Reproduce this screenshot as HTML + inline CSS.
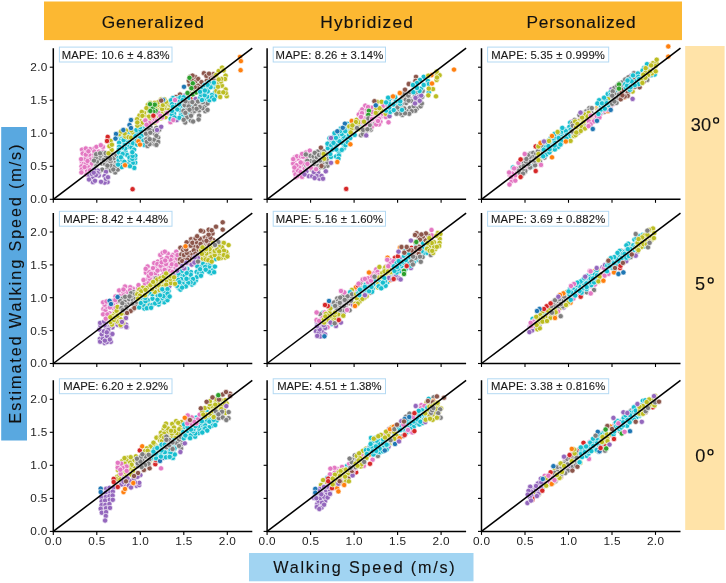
<!DOCTYPE html>
<html><head><meta charset="utf-8"><style>
html,body{margin:0;padding:0;background:#fff;width:726px;height:583px;overflow:hidden}
svg{display:block;will-change:transform}
circle{stroke:#fff;stroke-width:0.65px}
text{font-family:"Liberation Sans",sans-serif;fill:#111}
.tk{font-size:11.8px;fill:#222}
.mp{font-size:11.3px;fill:#1a1a1a;stroke:#1a1a1a;stroke-width:0.12px}
.hd{font-size:17.3px;fill:#111;stroke:#111;stroke-width:0.15px}
.rt{font-size:18.2px;fill:#111;stroke:#111;stroke-width:0.1px}
.lb{font-size:16.2px;fill:#111;stroke:#111;stroke-width:0.1px}
</style></head><body>
<svg width="726" height="583" viewBox="0 0 726 583">
<rect x="44" y="1.5" width="638" height="38.6" fill="#fcb832"/>
<text x="152.8" y="27.5" text-anchor="middle" class="hd" textLength="102" lengthAdjust="spacing">Generalized</text>
<text x="366.6" y="27.5" text-anchor="middle" class="hd" textLength="92.7" lengthAdjust="spacing">Hybridized</text>
<text x="581.0" y="27.5" text-anchor="middle" class="hd" textLength="109" lengthAdjust="spacing">Personalized</text>
<rect x="685.2" y="46" width="39.4" height="484" fill="#ffe3a8"/>
<text x="700.9" y="130.5" text-anchor="middle" class="rt">30</text>
<ellipse cx="716.1" cy="120.5" rx="2.45" ry="2.6" fill="none" stroke="#111" stroke-width="1.35"/>
<text x="700.0" y="290" text-anchor="middle" class="rt">5</text>
<ellipse cx="710.7" cy="280.4" rx="2.45" ry="2.6" fill="none" stroke="#111" stroke-width="1.35"/>
<text x="700.4" y="461.9" text-anchor="middle" class="rt">0</text>
<ellipse cx="710.5" cy="452.3" rx="2.45" ry="2.6" fill="none" stroke="#111" stroke-width="1.35"/>
<rect x="1.2" y="127" width="25.8" height="313.5" fill="#59a8e0"/>
<text transform="translate(21.3,284) rotate(-90)" text-anchor="middle" class="lb" textLength="279" lengthAdjust="spacing">Estimated Walking Speed (m/s)</text>
<rect x="249" y="553" width="224.5" height="28.3" fill="#a1d4f2"/>
<text x="364" y="572.7" text-anchor="middle" class="lb" textLength="181.5" lengthAdjust="spacing">Walking Speed (m/s)</text>
<g fill="#e377c2">
<circle cx="85.5" cy="151.4" r="2.65"/>
<circle cx="90.1" cy="149.1" r="2.65"/>
<circle cx="88.5" cy="157.6" r="2.65"/>
<circle cx="81.8" cy="161.7" r="2.65"/>
<circle cx="82.0" cy="149.6" r="2.65"/>
<circle cx="86.9" cy="171.0" r="2.65"/>
<circle cx="82.7" cy="153.5" r="2.65"/>
<circle cx="89.8" cy="174.5" r="2.65"/>
<circle cx="94.7" cy="148.4" r="2.65"/>
<circle cx="93.0" cy="155.4" r="2.65"/>
<circle cx="83.5" cy="163.9" r="2.65"/>
<circle cx="90.5" cy="159.4" r="2.65"/>
<circle cx="92.1" cy="167.3" r="2.65"/>
<circle cx="81.5" cy="166.4" r="2.65"/>
<circle cx="91.7" cy="163.6" r="2.65"/>
<circle cx="92.8" cy="174.4" r="2.65"/>
<circle cx="87.6" cy="166.3" r="2.65"/>
<circle cx="81.8" cy="169.3" r="2.65"/>
<circle cx="92.5" cy="172.1" r="2.65"/>
<circle cx="84.9" cy="159.0" r="2.65"/>
<circle cx="94.4" cy="151.4" r="2.65"/>
<circle cx="89.2" cy="154.6" r="2.65"/>
<circle cx="81.1" cy="159.1" r="2.65"/>
<circle cx="86.2" cy="163.4" r="2.65"/>
<circle cx="93.6" cy="169.6" r="2.65"/>
<circle cx="85.8" cy="148.5" r="2.65"/>
<circle cx="81.4" cy="172.4" r="2.65"/>
<circle cx="87.5" cy="161.0" r="2.65"/>
<circle cx="85.8" cy="154.7" r="2.65"/>
<circle cx="88.4" cy="151.3" r="2.65"/>
<circle cx="84.6" cy="167.1" r="2.65"/>
<circle cx="94.4" cy="160.0" r="2.65"/>
<circle cx="94.4" cy="157.6" r="2.65"/>
<circle cx="90.1" cy="170.2" r="2.65"/>
<circle cx="86.6" cy="174.5" r="2.65"/>
<circle cx="103.0" cy="147.0" r="2.65"/>
<circle cx="96.4" cy="146.8" r="2.65"/>
<circle cx="105.0" cy="154.7" r="2.65"/>
<circle cx="96.6" cy="154.9" r="2.65"/>
<circle cx="98.9" cy="151.6" r="2.65"/>
<circle cx="100.8" cy="156.2" r="2.65"/>
<circle cx="100.8" cy="145.2" r="2.65"/>
<circle cx="103.0" cy="151.7" r="2.65"/>
</g>
<g fill="#7f7f7f">
<circle cx="101.8" cy="163.4" r="2.65"/>
<circle cx="107.3" cy="168.7" r="2.65"/>
<circle cx="96.5" cy="164.2" r="2.65"/>
<circle cx="100.0" cy="158.5" r="2.65"/>
<circle cx="112.5" cy="163.2" r="2.65"/>
<circle cx="115.9" cy="161.9" r="2.65"/>
<circle cx="108.7" cy="163.1" r="2.65"/>
<circle cx="104.9" cy="163.7" r="2.65"/>
<circle cx="105.5" cy="171.8" r="2.65"/>
<circle cx="110.8" cy="170.5" r="2.65"/>
<circle cx="116.6" cy="158.2" r="2.65"/>
<circle cx="114.2" cy="155.7" r="2.65"/>
<circle cx="96.9" cy="161.8" r="2.65"/>
<circle cx="95.7" cy="157.8" r="2.65"/>
<circle cx="95.8" cy="166.4" r="2.65"/>
<circle cx="109.8" cy="155.9" r="2.65"/>
<circle cx="115.2" cy="172.4" r="2.65"/>
<circle cx="99.3" cy="172.1" r="2.65"/>
<circle cx="117.8" cy="169.6" r="2.65"/>
<circle cx="106.4" cy="159.8" r="2.65"/>
<circle cx="111.3" cy="153.4" r="2.65"/>
<circle cx="95.5" cy="172.7" r="2.65"/>
<circle cx="95.0" cy="168.6" r="2.65"/>
<circle cx="100.5" cy="155.6" r="2.65"/>
<circle cx="113.7" cy="158.2" r="2.65"/>
<circle cx="96.1" cy="154.2" r="2.65"/>
<circle cx="110.5" cy="161.5" r="2.65"/>
<circle cx="106.0" cy="156.6" r="2.65"/>
<circle cx="102.3" cy="153.4" r="2.65"/>
<circle cx="100.0" cy="153.3" r="2.65"/>
<circle cx="116.4" cy="155.1" r="2.65"/>
<circle cx="102.2" cy="169.6" r="2.65"/>
<circle cx="111.0" cy="165.7" r="2.65"/>
<circle cx="103.7" cy="160.0" r="2.65"/>
<circle cx="114.9" cy="166.4" r="2.65"/>
<circle cx="117.3" cy="163.9" r="2.65"/>
<circle cx="94.0" cy="160.6" r="2.65"/>
<circle cx="113.3" cy="169.5" r="2.65"/>
<circle cx="107.4" cy="165.6" r="2.65"/>
<circle cx="105.7" cy="153.1" r="2.65"/>
<circle cx="110.2" cy="158.8" r="2.65"/>
</g>
<g fill="#9467bd">
<circle cx="98.8" cy="175.5" r="2.65"/>
<circle cx="97.9" cy="170.7" r="2.65"/>
<circle cx="106.0" cy="171.8" r="2.65"/>
<circle cx="107.6" cy="182.1" r="2.65"/>
<circle cx="89.3" cy="175.4" r="2.65"/>
<circle cx="104.6" cy="182.6" r="2.65"/>
<circle cx="93.0" cy="182.2" r="2.65"/>
<circle cx="93.0" cy="177.1" r="2.65"/>
<circle cx="104.6" cy="176.1" r="2.65"/>
<circle cx="105.9" cy="178.8" r="2.65"/>
<circle cx="97.6" cy="173.2" r="2.65"/>
<circle cx="91.7" cy="173.8" r="2.65"/>
<circle cx="95.0" cy="180.8" r="2.65"/>
<circle cx="89.0" cy="179.5" r="2.65"/>
<circle cx="108.0" cy="177.2" r="2.65"/>
<circle cx="95.9" cy="175.0" r="2.65"/>
<circle cx="94.2" cy="169.7" r="2.65"/>
<circle cx="93.7" cy="172.7" r="2.65"/>
<circle cx="101.0" cy="181.8" r="2.65"/>
</g>
<g fill="#bcbd22">
<circle cx="111.7" cy="149.9" r="2.65"/>
<circle cx="110.6" cy="140.9" r="2.65"/>
<circle cx="109.4" cy="146.2" r="2.65"/>
<circle cx="108.5" cy="153.3" r="2.65"/>
<circle cx="111.9" cy="144.7" r="2.65"/>
</g>
<g fill="#17becf">
<circle cx="129.8" cy="143.5" r="2.65"/>
<circle cx="128.0" cy="146.8" r="2.65"/>
<circle cx="121.0" cy="138.7" r="2.65"/>
<circle cx="121.7" cy="164.7" r="2.65"/>
<circle cx="126.9" cy="140.7" r="2.65"/>
<circle cx="134.3" cy="167.9" r="2.65"/>
<circle cx="126.1" cy="137.9" r="2.65"/>
<circle cx="121.5" cy="136.2" r="2.65"/>
<circle cx="124.2" cy="136.2" r="2.65"/>
<circle cx="122.3" cy="142.0" r="2.65"/>
<circle cx="128.3" cy="164.1" r="2.65"/>
<circle cx="131.5" cy="147.4" r="2.65"/>
<circle cx="125.4" cy="151.3" r="2.65"/>
<circle cx="124.8" cy="144.8" r="2.65"/>
<circle cx="119.1" cy="142.7" r="2.65"/>
<circle cx="135.4" cy="137.4" r="2.65"/>
<circle cx="127.1" cy="155.0" r="2.65"/>
<circle cx="133.5" cy="140.6" r="2.65"/>
<circle cx="125.2" cy="148.6" r="2.65"/>
<circle cx="135.2" cy="162.7" r="2.65"/>
<circle cx="133.7" cy="133.8" r="2.65"/>
<circle cx="118.6" cy="157.8" r="2.65"/>
<circle cx="134.1" cy="149.6" r="2.65"/>
<circle cx="128.6" cy="133.0" r="2.65"/>
<circle cx="125.0" cy="165.4" r="2.65"/>
<circle cx="132.9" cy="162.9" r="2.65"/>
<circle cx="134.9" cy="158.3" r="2.65"/>
<circle cx="129.7" cy="159.8" r="2.65"/>
<circle cx="118.7" cy="160.4" r="2.65"/>
<circle cx="129.5" cy="157.5" r="2.65"/>
<circle cx="135.3" cy="155.6" r="2.65"/>
<circle cx="123.5" cy="133.8" r="2.65"/>
<circle cx="130.3" cy="139.9" r="2.65"/>
<circle cx="132.3" cy="158.9" r="2.65"/>
<circle cx="135.5" cy="143.9" r="2.65"/>
<circle cx="122.0" cy="159.6" r="2.65"/>
<circle cx="122.0" cy="147.6" r="2.65"/>
<circle cx="130.0" cy="166.2" r="2.65"/>
<circle cx="121.8" cy="167.1" r="2.65"/>
<circle cx="119.1" cy="146.8" r="2.65"/>
<circle cx="131.4" cy="134.1" r="2.65"/>
<circle cx="121.0" cy="133.1" r="2.65"/>
<circle cx="124.4" cy="161.8" r="2.65"/>
<circle cx="118.9" cy="149.6" r="2.65"/>
<circle cx="118.6" cy="135.2" r="2.65"/>
<circle cx="118.6" cy="152.3" r="2.65"/>
<circle cx="130.0" cy="137.2" r="2.65"/>
<circle cx="133.1" cy="143.3" r="2.65"/>
<circle cx="132.6" cy="155.9" r="2.65"/>
<circle cx="122.6" cy="154.0" r="2.65"/>
<circle cx="123.6" cy="140.1" r="2.65"/>
<circle cx="132.3" cy="152.2" r="2.65"/>
<circle cx="120.9" cy="157.3" r="2.65"/>
<circle cx="118.1" cy="164.6" r="2.65"/>
</g>
<g fill="#bcbd22">
<circle cx="125.4" cy="136.4" r="2.65"/>
<circle cx="125.9" cy="130.5" r="2.65"/>
<circle cx="119.2" cy="134.0" r="2.65"/>
<circle cx="128.6" cy="137.2" r="2.65"/>
<circle cx="124.6" cy="133.5" r="2.65"/>
<circle cx="121.2" cy="131.5" r="2.65"/>
<circle cx="131.1" cy="137.7" r="2.65"/>
<circle cx="132.9" cy="132.5" r="2.65"/>
<circle cx="131.4" cy="130.4" r="2.65"/>
</g>
<g fill="#17becf">
<circle cx="143.6" cy="129.4" r="2.65"/>
<circle cx="139.4" cy="141.9" r="2.65"/>
<circle cx="137.4" cy="133.0" r="2.65"/>
<circle cx="140.7" cy="132.7" r="2.65"/>
<circle cx="136.4" cy="129.9" r="2.65"/>
<circle cx="143.0" cy="142.9" r="2.65"/>
<circle cx="135.5" cy="136.2" r="2.65"/>
<circle cx="143.3" cy="125.8" r="2.65"/>
<circle cx="141.6" cy="136.0" r="2.65"/>
<circle cx="139.7" cy="138.2" r="2.65"/>
<circle cx="140.4" cy="129.7" r="2.65"/>
<circle cx="143.4" cy="140.6" r="2.65"/>
<circle cx="140.2" cy="127.1" r="2.65"/>
<circle cx="145.5" cy="127.7" r="2.65"/>
<circle cx="144.4" cy="144.9" r="2.65"/>
<circle cx="137.1" cy="144.6" r="2.65"/>
<circle cx="140.4" cy="144.1" r="2.65"/>
<circle cx="136.9" cy="140.7" r="2.65"/>
</g>
<g fill="#7f7f7f">
<circle cx="147.6" cy="137.1" r="2.65"/>
<circle cx="154.9" cy="133.8" r="2.65"/>
<circle cx="158.2" cy="137.5" r="2.65"/>
<circle cx="154.1" cy="143.8" r="2.65"/>
<circle cx="147.5" cy="145.9" r="2.65"/>
<circle cx="157.2" cy="132.0" r="2.65"/>
<circle cx="151.0" cy="141.5" r="2.65"/>
<circle cx="152.2" cy="130.4" r="2.65"/>
<circle cx="156.4" cy="127.9" r="2.65"/>
<circle cx="154.2" cy="139.6" r="2.65"/>
<circle cx="150.4" cy="127.0" r="2.65"/>
<circle cx="146.5" cy="129.8" r="2.65"/>
<circle cx="146.0" cy="133.7" r="2.65"/>
<circle cx="149.4" cy="129.8" r="2.65"/>
<circle cx="158.2" cy="141.9" r="2.65"/>
<circle cx="146.2" cy="139.3" r="2.65"/>
<circle cx="149.5" cy="144.2" r="2.65"/>
<circle cx="146.8" cy="141.8" r="2.65"/>
<circle cx="159.2" cy="129.7" r="2.65"/>
<circle cx="150.3" cy="132.7" r="2.65"/>
<circle cx="156.4" cy="135.8" r="2.65"/>
<circle cx="149.7" cy="139.2" r="2.65"/>
<circle cx="156.4" cy="144.9" r="2.65"/>
</g>
<g fill="#bcbd22">
<circle cx="165.4" cy="108.2" r="2.65"/>
<circle cx="170.4" cy="108.2" r="2.65"/>
<circle cx="146.1" cy="124.4" r="2.65"/>
<circle cx="161.0" cy="118.4" r="2.65"/>
<circle cx="154.8" cy="122.5" r="2.65"/>
<circle cx="153.6" cy="119.3" r="2.65"/>
<circle cx="158.7" cy="107.6" r="2.65"/>
<circle cx="145.1" cy="116.4" r="2.65"/>
<circle cx="140.0" cy="124.5" r="2.65"/>
<circle cx="150.1" cy="103.0" r="2.65"/>
<circle cx="163.3" cy="116.7" r="2.65"/>
<circle cx="139.5" cy="115.5" r="2.65"/>
<circle cx="150.8" cy="121.9" r="2.65"/>
<circle cx="161.0" cy="107.0" r="2.65"/>
<circle cx="165.8" cy="104.7" r="2.65"/>
<circle cx="149.1" cy="110.9" r="2.65"/>
<circle cx="147.7" cy="119.0" r="2.65"/>
<circle cx="151.0" cy="108.0" r="2.65"/>
<circle cx="150.2" cy="118.7" r="2.65"/>
<circle cx="157.4" cy="105.1" r="2.65"/>
<circle cx="169.8" cy="101.5" r="2.65"/>
<circle cx="168.2" cy="103.8" r="2.65"/>
<circle cx="144.0" cy="112.8" r="2.65"/>
<circle cx="147.8" cy="105.0" r="2.65"/>
<circle cx="163.6" cy="113.0" r="2.65"/>
<circle cx="140.1" cy="121.1" r="2.65"/>
<circle cx="152.2" cy="110.0" r="2.65"/>
<circle cx="171.2" cy="113.0" r="2.65"/>
<circle cx="157.2" cy="120.1" r="2.65"/>
<circle cx="165.6" cy="117.1" r="2.65"/>
<circle cx="142.9" cy="122.6" r="2.65"/>
<circle cx="141.8" cy="111.9" r="2.65"/>
<circle cx="170.6" cy="105.7" r="2.65"/>
<circle cx="146.4" cy="108.1" r="2.65"/>
<circle cx="161.0" cy="112.0" r="2.65"/>
<circle cx="142.4" cy="115.9" r="2.65"/>
<circle cx="153.0" cy="105.4" r="2.65"/>
<circle cx="148.9" cy="116.6" r="2.65"/>
<circle cx="156.5" cy="116.9" r="2.65"/>
<circle cx="168.5" cy="113.6" r="2.65"/>
<circle cx="145.5" cy="119.8" r="2.65"/>
<circle cx="154.8" cy="114.7" r="2.65"/>
<circle cx="154.8" cy="107.2" r="2.65"/>
<circle cx="157.8" cy="102.5" r="2.65"/>
<circle cx="137.1" cy="119.2" r="2.65"/>
<circle cx="153.3" cy="116.8" r="2.65"/>
<circle cx="162.1" cy="109.1" r="2.65"/>
<circle cx="161.1" cy="99.4" r="2.65"/>
<circle cx="137.4" cy="125.6" r="2.65"/>
<circle cx="154.7" cy="103.0" r="2.65"/>
<circle cx="137.3" cy="122.5" r="2.65"/>
<circle cx="173.5" cy="101.1" r="2.65"/>
<circle cx="156.4" cy="112.6" r="2.65"/>
<circle cx="168.5" cy="110.3" r="2.65"/>
<circle cx="162.9" cy="105.0" r="2.65"/>
<circle cx="166.0" cy="101.8" r="2.65"/>
<circle cx="164.3" cy="99.3" r="2.65"/>
</g>
<g fill="#e377c2">
<circle cx="145.4" cy="120.5" r="2.65"/>
<circle cx="167.1" cy="113.0" r="2.65"/>
<circle cx="153.4" cy="121.5" r="2.65"/>
<circle cx="149.5" cy="123.2" r="2.65"/>
<circle cx="158.1" cy="112.8" r="2.65"/>
<circle cx="154.9" cy="119.5" r="2.65"/>
<circle cx="156.8" cy="120.8" r="2.65"/>
<circle cx="162.0" cy="117.4" r="2.65"/>
<circle cx="170.5" cy="122.2" r="2.65"/>
<circle cx="160.3" cy="115.8" r="2.65"/>
<circle cx="146.6" cy="124.7" r="2.65"/>
</g>
<g fill="#2ca02c">
<circle cx="155.6" cy="110.9" r="2.65"/>
<circle cx="152.7" cy="108.3" r="2.65"/>
<circle cx="154.8" cy="104.7" r="2.65"/>
<circle cx="153.4" cy="111.7" r="2.65"/>
<circle cx="150.0" cy="104.2" r="2.65"/>
<circle cx="150.3" cy="111.0" r="2.65"/>
</g>
<g fill="#d62728">
<circle cx="107.7" cy="136.9" r="2.65"/>
<circle cx="107.0" cy="141.0" r="2.65"/>
<circle cx="132.6" cy="189.2" r="2.65"/>
<circle cx="153.4" cy="115.7" r="2.65"/>
<circle cx="190.6" cy="99.0" r="2.65"/>
</g>
<g fill="#1f77b4">
<circle cx="116.0" cy="134.0" r="2.65"/>
<circle cx="115.5" cy="138.6" r="2.65"/>
<circle cx="131.0" cy="120.0" r="2.65"/>
<circle cx="129.5" cy="125.0" r="2.65"/>
<circle cx="131.0" cy="128.0" r="2.65"/>
<circle cx="123.3" cy="130.0" r="2.65"/>
<circle cx="163.0" cy="100.0" r="2.65"/>
</g>
<g fill="#ff7f0e">
<circle cx="138.4" cy="141.3" r="2.65"/>
<circle cx="140.0" cy="144.6" r="2.65"/>
<circle cx="125.0" cy="165.2" r="2.65"/>
</g>
<g fill="#9467bd">
<circle cx="161.2" cy="126.8" r="2.65"/>
<circle cx="176.8" cy="120.0" r="2.65"/>
<circle cx="157.0" cy="130.0" r="2.65"/>
<circle cx="195.6" cy="99.0" r="2.65"/>
<circle cx="205.7" cy="104.6" r="2.65"/>
<circle cx="184.5" cy="95.7" r="2.65"/>
</g>
<g fill="#8c564b">
<circle cx="161.2" cy="100.6" r="2.65"/>
<circle cx="180.0" cy="94.5" r="2.65"/>
<circle cx="176.0" cy="97.0" r="2.65"/>
</g>
<g fill="#17becf">
<circle cx="186.2" cy="116.1" r="2.65"/>
<circle cx="181.4" cy="103.0" r="2.65"/>
<circle cx="183.7" cy="117.1" r="2.65"/>
<circle cx="176.9" cy="98.9" r="2.65"/>
<circle cx="181.1" cy="114.5" r="2.65"/>
<circle cx="174.0" cy="113.5" r="2.65"/>
<circle cx="188.6" cy="102.1" r="2.65"/>
<circle cx="182.1" cy="111.9" r="2.65"/>
<circle cx="179.3" cy="101.5" r="2.65"/>
<circle cx="185.8" cy="107.1" r="2.65"/>
<circle cx="171.8" cy="114.7" r="2.65"/>
<circle cx="185.4" cy="102.1" r="2.65"/>
<circle cx="187.7" cy="108.5" r="2.65"/>
<circle cx="179.5" cy="110.0" r="2.65"/>
<circle cx="173.8" cy="101.2" r="2.65"/>
<circle cx="177.3" cy="109.4" r="2.65"/>
<circle cx="173.0" cy="98.0" r="2.65"/>
<circle cx="189.9" cy="105.2" r="2.65"/>
<circle cx="172.1" cy="110.9" r="2.65"/>
<circle cx="180.4" cy="97.5" r="2.65"/>
<circle cx="170.7" cy="118.8" r="2.65"/>
<circle cx="188.9" cy="113.9" r="2.65"/>
<circle cx="179.2" cy="117.8" r="2.65"/>
<circle cx="188.2" cy="98.4" r="2.65"/>
<circle cx="182.0" cy="105.7" r="2.65"/>
<circle cx="189.3" cy="118.8" r="2.65"/>
<circle cx="175.1" cy="104.7" r="2.65"/>
<circle cx="185.7" cy="112.6" r="2.65"/>
<circle cx="171.1" cy="100.2" r="2.65"/>
<circle cx="172.1" cy="104.1" r="2.65"/>
<circle cx="183.6" cy="97.3" r="2.65"/>
<circle cx="174.4" cy="117.5" r="2.65"/>
<circle cx="172.8" cy="106.8" r="2.65"/>
<circle cx="179.0" cy="104.5" r="2.65"/>
<circle cx="182.6" cy="100.1" r="2.65"/>
<circle cx="184.3" cy="109.2" r="2.65"/>
<circle cx="186.8" cy="104.4" r="2.65"/>
</g>
<g fill="#7f7f7f">
<circle cx="186.7" cy="110.3" r="2.65"/>
<circle cx="190.9" cy="120.6" r="2.65"/>
<circle cx="185.2" cy="122.5" r="2.65"/>
<circle cx="200.7" cy="103.3" r="2.65"/>
<circle cx="195.4" cy="105.2" r="2.65"/>
<circle cx="189.2" cy="103.0" r="2.65"/>
<circle cx="184.7" cy="105.2" r="2.65"/>
<circle cx="207.1" cy="99.4" r="2.65"/>
<circle cx="202.3" cy="105.3" r="2.65"/>
<circle cx="209.4" cy="98.4" r="2.65"/>
<circle cx="204.6" cy="106.5" r="2.65"/>
<circle cx="205.3" cy="111.2" r="2.65"/>
<circle cx="207.5" cy="103.5" r="2.65"/>
<circle cx="198.0" cy="101.5" r="2.65"/>
<circle cx="187.0" cy="117.3" r="2.65"/>
<circle cx="199.0" cy="110.4" r="2.65"/>
<circle cx="199.1" cy="115.7" r="2.65"/>
<circle cx="202.5" cy="108.2" r="2.65"/>
<circle cx="202.2" cy="99.4" r="2.65"/>
<circle cx="207.5" cy="109.9" r="2.65"/>
<circle cx="192.3" cy="102.1" r="2.65"/>
<circle cx="192.4" cy="112.9" r="2.65"/>
<circle cx="194.5" cy="110.9" r="2.65"/>
<circle cx="191.0" cy="115.8" r="2.65"/>
<circle cx="183.7" cy="119.8" r="2.65"/>
<circle cx="198.6" cy="119.5" r="2.65"/>
<circle cx="202.9" cy="102.1" r="2.65"/>
<circle cx="192.9" cy="108.5" r="2.65"/>
<circle cx="193.1" cy="121.5" r="2.65"/>
<circle cx="188.7" cy="106.4" r="2.65"/>
<circle cx="183.5" cy="110.9" r="2.65"/>
<circle cx="199.7" cy="107.1" r="2.65"/>
<circle cx="196.6" cy="108.8" r="2.65"/>
<circle cx="185.4" cy="112.9" r="2.65"/>
<circle cx="189.5" cy="109.7" r="2.65"/>
<circle cx="185.5" cy="101.3" r="2.65"/>
</g>
<g fill="#8c564b">
<circle cx="195.5" cy="81.2" r="2.65"/>
<circle cx="195.4" cy="77.1" r="2.65"/>
<circle cx="189.5" cy="84.7" r="2.65"/>
<circle cx="203.5" cy="87.3" r="2.65"/>
<circle cx="192.8" cy="88.8" r="2.65"/>
<circle cx="200.4" cy="84.7" r="2.65"/>
<circle cx="204.8" cy="82.7" r="2.65"/>
<circle cx="193.4" cy="83.8" r="2.65"/>
<circle cx="198.1" cy="85.6" r="2.65"/>
<circle cx="212.0" cy="77.0" r="2.65"/>
<circle cx="195.6" cy="90.3" r="2.65"/>
<circle cx="212.3" cy="82.0" r="2.65"/>
<circle cx="188.8" cy="80.7" r="2.65"/>
<circle cx="199.8" cy="89.4" r="2.65"/>
<circle cx="190.2" cy="76.6" r="2.65"/>
<circle cx="191.5" cy="79.4" r="2.65"/>
<circle cx="197.2" cy="87.9" r="2.65"/>
<circle cx="210.8" cy="83.9" r="2.65"/>
<circle cx="213.5" cy="74.2" r="2.65"/>
<circle cx="209.2" cy="85.6" r="2.65"/>
<circle cx="208.0" cy="78.3" r="2.65"/>
<circle cx="198.2" cy="79.0" r="2.65"/>
<circle cx="201.5" cy="82.1" r="2.65"/>
<circle cx="203.9" cy="73.2" r="2.65"/>
<circle cx="213.7" cy="79.1" r="2.65"/>
<circle cx="214.8" cy="76.1" r="2.65"/>
<circle cx="206.9" cy="80.7" r="2.65"/>
<circle cx="206.6" cy="84.1" r="2.65"/>
<circle cx="202.4" cy="91.4" r="2.65"/>
<circle cx="192.5" cy="75.6" r="2.65"/>
<circle cx="206.4" cy="75.9" r="2.65"/>
<circle cx="194.7" cy="87.2" r="2.65"/>
<circle cx="209.0" cy="73.7" r="2.65"/>
<circle cx="204.8" cy="91.2" r="2.65"/>
<circle cx="189.9" cy="93.6" r="2.65"/>
</g>
<g fill="#2ca02c">
<circle cx="192.8" cy="83.3" r="2.65"/>
<circle cx="187.5" cy="93.0" r="2.65"/>
<circle cx="192.8" cy="94.3" r="2.65"/>
<circle cx="191.4" cy="88.2" r="2.65"/>
<circle cx="189.5" cy="77.8" r="2.65"/>
<circle cx="196.3" cy="92.4" r="2.65"/>
</g>
<g fill="#1f77b4">
<circle cx="184.0" cy="86.8" r="2.65"/>
</g>
<g fill="#17becf">
<circle cx="204.0" cy="98.9" r="2.65"/>
<circle cx="213.5" cy="86.4" r="2.65"/>
<circle cx="209.4" cy="100.2" r="2.65"/>
<circle cx="202.6" cy="88.2" r="2.65"/>
<circle cx="211.7" cy="84.6" r="2.65"/>
<circle cx="207.2" cy="96.6" r="2.65"/>
<circle cx="216.5" cy="86.1" r="2.65"/>
<circle cx="208.7" cy="82.4" r="2.65"/>
<circle cx="208.1" cy="88.1" r="2.65"/>
<circle cx="200.3" cy="97.3" r="2.65"/>
<circle cx="204.7" cy="85.1" r="2.65"/>
<circle cx="210.6" cy="87.2" r="2.65"/>
<circle cx="201.0" cy="94.8" r="2.65"/>
<circle cx="213.9" cy="82.7" r="2.65"/>
<circle cx="204.7" cy="95.2" r="2.65"/>
<circle cx="202.0" cy="100.0" r="2.65"/>
<circle cx="207.6" cy="84.8" r="2.65"/>
<circle cx="215.1" cy="92.3" r="2.65"/>
<circle cx="207.7" cy="91.4" r="2.65"/>
<circle cx="200.1" cy="91.8" r="2.65"/>
<circle cx="204.9" cy="90.5" r="2.65"/>
<circle cx="215.3" cy="96.3" r="2.65"/>
<circle cx="211.9" cy="95.0" r="2.65"/>
<circle cx="212.2" cy="97.4" r="2.65"/>
<circle cx="216.0" cy="88.9" r="2.65"/>
<circle cx="214.1" cy="99.5" r="2.65"/>
</g>
<g fill="#bcbd22">
<circle cx="216.4" cy="90.9" r="2.65"/>
<circle cx="225.6" cy="89.5" r="2.65"/>
<circle cx="218.6" cy="71.1" r="2.65"/>
<circle cx="225.6" cy="75.6" r="2.65"/>
<circle cx="219.2" cy="83.2" r="2.65"/>
<circle cx="219.2" cy="92.4" r="2.65"/>
<circle cx="221.9" cy="85.7" r="2.65"/>
<circle cx="226.7" cy="96.2" r="2.65"/>
<circle cx="220.9" cy="81.5" r="2.65"/>
<circle cx="216.2" cy="74.9" r="2.65"/>
<circle cx="222.1" cy="67.6" r="2.65"/>
<circle cx="223.6" cy="70.4" r="2.65"/>
<circle cx="220.2" cy="97.0" r="2.65"/>
<circle cx="225.8" cy="93.2" r="2.65"/>
<circle cx="225.0" cy="79.0" r="2.65"/>
<circle cx="218.0" cy="86.8" r="2.65"/>
<circle cx="221.2" cy="78.9" r="2.65"/>
<circle cx="218.7" cy="79.5" r="2.65"/>
<circle cx="223.3" cy="92.3" r="2.65"/>
</g>
<g fill="#e377c2">
<circle cx="173.3" cy="120.0" r="2.65"/>
<circle cx="175.0" cy="100.0" r="2.65"/>
</g>
<g fill="#ff7f0e">
<circle cx="240.0" cy="56.9" r="2.65"/>
<circle cx="240.9" cy="61.1" r="2.65"/>
<circle cx="240.6" cy="70.2" r="2.65"/>
</g>
<line x1="53.3" y1="199.3" x2="252.3" y2="48.2" stroke="#000" stroke-width="1.55"/>
<path d="M53.3 48.2V199.3H252.3" fill="none" stroke="#000" stroke-width="1.5"/>
<line x1="53.3" y1="199.3" x2="53.3" y2="202.8" stroke="#000" stroke-width="1.1"/>
<line x1="49.8" y1="199.3" x2="53.3" y2="199.3" stroke="#000" stroke-width="1.1"/>
<text x="47.3" y="203.2" text-anchor="end" class="tk" textLength="17" lengthAdjust="spacing">0.0</text>
<line x1="96.8" y1="199.3" x2="96.8" y2="202.8" stroke="#000" stroke-width="1.1"/>
<line x1="49.8" y1="166.3" x2="53.3" y2="166.3" stroke="#000" stroke-width="1.1"/>
<text x="47.3" y="170.2" text-anchor="end" class="tk" textLength="17" lengthAdjust="spacing">0.5</text>
<line x1="140.3" y1="199.3" x2="140.3" y2="202.8" stroke="#000" stroke-width="1.1"/>
<line x1="49.8" y1="133.2" x2="53.3" y2="133.2" stroke="#000" stroke-width="1.1"/>
<text x="47.3" y="137.1" text-anchor="end" class="tk" textLength="17" lengthAdjust="spacing">1.0</text>
<line x1="183.8" y1="199.3" x2="183.8" y2="202.8" stroke="#000" stroke-width="1.1"/>
<line x1="49.8" y1="100.2" x2="53.3" y2="100.2" stroke="#000" stroke-width="1.1"/>
<text x="47.3" y="104.1" text-anchor="end" class="tk" textLength="17" lengthAdjust="spacing">1.5</text>
<line x1="227.3" y1="199.3" x2="227.3" y2="202.8" stroke="#000" stroke-width="1.1"/>
<line x1="49.8" y1="67.2" x2="53.3" y2="67.2" stroke="#000" stroke-width="1.1"/>
<text x="47.3" y="71.1" text-anchor="end" class="tk" textLength="17" lengthAdjust="spacing">2.0</text>
<rect x="59.4" y="47.1" width="112.6" height="14.9" fill="#fff" stroke="#b3d9f3" stroke-width="1"/>
<text x="115.7" y="58.7" text-anchor="middle" class="mp" textLength="107.9" lengthAdjust="spacing">MAPE: 10.6 ± 4.83%</text>
<g fill="#e377c2">
<circle cx="295.9" cy="177.2" r="2.65"/>
<circle cx="294.6" cy="171.5" r="2.65"/>
<circle cx="294.1" cy="161.4" r="2.65"/>
<circle cx="306.0" cy="160.6" r="2.65"/>
<circle cx="301.3" cy="166.1" r="2.65"/>
<circle cx="298.9" cy="166.9" r="2.65"/>
<circle cx="295.5" cy="174.3" r="2.65"/>
<circle cx="298.3" cy="175.8" r="2.65"/>
<circle cx="297.9" cy="158.5" r="2.65"/>
<circle cx="297.9" cy="170.5" r="2.65"/>
<circle cx="304.7" cy="168.8" r="2.65"/>
<circle cx="294.8" cy="157.4" r="2.65"/>
<circle cx="300.5" cy="172.0" r="2.65"/>
<circle cx="302.1" cy="176.9" r="2.65"/>
<circle cx="293.2" cy="163.6" r="2.65"/>
<circle cx="296.5" cy="165.3" r="2.65"/>
<circle cx="296.9" cy="156.3" r="2.65"/>
<circle cx="302.9" cy="163.5" r="2.65"/>
<circle cx="300.7" cy="162.4" r="2.65"/>
<circle cx="294.4" cy="167.5" r="2.65"/>
<circle cx="305.7" cy="157.4" r="2.65"/>
<circle cx="293.2" cy="159.1" r="2.65"/>
<circle cx="305.5" cy="172.7" r="2.65"/>
<circle cx="300.9" cy="156.5" r="2.65"/>
<circle cx="306.0" cy="152.5" r="2.65"/>
<circle cx="303.0" cy="156.7" r="2.65"/>
<circle cx="310.3" cy="153.0" r="2.65"/>
<circle cx="309.8" cy="150.6" r="2.65"/>
<circle cx="302.1" cy="153.9" r="2.65"/>
<circle cx="312.0" cy="154.9" r="2.65"/>
</g>
<g fill="#7f7f7f">
<circle cx="310.4" cy="155.8" r="2.65"/>
<circle cx="318.1" cy="171.5" r="2.65"/>
<circle cx="313.9" cy="170.7" r="2.65"/>
<circle cx="325.4" cy="160.9" r="2.65"/>
<circle cx="323.8" cy="155.8" r="2.65"/>
<circle cx="325.3" cy="153.5" r="2.65"/>
<circle cx="312.0" cy="163.1" r="2.65"/>
<circle cx="325.2" cy="164.7" r="2.65"/>
<circle cx="327.5" cy="165.7" r="2.65"/>
<circle cx="313.7" cy="158.8" r="2.65"/>
<circle cx="316.8" cy="161.2" r="2.65"/>
<circle cx="306.6" cy="165.9" r="2.65"/>
<circle cx="307.8" cy="168.1" r="2.65"/>
<circle cx="311.7" cy="169.4" r="2.65"/>
<circle cx="323.7" cy="167.2" r="2.65"/>
<circle cx="314.3" cy="164.1" r="2.65"/>
<circle cx="308.3" cy="163.0" r="2.65"/>
<circle cx="321.4" cy="151.0" r="2.65"/>
<circle cx="316.1" cy="169.0" r="2.65"/>
<circle cx="320.7" cy="157.4" r="2.65"/>
<circle cx="322.4" cy="162.8" r="2.65"/>
<circle cx="313.6" cy="156.5" r="2.65"/>
<circle cx="317.5" cy="151.6" r="2.65"/>
<circle cx="323.8" cy="151.3" r="2.65"/>
<circle cx="309.2" cy="166.2" r="2.65"/>
<circle cx="318.3" cy="165.9" r="2.65"/>
<circle cx="322.7" cy="160.0" r="2.65"/>
<circle cx="314.8" cy="152.9" r="2.65"/>
<circle cx="327.5" cy="162.3" r="2.65"/>
<circle cx="316.8" cy="157.4" r="2.65"/>
<circle cx="327.5" cy="155.7" r="2.65"/>
<circle cx="310.2" cy="161.1" r="2.65"/>
<circle cx="305.8" cy="154.4" r="2.65"/>
<circle cx="320.5" cy="167.1" r="2.65"/>
<circle cx="319.0" cy="155.0" r="2.65"/>
<circle cx="320.1" cy="160.5" r="2.65"/>
<circle cx="314.2" cy="161.6" r="2.65"/>
<circle cx="322.2" cy="153.9" r="2.65"/>
<circle cx="307.3" cy="160.8" r="2.65"/>
<circle cx="326.7" cy="158.8" r="2.65"/>
</g>
<g fill="#9467bd">
<circle cx="306.4" cy="171.3" r="2.65"/>
<circle cx="319.3" cy="178.6" r="2.65"/>
<circle cx="318.3" cy="173.1" r="2.65"/>
<circle cx="316.7" cy="175.9" r="2.65"/>
<circle cx="308.8" cy="176.2" r="2.65"/>
<circle cx="304.5" cy="174.4" r="2.65"/>
<circle cx="312.1" cy="176.2" r="2.65"/>
<circle cx="321.6" cy="175.9" r="2.65"/>
<circle cx="314.6" cy="178.0" r="2.65"/>
<circle cx="323.0" cy="178.7" r="2.65"/>
<circle cx="313.8" cy="172.0" r="2.65"/>
<circle cx="325.8" cy="171.3" r="2.65"/>
</g>
<g fill="#e377c2">
<circle cx="308.8" cy="165.9" r="2.65"/>
<circle cx="316.1" cy="169.2" r="2.65"/>
<circle cx="310.8" cy="167.7" r="2.65"/>
<circle cx="307.4" cy="163.9" r="2.65"/>
</g>
<g fill="#bcbd22">
<circle cx="323.6" cy="154.0" r="2.65"/>
<circle cx="324.3" cy="158.7" r="2.65"/>
</g>
<g fill="#8c564b">
<circle cx="320.9" cy="147.7" r="2.65"/>
<circle cx="321.5" cy="166.0" r="2.65"/>
</g>
<g fill="#e377c2">
<circle cx="330.1" cy="146.7" r="2.65"/>
<circle cx="327.7" cy="146.2" r="2.65"/>
<circle cx="328.7" cy="142.8" r="2.65"/>
</g>
<g fill="#17becf">
<circle cx="345.1" cy="128.7" r="2.65"/>
<circle cx="347.8" cy="123.9" r="2.65"/>
<circle cx="338.1" cy="136.0" r="2.65"/>
<circle cx="337.3" cy="140.0" r="2.65"/>
<circle cx="332.2" cy="140.1" r="2.65"/>
<circle cx="342.8" cy="139.2" r="2.65"/>
<circle cx="343.8" cy="136.6" r="2.65"/>
<circle cx="353.5" cy="127.2" r="2.65"/>
<circle cx="330.9" cy="157.0" r="2.65"/>
<circle cx="343.8" cy="148.2" r="2.65"/>
<circle cx="347.6" cy="138.4" r="2.65"/>
<circle cx="336.1" cy="156.5" r="2.65"/>
<circle cx="350.1" cy="128.4" r="2.65"/>
<circle cx="347.8" cy="132.4" r="2.65"/>
<circle cx="343.0" cy="143.2" r="2.65"/>
<circle cx="350.3" cy="138.1" r="2.65"/>
<circle cx="352.3" cy="122.2" r="2.65"/>
<circle cx="339.1" cy="133.8" r="2.65"/>
<circle cx="330.3" cy="154.0" r="2.65"/>
<circle cx="341.8" cy="134.0" r="2.65"/>
<circle cx="357.3" cy="126.8" r="2.65"/>
<circle cx="339.0" cy="152.1" r="2.65"/>
<circle cx="356.8" cy="129.6" r="2.65"/>
<circle cx="329.5" cy="138.2" r="2.65"/>
<circle cx="351.1" cy="133.1" r="2.65"/>
<circle cx="345.5" cy="145.2" r="2.65"/>
<circle cx="350.8" cy="124.9" r="2.65"/>
<circle cx="338.9" cy="155.4" r="2.65"/>
<circle cx="336.3" cy="145.5" r="2.65"/>
<circle cx="340.8" cy="128.5" r="2.65"/>
<circle cx="327.9" cy="148.2" r="2.65"/>
<circle cx="338.4" cy="158.8" r="2.65"/>
<circle cx="347.7" cy="142.3" r="2.65"/>
<circle cx="327.5" cy="143.7" r="2.65"/>
<circle cx="331.3" cy="145.4" r="2.65"/>
<circle cx="334.3" cy="135.7" r="2.65"/>
<circle cx="337.5" cy="131.3" r="2.65"/>
<circle cx="339.9" cy="131.2" r="2.65"/>
<circle cx="332.6" cy="149.5" r="2.65"/>
<circle cx="339.5" cy="141.4" r="2.65"/>
<circle cx="336.4" cy="149.5" r="2.65"/>
<circle cx="348.9" cy="135.0" r="2.65"/>
<circle cx="335.9" cy="137.8" r="2.65"/>
<circle cx="334.5" cy="133.1" r="2.65"/>
<circle cx="345.2" cy="131.2" r="2.65"/>
<circle cx="341.8" cy="149.9" r="2.65"/>
<circle cx="359.5" cy="124.9" r="2.65"/>
<circle cx="354.7" cy="134.9" r="2.65"/>
<circle cx="348.8" cy="126.1" r="2.65"/>
<circle cx="333.5" cy="142.9" r="2.65"/>
</g>
<g fill="#e377c2">
<circle cx="367.5" cy="112.5" r="2.65"/>
<circle cx="374.7" cy="116.3" r="2.65"/>
<circle cx="371.0" cy="119.5" r="2.65"/>
<circle cx="367.7" cy="116.2" r="2.65"/>
<circle cx="380.7" cy="109.9" r="2.65"/>
<circle cx="375.6" cy="108.6" r="2.65"/>
<circle cx="360.7" cy="111.8" r="2.65"/>
<circle cx="373.3" cy="110.8" r="2.65"/>
<circle cx="358.8" cy="114.5" r="2.65"/>
<circle cx="361.6" cy="119.4" r="2.65"/>
<circle cx="379.8" cy="120.6" r="2.65"/>
<circle cx="371.1" cy="114.3" r="2.65"/>
<circle cx="367.4" cy="124.0" r="2.65"/>
<circle cx="380.8" cy="116.5" r="2.65"/>
<circle cx="372.3" cy="107.6" r="2.65"/>
<circle cx="362.3" cy="109.3" r="2.65"/>
<circle cx="366.8" cy="109.9" r="2.65"/>
<circle cx="374.4" cy="113.3" r="2.65"/>
<circle cx="376.9" cy="116.9" r="2.65"/>
</g>
<g fill="#17becf">
<circle cx="388.6" cy="98.2" r="2.65"/>
<circle cx="394.0" cy="110.6" r="2.65"/>
<circle cx="398.9" cy="105.0" r="2.65"/>
<circle cx="387.2" cy="110.6" r="2.65"/>
</g>
<g fill="#1f77b4">
<circle cx="344.9" cy="123.7" r="2.65"/>
<circle cx="342.8" cy="127.8" r="2.65"/>
<circle cx="337.3" cy="131.3" r="2.65"/>
</g>
<g fill="#ff7f0e">
<circle cx="337.3" cy="162.0" r="2.65"/>
<circle cx="351.7" cy="121.0" r="2.65"/>
<circle cx="350.4" cy="144.3" r="2.65"/>
</g>
<g fill="#9467bd">
<circle cx="331.0" cy="138.0" r="2.65"/>
<circle cx="366.0" cy="135.4" r="2.65"/>
<circle cx="331.0" cy="162.8" r="2.65"/>
</g>
<g fill="#bcbd22">
<circle cx="349.3" cy="126.4" r="2.65"/>
<circle cx="357.4" cy="125.3" r="2.65"/>
<circle cx="362.2" cy="119.3" r="2.65"/>
<circle cx="361.3" cy="129.3" r="2.65"/>
<circle cx="365.4" cy="123.2" r="2.65"/>
<circle cx="352.2" cy="128.4" r="2.65"/>
<circle cx="359.3" cy="122.1" r="2.65"/>
<circle cx="365.5" cy="119.4" r="2.65"/>
<circle cx="358.7" cy="128.9" r="2.65"/>
<circle cx="356.1" cy="128.3" r="2.65"/>
<circle cx="356.6" cy="119.8" r="2.65"/>
<circle cx="355.9" cy="122.0" r="2.65"/>
<circle cx="352.4" cy="125.4" r="2.65"/>
<circle cx="350.7" cy="132.4" r="2.65"/>
<circle cx="363.7" cy="125.6" r="2.65"/>
</g>
<g fill="#7f7f7f">
<circle cx="370.8" cy="129.8" r="2.65"/>
<circle cx="361.0" cy="135.3" r="2.65"/>
<circle cx="366.0" cy="131.0" r="2.65"/>
<circle cx="357.0" cy="128.0" r="2.65"/>
</g>
<g fill="#e377c2">
<circle cx="371.8" cy="126.8" r="2.65"/>
<circle cx="374.3" cy="122.9" r="2.65"/>
<circle cx="365.1" cy="127.2" r="2.65"/>
<circle cx="380.7" cy="114.8" r="2.65"/>
<circle cx="365.0" cy="129.8" r="2.65"/>
<circle cx="373.3" cy="119.4" r="2.65"/>
<circle cx="370.0" cy="123.3" r="2.65"/>
<circle cx="378.1" cy="122.7" r="2.65"/>
</g>
<g fill="#7f7f7f">
<circle cx="378.5" cy="120.0" r="2.65"/>
<circle cx="369.6" cy="128.9" r="2.65"/>
<circle cx="363.5" cy="127.2" r="2.65"/>
<circle cx="375.1" cy="123.6" r="2.65"/>
<circle cx="369.7" cy="125.1" r="2.65"/>
<circle cx="362.7" cy="133.9" r="2.65"/>
</g>
<g fill="#e377c2">
<circle cx="377.9" cy="115.5" r="2.65"/>
<circle cx="380.4" cy="121.7" r="2.65"/>
<circle cx="368.5" cy="110.8" r="2.65"/>
<circle cx="375.5" cy="106.9" r="2.65"/>
<circle cx="382.8" cy="109.0" r="2.65"/>
<circle cx="369.0" cy="120.6" r="2.65"/>
<circle cx="385.8" cy="110.2" r="2.65"/>
<circle cx="363.6" cy="118.4" r="2.65"/>
<circle cx="377.8" cy="113.1" r="2.65"/>
<circle cx="365.1" cy="124.4" r="2.65"/>
<circle cx="362.9" cy="122.2" r="2.65"/>
<circle cx="372.0" cy="107.7" r="2.65"/>
<circle cx="383.4" cy="105.7" r="2.65"/>
<circle cx="378.9" cy="124.4" r="2.65"/>
<circle cx="365.3" cy="105.6" r="2.65"/>
<circle cx="388.5" cy="122.3" r="2.65"/>
<circle cx="380.1" cy="111.2" r="2.65"/>
<circle cx="378.9" cy="118.8" r="2.65"/>
<circle cx="360.5" cy="117.1" r="2.65"/>
<circle cx="362.0" cy="113.1" r="2.65"/>
<circle cx="376.1" cy="124.4" r="2.65"/>
<circle cx="375.6" cy="109.5" r="2.65"/>
<circle cx="368.0" cy="107.0" r="2.65"/>
<circle cx="377.1" cy="120.5" r="2.65"/>
<circle cx="367.4" cy="118.0" r="2.65"/>
<circle cx="382.7" cy="113.6" r="2.65"/>
<circle cx="387.4" cy="105.2" r="2.65"/>
<circle cx="385.8" cy="117.0" r="2.65"/>
<circle cx="372.0" cy="111.9" r="2.65"/>
</g>
<g fill="#bcbd22">
<circle cx="377.8" cy="110.5" r="2.65"/>
<circle cx="387.8" cy="101.6" r="2.65"/>
<circle cx="377.0" cy="101.9" r="2.65"/>
<circle cx="376.4" cy="108.1" r="2.65"/>
<circle cx="381.9" cy="110.7" r="2.65"/>
<circle cx="375.8" cy="112.9" r="2.65"/>
<circle cx="379.5" cy="108.2" r="2.65"/>
<circle cx="385.7" cy="113.8" r="2.65"/>
<circle cx="381.6" cy="101.8" r="2.65"/>
<circle cx="387.2" cy="110.1" r="2.65"/>
<circle cx="364.0" cy="121.7" r="2.65"/>
<circle cx="362.7" cy="128.6" r="2.65"/>
</g>
<g fill="#2ca02c">
<circle cx="368.9" cy="110.8" r="2.65"/>
<circle cx="368.3" cy="114.9" r="2.65"/>
</g>
<g fill="#7f7f7f">
<circle cx="368.4" cy="118.4" r="2.65"/>
<circle cx="363.1" cy="129.9" r="2.65"/>
<circle cx="367.4" cy="129.3" r="2.65"/>
</g>
<g fill="#9467bd">
<circle cx="366.2" cy="135.4" r="2.65"/>
<circle cx="389.5" cy="116.2" r="2.65"/>
</g>
<g fill="#e377c2">
<circle cx="361.0" cy="116.9" r="2.65"/>
<circle cx="372.0" cy="119.0" r="2.65"/>
<circle cx="378.0" cy="121.0" r="2.65"/>
</g>
<g fill="#7f7f7f">
<circle cx="399.7" cy="110.6" r="2.65"/>
<circle cx="416.8" cy="108.6" r="2.65"/>
<circle cx="402.3" cy="114.9" r="2.65"/>
<circle cx="421.2" cy="93.1" r="2.65"/>
<circle cx="395.2" cy="100.8" r="2.65"/>
<circle cx="400.9" cy="100.5" r="2.65"/>
<circle cx="395.9" cy="105.4" r="2.65"/>
<circle cx="402.8" cy="99.1" r="2.65"/>
<circle cx="415.5" cy="102.2" r="2.65"/>
<circle cx="415.2" cy="110.7" r="2.65"/>
<circle cx="409.3" cy="98.1" r="2.65"/>
<circle cx="406.1" cy="103.1" r="2.65"/>
<circle cx="416.0" cy="93.0" r="2.65"/>
<circle cx="404.2" cy="96.7" r="2.65"/>
<circle cx="405.8" cy="99.6" r="2.65"/>
<circle cx="400.2" cy="113.5" r="2.65"/>
<circle cx="414.9" cy="96.1" r="2.65"/>
<circle cx="420.6" cy="106.3" r="2.65"/>
<circle cx="402.0" cy="94.5" r="2.65"/>
<circle cx="422.7" cy="91.0" r="2.65"/>
<circle cx="409.9" cy="107.8" r="2.65"/>
<circle cx="406.6" cy="111.2" r="2.65"/>
<circle cx="404.0" cy="93.3" r="2.65"/>
<circle cx="404.2" cy="108.5" r="2.65"/>
<circle cx="411.6" cy="111.2" r="2.65"/>
<circle cx="411.1" cy="100.9" r="2.65"/>
<circle cx="418.6" cy="96.5" r="2.65"/>
<circle cx="408.6" cy="100.6" r="2.65"/>
<circle cx="420.1" cy="101.0" r="2.65"/>
<circle cx="409.2" cy="113.8" r="2.65"/>
<circle cx="408.3" cy="95.6" r="2.65"/>
<circle cx="400.1" cy="106.4" r="2.65"/>
<circle cx="399.2" cy="102.8" r="2.65"/>
<circle cx="396.5" cy="113.7" r="2.65"/>
<circle cx="397.4" cy="107.4" r="2.65"/>
<circle cx="410.0" cy="92.2" r="2.65"/>
<circle cx="422.2" cy="96.8" r="2.65"/>
<circle cx="405.0" cy="113.3" r="2.65"/>
<circle cx="421.8" cy="103.4" r="2.65"/>
<circle cx="413.7" cy="106.1" r="2.65"/>
<circle cx="401.5" cy="103.8" r="2.65"/>
</g>
<g fill="#9467bd">
<circle cx="415.0" cy="103.4" r="2.65"/>
<circle cx="418.6" cy="96.8" r="2.65"/>
<circle cx="419.7" cy="100.8" r="2.65"/>
<circle cx="415.5" cy="97.9" r="2.65"/>
<circle cx="421.2" cy="95.5" r="2.65"/>
</g>
<g fill="#17becf">
<circle cx="400.1" cy="103.7" r="2.65"/>
<circle cx="389.0" cy="101.0" r="2.65"/>
<circle cx="390.1" cy="111.9" r="2.65"/>
<circle cx="395.9" cy="101.4" r="2.65"/>
<circle cx="391.6" cy="97.3" r="2.65"/>
<circle cx="386.1" cy="110.6" r="2.65"/>
<circle cx="402.0" cy="109.9" r="2.65"/>
<circle cx="395.2" cy="97.2" r="2.65"/>
<circle cx="393.7" cy="110.1" r="2.65"/>
<circle cx="389.2" cy="107.5" r="2.65"/>
<circle cx="388.1" cy="97.7" r="2.65"/>
<circle cx="393.3" cy="104.4" r="2.65"/>
<circle cx="400.2" cy="101.3" r="2.65"/>
<circle cx="389.5" cy="104.2" r="2.65"/>
<circle cx="386.1" cy="102.4" r="2.65"/>
</g>
<g fill="#8c564b">
<circle cx="374.4" cy="101.2" r="2.65"/>
<circle cx="416.0" cy="76.8" r="2.65"/>
<circle cx="409.3" cy="84.0" r="2.65"/>
<circle cx="405.0" cy="89.7" r="2.65"/>
<circle cx="415.4" cy="80.9" r="2.65"/>
<circle cx="408.7" cy="84.0" r="2.65"/>
</g>
<g fill="#1f77b4">
<circle cx="375.8" cy="105.3" r="2.65"/>
</g>
<g fill="#17becf">
<circle cx="423.7" cy="76.8" r="2.65"/>
<circle cx="420.0" cy="79.9" r="2.65"/>
<circle cx="417.0" cy="83.0" r="2.65"/>
<circle cx="412.9" cy="85.0" r="2.65"/>
<circle cx="427.8" cy="80.9" r="2.65"/>
<circle cx="428.8" cy="84.0" r="2.65"/>
<circle cx="421.0" cy="88.6" r="2.65"/>
<circle cx="423.7" cy="85.0" r="2.65"/>
<circle cx="413.4" cy="92.2" r="2.65"/>
<circle cx="428.8" cy="92.2" r="2.65"/>
<circle cx="419.6" cy="91.0" r="2.65"/>
<circle cx="417.0" cy="88.0" r="2.65"/>
</g>
<g fill="#ff7f0e">
<circle cx="393.0" cy="96.4" r="2.65"/>
<circle cx="399.8" cy="93.0" r="2.65"/>
<circle cx="431.4" cy="75.2" r="2.65"/>
<circle cx="432.0" cy="83.5" r="2.65"/>
<circle cx="454.0" cy="69.6" r="2.65"/>
</g>
<g fill="#bcbd22">
<circle cx="437.0" cy="74.2" r="2.65"/>
<circle cx="439.6" cy="75.2" r="2.65"/>
<circle cx="436.6" cy="79.9" r="2.65"/>
<circle cx="437.0" cy="77.5" r="2.65"/>
<circle cx="433.0" cy="89.1" r="2.65"/>
<circle cx="428.8" cy="88.6" r="2.65"/>
<circle cx="436.0" cy="96.3" r="2.65"/>
<circle cx="428.3" cy="75.7" r="2.65"/>
<circle cx="436.6" cy="71.6" r="2.65"/>
<circle cx="428.3" cy="95.3" r="2.65"/>
</g>
<g fill="#d62728">
<circle cx="346.2" cy="188.9" r="2.65"/>
</g>
<line x1="267.1" y1="199.3" x2="466.1" y2="48.2" stroke="#000" stroke-width="1.55"/>
<path d="M267.1 48.2V199.3H466.1" fill="none" stroke="#000" stroke-width="1.5"/>
<line x1="267.1" y1="199.3" x2="267.1" y2="202.8" stroke="#000" stroke-width="1.1"/>
<line x1="263.6" y1="199.3" x2="267.1" y2="199.3" stroke="#000" stroke-width="1.1"/>
<line x1="310.6" y1="199.3" x2="310.6" y2="202.8" stroke="#000" stroke-width="1.1"/>
<line x1="263.6" y1="166.3" x2="267.1" y2="166.3" stroke="#000" stroke-width="1.1"/>
<line x1="354.1" y1="199.3" x2="354.1" y2="202.8" stroke="#000" stroke-width="1.1"/>
<line x1="263.6" y1="133.2" x2="267.1" y2="133.2" stroke="#000" stroke-width="1.1"/>
<line x1="397.6" y1="199.3" x2="397.6" y2="202.8" stroke="#000" stroke-width="1.1"/>
<line x1="263.6" y1="100.2" x2="267.1" y2="100.2" stroke="#000" stroke-width="1.1"/>
<line x1="441.1" y1="199.3" x2="441.1" y2="202.8" stroke="#000" stroke-width="1.1"/>
<line x1="263.6" y1="67.2" x2="267.1" y2="67.2" stroke="#000" stroke-width="1.1"/>
<rect x="273.2" y="47.1" width="112.3" height="14.9" fill="#fff" stroke="#b3d9f3" stroke-width="1"/>
<text x="329.4" y="58.7" text-anchor="middle" class="mp" textLength="107.7" lengthAdjust="spacing">MAPE: 8.26 ± 3.14%</text>
<g fill="#17becf">
<circle cx="531.8" cy="166.6" r="2.65"/>
</g>
<g fill="#7f7f7f">
<circle cx="641.6" cy="73.4" r="2.65"/>
</g>
<g fill="#17becf">
<circle cx="654.7" cy="74.5" r="2.65"/>
</g>
<g fill="#7f7f7f">
<circle cx="595.5" cy="115.3" r="2.65"/>
</g>
<g fill="#bcbd22">
<circle cx="632.6" cy="91.5" r="2.65"/>
</g>
<g fill="#17becf">
<circle cx="638.9" cy="80.4" r="2.65"/>
</g>
<g fill="#ff7f0e">
<circle cx="623.6" cy="87.0" r="2.65"/>
</g>
<g fill="#bcbd22">
<circle cx="577.3" cy="128.7" r="2.65"/>
</g>
<g fill="#e377c2">
<circle cx="586.9" cy="125.9" r="2.65"/>
</g>
<g fill="#bcbd22">
<circle cx="554.9" cy="149.1" r="2.65"/>
</g>
<g fill="#7f7f7f">
<circle cx="579.2" cy="125.7" r="2.65"/>
</g>
<g fill="#bcbd22">
<circle cx="513.2" cy="177.5" r="2.65"/>
</g>
<g fill="#9467bd">
<circle cx="545.1" cy="155.9" r="2.65"/>
</g>
<g fill="#7f7f7f">
<circle cx="564.8" cy="138.0" r="2.65"/>
</g>
<g fill="#bcbd22">
<circle cx="650.4" cy="71.2" r="2.65"/>
</g>
<g fill="#ff7f0e">
<circle cx="601.4" cy="101.3" r="2.65"/>
</g>
<g fill="#bcbd22">
<circle cx="575.9" cy="134.5" r="2.65"/>
</g>
<g fill="#9467bd">
<circle cx="614.5" cy="94.7" r="2.65"/>
</g>
<g fill="#d62728">
<circle cx="513.5" cy="173.4" r="2.65"/>
</g>
<g fill="#bcbd22">
<circle cx="604.8" cy="108.4" r="2.65"/>
</g>
<g fill="#e377c2">
<circle cx="538.7" cy="155.8" r="2.65"/>
</g>
<g fill="#9467bd">
<circle cx="520.1" cy="165.1" r="2.65"/>
</g>
<g fill="#ff7f0e">
<circle cx="649.9" cy="64.7" r="2.65"/>
</g>
<g fill="#d62728">
<circle cx="603.3" cy="99.5" r="2.65"/>
</g>
<g fill="#e377c2">
<circle cx="613.5" cy="103.8" r="2.65"/>
</g>
<g fill="#d62728">
<circle cx="564.1" cy="141.4" r="2.65"/>
</g>
<g fill="#17becf">
<circle cx="526.8" cy="168.4" r="2.65"/>
</g>
<g fill="#8c564b">
<circle cx="604.2" cy="111.8" r="2.65"/>
</g>
<g fill="#17becf">
<circle cx="599.3" cy="106.6" r="2.65"/>
</g>
<g fill="#e377c2">
<circle cx="639.2" cy="84.0" r="2.65"/>
</g>
<g fill="#8c564b">
<circle cx="578.3" cy="132.5" r="2.65"/>
</g>
<g fill="#17becf">
<circle cx="513.0" cy="167.4" r="2.65"/>
</g>
<g fill="#7f7f7f">
<circle cx="585.1" cy="114.2" r="2.65"/>
</g>
<g fill="#17becf">
<circle cx="611.5" cy="98.9" r="2.65"/>
</g>
<g fill="#8c564b">
<circle cx="558.6" cy="145.9" r="2.65"/>
</g>
<g fill="#ff7f0e">
<circle cx="543.9" cy="147.1" r="2.65"/>
</g>
<g fill="#bcbd22">
<circle cx="582.5" cy="126.0" r="2.65"/>
</g>
<g fill="#d62728">
<circle cx="645.0" cy="69.9" r="2.65"/>
</g>
<g fill="#e377c2">
<circle cx="596.1" cy="118.7" r="2.65"/>
</g>
<g fill="#17becf">
<circle cx="539.2" cy="159.1" r="2.65"/>
</g>
<g fill="#7f7f7f">
<circle cx="630.8" cy="82.4" r="2.65"/>
</g>
<g fill="#e377c2">
<circle cx="559.9" cy="136.5" r="2.65"/>
</g>
<g fill="#bcbd22">
<circle cx="521.6" cy="175.3" r="2.65"/>
</g>
<g fill="#7f7f7f">
<circle cx="538.1" cy="149.6" r="2.65"/>
</g>
<g fill="#d62728">
<circle cx="637.5" cy="73.7" r="2.65"/>
</g>
<g fill="#ff7f0e">
<circle cx="643.6" cy="80.3" r="2.65"/>
</g>
<g fill="#e377c2">
<circle cx="605.3" cy="104.3" r="2.65"/>
</g>
<g fill="#bcbd22">
<circle cx="588.5" cy="121.4" r="2.65"/>
</g>
<g fill="#9467bd">
<circle cx="582.8" cy="123.0" r="2.65"/>
<circle cx="614.9" cy="92.0" r="2.65"/>
</g>
<g fill="#7f7f7f">
<circle cx="526.0" cy="158.6" r="2.65"/>
</g>
<g fill="#9467bd">
<circle cx="557.4" cy="136.9" r="2.65"/>
</g>
<g fill="#e377c2">
<circle cx="574.3" cy="131.8" r="2.65"/>
</g>
<g fill="#bcbd22">
<circle cx="512.8" cy="179.8" r="2.65"/>
</g>
<g fill="#17becf">
<circle cx="625.7" cy="88.7" r="2.65"/>
<circle cx="516.7" cy="168.8" r="2.65"/>
</g>
<g fill="#7f7f7f">
<circle cx="554.6" cy="140.1" r="2.65"/>
<circle cx="525.0" cy="171.8" r="2.65"/>
</g>
<g fill="#e377c2">
<circle cx="577.6" cy="124.1" r="2.65"/>
</g>
<g fill="#7f7f7f">
<circle cx="560.1" cy="140.5" r="2.65"/>
</g>
<g fill="#9467bd">
<circle cx="646.7" cy="77.5" r="2.65"/>
</g>
<g fill="#bcbd22">
<circle cx="602.2" cy="108.2" r="2.65"/>
</g>
<g fill="#7f7f7f">
<circle cx="626.2" cy="82.5" r="2.65"/>
</g>
<g fill="#e377c2">
<circle cx="635.4" cy="81.6" r="2.65"/>
</g>
<g fill="#9467bd">
<circle cx="575.0" cy="126.3" r="2.65"/>
</g>
<g fill="#bcbd22">
<circle cx="551.5" cy="149.7" r="2.65"/>
</g>
<g fill="#7f7f7f">
<circle cx="637.1" cy="77.0" r="2.65"/>
<circle cx="560.6" cy="144.5" r="2.65"/>
<circle cx="636.8" cy="85.8" r="2.65"/>
</g>
<g fill="#e377c2">
<circle cx="580.3" cy="118.9" r="2.65"/>
</g>
<g fill="#7f7f7f">
<circle cx="547.2" cy="147.5" r="2.65"/>
</g>
<g fill="#ff7f0e">
<circle cx="597.3" cy="107.8" r="2.65"/>
</g>
<g fill="#7f7f7f">
<circle cx="530.0" cy="154.9" r="2.65"/>
</g>
<g fill="#17becf">
<circle cx="651.1" cy="75.2" r="2.65"/>
</g>
<g fill="#bcbd22">
<circle cx="578.5" cy="121.3" r="2.65"/>
</g>
<g fill="#17becf">
<circle cx="572.9" cy="122.4" r="2.65"/>
</g>
<g fill="#7f7f7f">
<circle cx="530.0" cy="160.7" r="2.65"/>
</g>
<g fill="#17becf">
<circle cx="604.2" cy="101.9" r="2.65"/>
</g>
<g fill="#7f7f7f">
<circle cx="591.2" cy="112.4" r="2.65"/>
</g>
<g fill="#e377c2">
<circle cx="617.9" cy="90.0" r="2.65"/>
</g>
<g fill="#7f7f7f">
<circle cx="562.8" cy="135.9" r="2.65"/>
<circle cx="621.7" cy="94.9" r="2.65"/>
</g>
<g fill="#8c564b">
<circle cx="617.8" cy="96.7" r="2.65"/>
</g>
<g fill="#bcbd22">
<circle cx="588.1" cy="118.7" r="2.65"/>
<circle cx="630.9" cy="87.9" r="2.65"/>
</g>
<g fill="#7f7f7f">
<circle cx="597.8" cy="114.1" r="2.65"/>
</g>
<g fill="#e377c2">
<circle cx="535.8" cy="162.6" r="2.65"/>
</g>
<g fill="#8c564b">
<circle cx="517.3" cy="172.7" r="2.65"/>
</g>
<g fill="#7f7f7f">
<circle cx="653.7" cy="68.4" r="2.65"/>
</g>
<g fill="#e377c2">
<circle cx="611.0" cy="94.0" r="2.65"/>
</g>
<g fill="#9467bd">
<circle cx="591.1" cy="115.4" r="2.65"/>
</g>
<g fill="#d62728">
<circle cx="648.6" cy="74.9" r="2.65"/>
</g>
<g fill="#7f7f7f">
<circle cx="540.3" cy="151.1" r="2.65"/>
</g>
<g fill="#bcbd22">
<circle cx="522.0" cy="167.5" r="2.65"/>
</g>
<g fill="#d62728">
<circle cx="592.7" cy="119.8" r="2.65"/>
</g>
<g fill="#e377c2">
<circle cx="564.4" cy="132.7" r="2.65"/>
</g>
<g fill="#ff7f0e">
<circle cx="624.6" cy="97.3" r="2.65"/>
</g>
<g fill="#7f7f7f">
<circle cx="619.3" cy="92.5" r="2.65"/>
</g>
<g fill="#bcbd22">
<circle cx="608.3" cy="98.5" r="2.65"/>
<circle cx="622.6" cy="90.1" r="2.65"/>
<circle cx="584.2" cy="128.2" r="2.65"/>
</g>
<g fill="#17becf">
<circle cx="601.3" cy="112.6" r="2.65"/>
</g>
<g fill="#e377c2">
<circle cx="610.6" cy="106.8" r="2.65"/>
<circle cx="640.0" cy="75.3" r="2.65"/>
<circle cx="613.1" cy="97.3" r="2.65"/>
</g>
<g fill="#9467bd">
<circle cx="534.0" cy="155.2" r="2.65"/>
</g>
<g fill="#7f7f7f">
<circle cx="647.3" cy="79.9" r="2.65"/>
</g>
<g fill="#e377c2">
<circle cx="516.7" cy="172.2" r="2.65"/>
<circle cx="520.6" cy="165.8" r="2.65"/>
<circle cx="509.7" cy="175.0" r="2.65"/>
<circle cx="523.3" cy="168.5" r="2.65"/>
<circle cx="515.1" cy="175.6" r="2.65"/>
<circle cx="512.1" cy="173.5" r="2.65"/>
<circle cx="511.7" cy="181.0" r="2.65"/>
<circle cx="526.0" cy="164.0" r="2.65"/>
<circle cx="526.0" cy="169.1" r="2.65"/>
<circle cx="519.3" cy="169.5" r="2.65"/>
<circle cx="515.3" cy="180.6" r="2.65"/>
<circle cx="527.6" cy="161.5" r="2.65"/>
<circle cx="516.7" cy="168.8" r="2.65"/>
<circle cx="527.9" cy="166.1" r="2.65"/>
<circle cx="514.1" cy="168.4" r="2.65"/>
<circle cx="523.0" cy="173.7" r="2.65"/>
<circle cx="511.1" cy="177.0" r="2.65"/>
<circle cx="509.5" cy="184.5" r="2.65"/>
<circle cx="519.7" cy="172.1" r="2.65"/>
<circle cx="519.9" cy="175.8" r="2.65"/>
<circle cx="523.1" cy="165.1" r="2.65"/>
<circle cx="509.1" cy="172.5" r="2.65"/>
</g>
<g fill="#7f7f7f">
<circle cx="525.3" cy="171.0" r="2.65"/>
<circle cx="530.1" cy="167.5" r="2.65"/>
<circle cx="541.3" cy="156.3" r="2.65"/>
<circle cx="530.3" cy="153.7" r="2.65"/>
<circle cx="528.3" cy="164.3" r="2.65"/>
<circle cx="529.0" cy="160.5" r="2.65"/>
<circle cx="538.5" cy="154.5" r="2.65"/>
<circle cx="534.5" cy="162.9" r="2.65"/>
<circle cx="539.1" cy="158.6" r="2.65"/>
<circle cx="522.6" cy="170.0" r="2.65"/>
<circle cx="521.0" cy="176.2" r="2.65"/>
<circle cx="544.9" cy="142.6" r="2.65"/>
<circle cx="544.9" cy="154.3" r="2.65"/>
<circle cx="521.7" cy="159.8" r="2.65"/>
<circle cx="533.2" cy="152.8" r="2.65"/>
<circle cx="519.2" cy="170.5" r="2.65"/>
<circle cx="533.0" cy="156.9" r="2.65"/>
<circle cx="520.3" cy="162.6" r="2.65"/>
<circle cx="544.5" cy="157.5" r="2.65"/>
<circle cx="529.7" cy="156.9" r="2.65"/>
<circle cx="523.6" cy="163.4" r="2.65"/>
<circle cx="535.1" cy="165.3" r="2.65"/>
<circle cx="525.9" cy="161.7" r="2.65"/>
<circle cx="545.9" cy="150.4" r="2.65"/>
<circle cx="542.0" cy="152.1" r="2.65"/>
<circle cx="519.7" cy="172.9" r="2.65"/>
<circle cx="521.0" cy="166.6" r="2.65"/>
<circle cx="536.2" cy="153.7" r="2.65"/>
<circle cx="534.6" cy="160.5" r="2.65"/>
<circle cx="537.9" cy="151.1" r="2.65"/>
<circle cx="544.9" cy="145.3" r="2.65"/>
<circle cx="536.4" cy="158.1" r="2.65"/>
<circle cx="539.1" cy="146.8" r="2.65"/>
<circle cx="542.9" cy="146.6" r="2.65"/>
<circle cx="527.9" cy="155.1" r="2.65"/>
<circle cx="523.7" cy="166.1" r="2.65"/>
<circle cx="523.0" cy="173.6" r="2.65"/>
<circle cx="539.9" cy="161.4" r="2.65"/>
<circle cx="526.4" cy="159.0" r="2.65"/>
</g>
<g fill="#e377c2">
<circle cx="524.7" cy="154.0" r="2.65"/>
<circle cx="518.5" cy="162.8" r="2.65"/>
<circle cx="541.0" cy="164.9" r="2.65"/>
<circle cx="571.3" cy="121.7" r="2.65"/>
</g>
<g fill="#d62728">
<circle cx="520.6" cy="159.4" r="2.65"/>
<circle cx="535.7" cy="171.0" r="2.65"/>
<circle cx="535.7" cy="146.4" r="2.65"/>
<circle cx="520.6" cy="177.0" r="2.65"/>
</g>
<g fill="#17becf">
<circle cx="551.9" cy="143.5" r="2.65"/>
<circle cx="572.9" cy="125.8" r="2.65"/>
<circle cx="549.0" cy="140.3" r="2.65"/>
<circle cx="570.2" cy="122.6" r="2.65"/>
<circle cx="569.4" cy="126.8" r="2.65"/>
<circle cx="546.2" cy="154.6" r="2.65"/>
<circle cx="564.3" cy="129.5" r="2.65"/>
<circle cx="557.0" cy="144.6" r="2.65"/>
<circle cx="550.9" cy="137.8" r="2.65"/>
<circle cx="554.2" cy="139.0" r="2.65"/>
<circle cx="561.3" cy="134.6" r="2.65"/>
<circle cx="561.2" cy="132.0" r="2.65"/>
<circle cx="566.0" cy="131.2" r="2.65"/>
<circle cx="555.3" cy="136.5" r="2.65"/>
<circle cx="562.3" cy="127.9" r="2.65"/>
<circle cx="545.6" cy="147.5" r="2.65"/>
<circle cx="564.8" cy="140.8" r="2.65"/>
<circle cx="563.8" cy="138.1" r="2.65"/>
<circle cx="552.5" cy="146.7" r="2.65"/>
<circle cx="555.1" cy="142.9" r="2.65"/>
<circle cx="549.4" cy="152.4" r="2.65"/>
<circle cx="558.1" cy="146.9" r="2.65"/>
<circle cx="543.2" cy="156.3" r="2.65"/>
<circle cx="567.2" cy="134.7" r="2.65"/>
<circle cx="570.7" cy="129.6" r="2.65"/>
<circle cx="554.8" cy="149.4" r="2.65"/>
<circle cx="570.2" cy="135.9" r="2.65"/>
<circle cx="543.7" cy="149.7" r="2.65"/>
<circle cx="554.5" cy="134.0" r="2.65"/>
<circle cx="558.4" cy="133.1" r="2.65"/>
<circle cx="549.0" cy="143.2" r="2.65"/>
<circle cx="558.7" cy="138.0" r="2.65"/>
<circle cx="549.6" cy="149.3" r="2.65"/>
<circle cx="561.4" cy="141.0" r="2.65"/>
<circle cx="545.9" cy="142.0" r="2.65"/>
<circle cx="566.4" cy="138.5" r="2.65"/>
<circle cx="572.9" cy="135.6" r="2.65"/>
<circle cx="548.4" cy="146.1" r="2.65"/>
<circle cx="554.7" cy="145.5" r="2.65"/>
<circle cx="560.4" cy="144.5" r="2.65"/>
</g>
<g fill="#bcbd22">
<circle cx="538.4" cy="146.4" r="2.65"/>
<circle cx="538.4" cy="154.0" r="2.65"/>
<circle cx="538.4" cy="160.0" r="2.65"/>
<circle cx="557.6" cy="132.0" r="2.65"/>
<circle cx="570.6" cy="140.9" r="2.65"/>
<circle cx="578.2" cy="123.0" r="2.65"/>
<circle cx="585.0" cy="124.4" r="2.65"/>
<circle cx="574.0" cy="136.0" r="2.65"/>
<circle cx="549.0" cy="141.0" r="2.65"/>
</g>
<g fill="#ff7f0e">
<circle cx="552.0" cy="157.3" r="2.65"/>
<circle cx="565.8" cy="141.5" r="2.65"/>
<circle cx="552.0" cy="136.0" r="2.65"/>
<circle cx="540.5" cy="143.0" r="2.65"/>
<circle cx="608.0" cy="111.2" r="2.65"/>
</g>
<g fill="#7f7f7f">
<circle cx="580.7" cy="125.0" r="2.65"/>
<circle cx="576.0" cy="131.2" r="2.65"/>
<circle cx="586.0" cy="111.4" r="2.65"/>
<circle cx="586.4" cy="117.8" r="2.65"/>
<circle cx="572.5" cy="123.1" r="2.65"/>
<circle cx="578.1" cy="123.9" r="2.65"/>
<circle cx="588.8" cy="122.4" r="2.65"/>
<circle cx="574.7" cy="119.9" r="2.65"/>
<circle cx="589.3" cy="108.1" r="2.65"/>
<circle cx="572.8" cy="125.7" r="2.65"/>
<circle cx="583.9" cy="113.7" r="2.65"/>
<circle cx="592.0" cy="116.6" r="2.65"/>
<circle cx="589.4" cy="110.5" r="2.65"/>
<circle cx="591.5" cy="120.4" r="2.65"/>
<circle cx="574.1" cy="133.1" r="2.65"/>
<circle cx="589.1" cy="113.4" r="2.65"/>
<circle cx="578.5" cy="127.2" r="2.65"/>
<circle cx="591.8" cy="108.1" r="2.65"/>
<circle cx="576.1" cy="127.6" r="2.65"/>
<circle cx="583.3" cy="124.9" r="2.65"/>
<circle cx="579.4" cy="115.1" r="2.65"/>
<circle cx="572.1" cy="131.4" r="2.65"/>
</g>
<g fill="#bcbd22">
<circle cx="575.6" cy="135.1" r="2.65"/>
<circle cx="587.2" cy="119.9" r="2.65"/>
<circle cx="589.4" cy="122.8" r="2.65"/>
<circle cx="584.6" cy="117.6" r="2.65"/>
<circle cx="588.7" cy="112.9" r="2.65"/>
<circle cx="583.4" cy="121.7" r="2.65"/>
<circle cx="592.6" cy="118.9" r="2.65"/>
<circle cx="595.7" cy="117.1" r="2.65"/>
<circle cx="578.5" cy="129.7" r="2.65"/>
<circle cx="575.1" cy="121.5" r="2.65"/>
<circle cx="576.0" cy="127.1" r="2.65"/>
<circle cx="597.8" cy="109.3" r="2.65"/>
<circle cx="584.2" cy="114.5" r="2.65"/>
<circle cx="589.8" cy="120.0" r="2.65"/>
<circle cx="582.1" cy="117.6" r="2.65"/>
<circle cx="581.5" cy="124.7" r="2.65"/>
<circle cx="581.8" cy="127.1" r="2.65"/>
<circle cx="599.3" cy="116.9" r="2.65"/>
<circle cx="585.0" cy="128.5" r="2.65"/>
<circle cx="599.4" cy="104.3" r="2.65"/>
<circle cx="580.7" cy="131.0" r="2.65"/>
<circle cx="577.4" cy="123.9" r="2.65"/>
<circle cx="587.6" cy="116.4" r="2.65"/>
<circle cx="576.3" cy="132.5" r="2.65"/>
</g>
<g fill="#e377c2">
<circle cx="595.5" cy="118.7" r="2.65"/>
<circle cx="604.0" cy="110.4" r="2.65"/>
<circle cx="593.5" cy="121.5" r="2.65"/>
<circle cx="599.9" cy="114.4" r="2.65"/>
<circle cx="588.8" cy="121.1" r="2.65"/>
<circle cx="596.7" cy="116.1" r="2.65"/>
<circle cx="590.6" cy="124.4" r="2.65"/>
<circle cx="607.2" cy="104.1" r="2.65"/>
<circle cx="599.0" cy="110.2" r="2.65"/>
<circle cx="607.8" cy="109.5" r="2.65"/>
<circle cx="609.3" cy="107.6" r="2.65"/>
<circle cx="603.3" cy="108.0" r="2.65"/>
<circle cx="588.6" cy="126.1" r="2.65"/>
<circle cx="590.9" cy="115.6" r="2.65"/>
<circle cx="599.4" cy="117.5" r="2.65"/>
</g>
<g fill="#9467bd">
<circle cx="544.0" cy="141.5" r="2.65"/>
<circle cx="581.0" cy="112.7" r="2.65"/>
<circle cx="580.5" cy="112.6" r="2.65"/>
<circle cx="611.4" cy="89.3" r="2.65"/>
<circle cx="632.6" cy="98.9" r="2.65"/>
<circle cx="631.2" cy="75.6" r="2.65"/>
</g>
<g fill="#1f77b4">
<circle cx="592.8" cy="129.0" r="2.65"/>
<circle cx="597.0" cy="120.8" r="2.65"/>
<circle cx="610.7" cy="109.9" r="2.65"/>
</g>
<g fill="#17becf">
<circle cx="599.4" cy="111.8" r="2.65"/>
<circle cx="613.1" cy="101.9" r="2.65"/>
<circle cx="613.9" cy="99.5" r="2.65"/>
<circle cx="617.4" cy="88.9" r="2.65"/>
<circle cx="609.8" cy="103.2" r="2.65"/>
<circle cx="599.1" cy="100.2" r="2.65"/>
<circle cx="617.0" cy="95.7" r="2.65"/>
<circle cx="600.9" cy="106.0" r="2.65"/>
<circle cx="605.6" cy="100.4" r="2.65"/>
<circle cx="608.4" cy="105.1" r="2.65"/>
<circle cx="604.1" cy="97.7" r="2.65"/>
<circle cx="620.0" cy="88.4" r="2.65"/>
<circle cx="601.2" cy="109.4" r="2.65"/>
<circle cx="603.6" cy="105.3" r="2.65"/>
<circle cx="617.1" cy="92.1" r="2.65"/>
<circle cx="607.7" cy="94.0" r="2.65"/>
<circle cx="620.0" cy="92.8" r="2.65"/>
<circle cx="610.6" cy="92.1" r="2.65"/>
<circle cx="619.7" cy="95.8" r="2.65"/>
<circle cx="597.4" cy="103.4" r="2.65"/>
<circle cx="598.4" cy="113.9" r="2.65"/>
<circle cx="610.7" cy="94.7" r="2.65"/>
<circle cx="604.9" cy="108.7" r="2.65"/>
<circle cx="616.5" cy="98.3" r="2.65"/>
<circle cx="613.2" cy="93.4" r="2.65"/>
<circle cx="602.0" cy="103.3" r="2.65"/>
<circle cx="606.7" cy="103.2" r="2.65"/>
</g>
<g fill="#7f7f7f">
<circle cx="626.2" cy="82.5" r="2.65"/>
<circle cx="631.0" cy="78.6" r="2.65"/>
<circle cx="618.6" cy="94.7" r="2.65"/>
<circle cx="612.2" cy="103.8" r="2.65"/>
<circle cx="627.3" cy="87.1" r="2.65"/>
<circle cx="614.5" cy="87.8" r="2.65"/>
<circle cx="622.1" cy="82.4" r="2.65"/>
<circle cx="632.2" cy="81.3" r="2.65"/>
<circle cx="614.0" cy="93.6" r="2.65"/>
<circle cx="633.9" cy="73.2" r="2.65"/>
<circle cx="622.3" cy="87.1" r="2.65"/>
<circle cx="630.5" cy="89.5" r="2.65"/>
<circle cx="627.6" cy="80.3" r="2.65"/>
<circle cx="620.7" cy="96.4" r="2.65"/>
<circle cx="622.4" cy="89.9" r="2.65"/>
<circle cx="618.5" cy="88.9" r="2.65"/>
<circle cx="627.3" cy="90.5" r="2.65"/>
<circle cx="617.1" cy="99.0" r="2.65"/>
<circle cx="633.5" cy="78.9" r="2.65"/>
<circle cx="625.1" cy="87.6" r="2.65"/>
<circle cx="623.8" cy="95.2" r="2.65"/>
<circle cx="630.3" cy="84.5" r="2.65"/>
<circle cx="628.3" cy="77.3" r="2.65"/>
<circle cx="612.7" cy="91.3" r="2.65"/>
<circle cx="616.5" cy="102.8" r="2.65"/>
<circle cx="617.3" cy="86.0" r="2.65"/>
<circle cx="634.3" cy="84.4" r="2.65"/>
<circle cx="614.4" cy="98.8" r="2.65"/>
<circle cx="624.1" cy="85.3" r="2.65"/>
<circle cx="619.2" cy="83.7" r="2.65"/>
<circle cx="627.6" cy="93.3" r="2.65"/>
<circle cx="614.4" cy="101.5" r="2.65"/>
<circle cx="625.2" cy="79.5" r="2.65"/>
<circle cx="612.2" cy="95.7" r="2.65"/>
<circle cx="632.8" cy="75.9" r="2.65"/>
</g>
<g fill="#8c564b">
<circle cx="626.4" cy="89.0" r="2.65"/>
<circle cx="627.8" cy="92.5" r="2.65"/>
<circle cx="642.9" cy="75.6" r="2.65"/>
<circle cx="639.6" cy="87.3" r="2.65"/>
<circle cx="643.2" cy="73.3" r="2.65"/>
<circle cx="643.6" cy="81.8" r="2.65"/>
<circle cx="629.2" cy="83.5" r="2.65"/>
<circle cx="627.7" cy="95.9" r="2.65"/>
<circle cx="640.3" cy="77.2" r="2.65"/>
<circle cx="634.8" cy="86.8" r="2.65"/>
<circle cx="621.7" cy="92.2" r="2.65"/>
<circle cx="620.7" cy="99.3" r="2.65"/>
<circle cx="624.7" cy="96.5" r="2.65"/>
<circle cx="634.5" cy="83.5" r="2.65"/>
<circle cx="634.7" cy="79.1" r="2.65"/>
<circle cx="623.8" cy="89.4" r="2.65"/>
<circle cx="640.7" cy="81.4" r="2.65"/>
<circle cx="622.4" cy="95.4" r="2.65"/>
</g>
<g fill="#2ca02c">
<circle cx="619.0" cy="84.5" r="2.65"/>
<circle cx="619.0" cy="88.6" r="2.65"/>
</g>
<g fill="#17becf">
<circle cx="628.8" cy="84.0" r="2.65"/>
<circle cx="644.1" cy="67.9" r="2.65"/>
<circle cx="642.6" cy="70.5" r="2.65"/>
<circle cx="645.0" cy="78.2" r="2.65"/>
<circle cx="637.9" cy="73.5" r="2.65"/>
<circle cx="647.0" cy="64.1" r="2.65"/>
<circle cx="645.7" cy="71.8" r="2.65"/>
<circle cx="638.3" cy="76.8" r="2.65"/>
<circle cx="629.8" cy="89.8" r="2.65"/>
<circle cx="647.6" cy="73.3" r="2.65"/>
<circle cx="629.7" cy="79.4" r="2.65"/>
<circle cx="633.0" cy="75.4" r="2.65"/>
<circle cx="641.7" cy="77.8" r="2.65"/>
<circle cx="625.2" cy="84.2" r="2.65"/>
<circle cx="639.7" cy="81.7" r="2.65"/>
<circle cx="625.8" cy="87.7" r="2.65"/>
<circle cx="632.4" cy="85.7" r="2.65"/>
<circle cx="642.4" cy="80.3" r="2.65"/>
<circle cx="631.7" cy="81.4" r="2.65"/>
<circle cx="636.9" cy="80.8" r="2.65"/>
<circle cx="646.7" cy="69.0" r="2.65"/>
<circle cx="638.8" cy="84.1" r="2.65"/>
<circle cx="643.9" cy="74.3" r="2.65"/>
<circle cx="627.0" cy="85.7" r="2.65"/>
<circle cx="639.1" cy="79.0" r="2.65"/>
<circle cx="634.7" cy="85.2" r="2.65"/>
<circle cx="627.5" cy="80.5" r="2.65"/>
<circle cx="630.5" cy="87.3" r="2.65"/>
</g>
<g fill="#bcbd22">
<circle cx="642.5" cy="79.8" r="2.65"/>
<circle cx="645.5" cy="72.8" r="2.65"/>
<circle cx="651.8" cy="73.4" r="2.65"/>
<circle cx="645.7" cy="68.2" r="2.65"/>
<circle cx="649.9" cy="71.5" r="2.65"/>
<circle cx="648.1" cy="75.1" r="2.65"/>
<circle cx="645.4" cy="77.7" r="2.65"/>
<circle cx="653.0" cy="63.1" r="2.65"/>
<circle cx="642.4" cy="82.9" r="2.65"/>
<circle cx="643.3" cy="74.7" r="2.65"/>
<circle cx="656.4" cy="63.2" r="2.65"/>
<circle cx="655.6" cy="66.1" r="2.65"/>
<circle cx="651.1" cy="65.4" r="2.65"/>
<circle cx="655.7" cy="71.3" r="2.65"/>
<circle cx="656.7" cy="59.7" r="2.65"/>
</g>
<g fill="#ff7f0e">
<circle cx="668.3" cy="46.4" r="2.65"/>
<circle cx="668.3" cy="56.6" r="2.65"/>
</g>
<line x1="481.5" y1="199.3" x2="680.5" y2="48.2" stroke="#000" stroke-width="1.55"/>
<path d="M481.5 48.2V199.3H680.5" fill="none" stroke="#000" stroke-width="1.5"/>
<line x1="481.5" y1="199.3" x2="481.5" y2="202.8" stroke="#000" stroke-width="1.1"/>
<line x1="478.0" y1="199.3" x2="481.5" y2="199.3" stroke="#000" stroke-width="1.1"/>
<line x1="525.0" y1="199.3" x2="525.0" y2="202.8" stroke="#000" stroke-width="1.1"/>
<line x1="478.0" y1="166.3" x2="481.5" y2="166.3" stroke="#000" stroke-width="1.1"/>
<line x1="568.5" y1="199.3" x2="568.5" y2="202.8" stroke="#000" stroke-width="1.1"/>
<line x1="478.0" y1="133.2" x2="481.5" y2="133.2" stroke="#000" stroke-width="1.1"/>
<line x1="612.0" y1="199.3" x2="612.0" y2="202.8" stroke="#000" stroke-width="1.1"/>
<line x1="478.0" y1="100.2" x2="481.5" y2="100.2" stroke="#000" stroke-width="1.1"/>
<line x1="655.5" y1="199.3" x2="655.5" y2="202.8" stroke="#000" stroke-width="1.1"/>
<line x1="478.0" y1="67.2" x2="481.5" y2="67.2" stroke="#000" stroke-width="1.1"/>
<rect x="487.6" y="47.1" width="121.1" height="14.9" fill="#fff" stroke="#b3d9f3" stroke-width="1"/>
<text x="548.1" y="58.7" text-anchor="middle" class="mp" textLength="113.6" lengthAdjust="spacing">MAPE: 5.35 ± 0.999%</text>
<g fill="#9467bd">
<circle cx="106.3" cy="338.7" r="2.65"/>
<circle cx="112.4" cy="327.4" r="2.65"/>
<circle cx="109.7" cy="336.5" r="2.65"/>
<circle cx="108.3" cy="323.4" r="2.65"/>
<circle cx="99.4" cy="329.5" r="2.65"/>
<circle cx="109.4" cy="326.6" r="2.65"/>
<circle cx="106.0" cy="328.0" r="2.65"/>
<circle cx="110.8" cy="341.8" r="2.65"/>
<circle cx="104.6" cy="343.0" r="2.65"/>
<circle cx="99.9" cy="338.9" r="2.65"/>
<circle cx="111.3" cy="324.3" r="2.65"/>
<circle cx="108.9" cy="333.3" r="2.65"/>
<circle cx="100.1" cy="341.7" r="2.65"/>
<circle cx="106.8" cy="342.1" r="2.65"/>
<circle cx="102.7" cy="338.3" r="2.65"/>
<circle cx="101.7" cy="334.3" r="2.65"/>
<circle cx="103.9" cy="331.3" r="2.65"/>
<circle cx="111.7" cy="321.5" r="2.65"/>
<circle cx="106.9" cy="336.1" r="2.65"/>
<circle cx="112.4" cy="334.0" r="2.65"/>
<circle cx="104.5" cy="325.3" r="2.65"/>
<circle cx="100.5" cy="325.7" r="2.65"/>
<circle cx="109.8" cy="339.5" r="2.65"/>
<circle cx="108.2" cy="329.9" r="2.65"/>
<circle cx="100.1" cy="322.9" r="2.65"/>
<circle cx="106.8" cy="332.3" r="2.65"/>
<circle cx="104.1" cy="321.6" r="2.65"/>
<circle cx="104.9" cy="340.7" r="2.65"/>
<circle cx="117.6" cy="324.8" r="2.65"/>
<circle cx="126.0" cy="324.6" r="2.65"/>
<circle cx="121.6" cy="322.7" r="2.65"/>
<circle cx="121.1" cy="326.0" r="2.65"/>
<circle cx="113.2" cy="321.6" r="2.65"/>
<circle cx="126.8" cy="327.3" r="2.65"/>
<circle cx="116.0" cy="321.7" r="2.65"/>
</g>
<g fill="#e377c2">
<circle cx="109.7" cy="313.3" r="2.65"/>
<circle cx="103.4" cy="309.0" r="2.65"/>
<circle cx="114.8" cy="311.6" r="2.65"/>
<circle cx="115.9" cy="301.9" r="2.65"/>
<circle cx="114.8" cy="315.9" r="2.65"/>
<circle cx="112.9" cy="304.2" r="2.65"/>
<circle cx="111.4" cy="316.2" r="2.65"/>
<circle cx="113.3" cy="308.1" r="2.65"/>
<circle cx="105.4" cy="310.2" r="2.65"/>
<circle cx="106.5" cy="306.6" r="2.65"/>
<circle cx="115.7" cy="307.7" r="2.65"/>
<circle cx="103.1" cy="314.3" r="2.65"/>
<circle cx="107.4" cy="314.4" r="2.65"/>
<circle cx="113.8" cy="300.6" r="2.65"/>
<circle cx="110.0" cy="304.6" r="2.65"/>
<circle cx="104.6" cy="304.7" r="2.65"/>
<circle cx="105.8" cy="318.7" r="2.65"/>
<circle cx="109.9" cy="307.4" r="2.65"/>
<circle cx="103.1" cy="302.3" r="2.65"/>
<circle cx="106.5" cy="301.5" r="2.65"/>
<circle cx="124.1" cy="300.5" r="2.65"/>
<circle cx="119.1" cy="290.4" r="2.65"/>
<circle cx="115.5" cy="296.5" r="2.65"/>
<circle cx="126.3" cy="292.2" r="2.65"/>
<circle cx="132.8" cy="288.6" r="2.65"/>
<circle cx="119.7" cy="295.8" r="2.65"/>
<circle cx="123.5" cy="292.7" r="2.65"/>
<circle cx="130.2" cy="287.2" r="2.65"/>
<circle cx="136.0" cy="298.1" r="2.65"/>
<circle cx="135.4" cy="293.4" r="2.65"/>
<circle cx="138.4" cy="293.2" r="2.65"/>
<circle cx="138.0" cy="288.1" r="2.65"/>
<circle cx="125.0" cy="286.5" r="2.65"/>
<circle cx="123.5" cy="289.5" r="2.65"/>
<circle cx="128.1" cy="298.2" r="2.65"/>
<circle cx="127.4" cy="300.6" r="2.65"/>
<circle cx="133.0" cy="293.4" r="2.65"/>
<circle cx="138.5" cy="285.1" r="2.65"/>
<circle cx="123.6" cy="295.4" r="2.65"/>
<circle cx="118.9" cy="298.7" r="2.65"/>
<circle cx="115.2" cy="300.1" r="2.65"/>
<circle cx="130.1" cy="290.1" r="2.65"/>
<circle cx="125.5" cy="298.0" r="2.65"/>
</g>
<g fill="#bcbd22">
<circle cx="125.5" cy="307.0" r="2.65"/>
<circle cx="121.3" cy="311.2" r="2.65"/>
<circle cx="120.2" cy="319.0" r="2.65"/>
<circle cx="111.9" cy="324.5" r="2.65"/>
<circle cx="119.9" cy="309.2" r="2.65"/>
<circle cx="114.6" cy="313.8" r="2.65"/>
<circle cx="110.6" cy="322.1" r="2.65"/>
<circle cx="118.8" cy="313.7" r="2.65"/>
<circle cx="123.5" cy="310.5" r="2.65"/>
<circle cx="123.0" cy="323.2" r="2.65"/>
<circle cx="124.8" cy="318.8" r="2.65"/>
<circle cx="117.9" cy="321.6" r="2.65"/>
<circle cx="112.9" cy="316.1" r="2.65"/>
<circle cx="114.0" cy="320.0" r="2.65"/>
<circle cx="124.8" cy="313.1" r="2.65"/>
<circle cx="115.2" cy="317.4" r="2.65"/>
<circle cx="120.4" cy="322.3" r="2.65"/>
<circle cx="116.6" cy="310.9" r="2.65"/>
<circle cx="120.5" cy="325.0" r="2.65"/>
<circle cx="117.5" cy="306.9" r="2.65"/>
<circle cx="117.6" cy="315.7" r="2.65"/>
<circle cx="121.4" cy="313.6" r="2.65"/>
<circle cx="123.2" cy="307.8" r="2.65"/>
<circle cx="110.4" cy="317.2" r="2.65"/>
</g>
<g fill="#7f7f7f">
<circle cx="128.0" cy="304.4" r="2.65"/>
<circle cx="129.0" cy="299.2" r="2.65"/>
<circle cx="122.4" cy="298.7" r="2.65"/>
<circle cx="133.3" cy="297.8" r="2.65"/>
<circle cx="124.5" cy="301.5" r="2.65"/>
<circle cx="133.6" cy="292.2" r="2.65"/>
<circle cx="133.1" cy="300.5" r="2.65"/>
<circle cx="131.0" cy="293.2" r="2.65"/>
<circle cx="124.8" cy="304.9" r="2.65"/>
<circle cx="125.1" cy="296.8" r="2.65"/>
<circle cx="132.8" cy="309.3" r="2.65"/>
<circle cx="126.7" cy="311.8" r="2.65"/>
<circle cx="125.9" cy="309.5" r="2.65"/>
<circle cx="135.5" cy="304.7" r="2.65"/>
<circle cx="126.2" cy="306.7" r="2.65"/>
<circle cx="132.5" cy="303.6" r="2.65"/>
<circle cx="135.7" cy="298.6" r="2.65"/>
<circle cx="121.5" cy="308.1" r="2.65"/>
<circle cx="129.6" cy="296.4" r="2.65"/>
<circle cx="120.1" cy="300.9" r="2.65"/>
<circle cx="122.8" cy="310.2" r="2.65"/>
<circle cx="135.2" cy="293.9" r="2.65"/>
<circle cx="122.3" cy="303.2" r="2.65"/>
<circle cx="136.6" cy="301.8" r="2.65"/>
</g>
<g fill="#8c564b">
<circle cx="130.7" cy="311.0" r="2.65"/>
<circle cx="134.4" cy="308.0" r="2.65"/>
<circle cx="127.0" cy="313.0" r="2.65"/>
</g>
<g fill="#1f77b4">
<circle cx="109.6" cy="300.8" r="2.65"/>
<circle cx="111.0" cy="304.0" r="2.65"/>
<circle cx="117.6" cy="297.0" r="2.65"/>
</g>
<g fill="#9467bd">
<circle cx="126.3" cy="327.0" r="2.65"/>
<circle cx="122.0" cy="322.0" r="2.65"/>
<circle cx="126.0" cy="318.0" r="2.65"/>
</g>
<g fill="#bcbd22">
<circle cx="141.8" cy="295.7" r="2.65"/>
<circle cx="144.5" cy="291.1" r="2.65"/>
<circle cx="137.5" cy="293.0" r="2.65"/>
<circle cx="143.8" cy="294.5" r="2.65"/>
<circle cx="139.0" cy="298.5" r="2.65"/>
<circle cx="148.5" cy="305.9" r="2.65"/>
<circle cx="140.0" cy="291.7" r="2.65"/>
<circle cx="145.2" cy="304.3" r="2.65"/>
<circle cx="140.8" cy="306.3" r="2.65"/>
<circle cx="148.4" cy="292.7" r="2.65"/>
<circle cx="143.9" cy="300.0" r="2.65"/>
<circle cx="148.0" cy="301.9" r="2.65"/>
<circle cx="140.9" cy="301.4" r="2.65"/>
<circle cx="142.2" cy="289.1" r="2.65"/>
</g>
<g fill="#17becf">
<circle cx="164.2" cy="302.3" r="2.65"/>
<circle cx="167.4" cy="300.2" r="2.65"/>
<circle cx="149.6" cy="305.3" r="2.65"/>
<circle cx="160.7" cy="300.3" r="2.65"/>
<circle cx="157.7" cy="295.5" r="2.65"/>
<circle cx="152.5" cy="298.7" r="2.65"/>
<circle cx="144.4" cy="308.5" r="2.65"/>
<circle cx="167.3" cy="294.5" r="2.65"/>
<circle cx="158.6" cy="304.5" r="2.65"/>
<circle cx="152.3" cy="305.0" r="2.65"/>
<circle cx="146.7" cy="294.5" r="2.65"/>
<circle cx="139.2" cy="307.4" r="2.65"/>
<circle cx="140.8" cy="298.0" r="2.65"/>
<circle cx="168.6" cy="291.0" r="2.65"/>
<circle cx="143.5" cy="304.7" r="2.65"/>
<circle cx="161.6" cy="294.7" r="2.65"/>
<circle cx="147.7" cy="300.2" r="2.65"/>
<circle cx="159.5" cy="291.4" r="2.65"/>
<circle cx="143.2" cy="296.8" r="2.65"/>
<circle cx="140.8" cy="303.0" r="2.65"/>
<circle cx="167.4" cy="287.4" r="2.65"/>
<circle cx="155.1" cy="303.4" r="2.65"/>
<circle cx="152.1" cy="291.1" r="2.65"/>
<circle cx="162.5" cy="298.0" r="2.65"/>
<circle cx="155.9" cy="291.1" r="2.65"/>
<circle cx="164.1" cy="289.9" r="2.65"/>
<circle cx="146.8" cy="308.2" r="2.65"/>
<circle cx="145.5" cy="301.2" r="2.65"/>
<circle cx="151.1" cy="307.8" r="2.65"/>
<circle cx="159.0" cy="302.0" r="2.65"/>
<circle cx="164.6" cy="296.7" r="2.65"/>
<circle cx="145.3" cy="297.9" r="2.65"/>
<circle cx="157.5" cy="299.7" r="2.65"/>
<circle cx="164.0" cy="293.6" r="2.65"/>
<circle cx="152.4" cy="294.2" r="2.65"/>
<circle cx="149.3" cy="292.4" r="2.65"/>
</g>
<g fill="#e377c2">
<circle cx="151.6" cy="271.4" r="2.65"/>
<circle cx="162.5" cy="264.9" r="2.65"/>
<circle cx="173.7" cy="270.2" r="2.65"/>
<circle cx="175.1" cy="256.6" r="2.65"/>
<circle cx="166.6" cy="275.9" r="2.65"/>
<circle cx="146.9" cy="279.7" r="2.65"/>
<circle cx="155.2" cy="282.4" r="2.65"/>
<circle cx="175.7" cy="268.8" r="2.65"/>
<circle cx="175.6" cy="260.6" r="2.65"/>
<circle cx="150.2" cy="281.1" r="2.65"/>
<circle cx="168.3" cy="264.8" r="2.65"/>
<circle cx="156.7" cy="268.3" r="2.65"/>
<circle cx="161.6" cy="275.8" r="2.65"/>
<circle cx="167.0" cy="257.9" r="2.65"/>
<circle cx="157.3" cy="275.6" r="2.65"/>
<circle cx="160.4" cy="266.6" r="2.65"/>
<circle cx="156.9" cy="280.2" r="2.65"/>
<circle cx="145.0" cy="283.8" r="2.65"/>
<circle cx="152.5" cy="277.2" r="2.65"/>
<circle cx="145.9" cy="272.7" r="2.65"/>
<circle cx="169.8" cy="258.0" r="2.65"/>
<circle cx="148.5" cy="283.1" r="2.65"/>
<circle cx="157.8" cy="261.6" r="2.65"/>
<circle cx="155.6" cy="265.9" r="2.65"/>
<circle cx="143.5" cy="280.0" r="2.65"/>
<circle cx="170.5" cy="272.0" r="2.65"/>
<circle cx="155.2" cy="273.8" r="2.65"/>
<circle cx="172.3" cy="258.7" r="2.65"/>
<circle cx="167.5" cy="267.5" r="2.65"/>
<circle cx="158.9" cy="278.8" r="2.65"/>
<circle cx="147.6" cy="266.5" r="2.65"/>
<circle cx="161.6" cy="269.5" r="2.65"/>
<circle cx="162.0" cy="259.1" r="2.65"/>
<circle cx="170.5" cy="260.3" r="2.65"/>
<circle cx="163.7" cy="274.0" r="2.65"/>
<circle cx="154.2" cy="263.1" r="2.65"/>
<circle cx="149.3" cy="272.2" r="2.65"/>
<circle cx="149.7" cy="278.7" r="2.65"/>
<circle cx="166.0" cy="270.2" r="2.65"/>
<circle cx="153.0" cy="268.1" r="2.65"/>
<circle cx="172.4" cy="263.9" r="2.65"/>
<circle cx="164.0" cy="261.3" r="2.65"/>
<circle cx="157.5" cy="270.6" r="2.65"/>
<circle cx="154.9" cy="278.0" r="2.65"/>
<circle cx="173.9" cy="266.5" r="2.65"/>
<circle cx="148.8" cy="275.9" r="2.65"/>
<circle cx="170.7" cy="266.5" r="2.65"/>
<circle cx="163.5" cy="277.4" r="2.65"/>
<circle cx="151.1" cy="273.8" r="2.65"/>
<circle cx="164.2" cy="267.9" r="2.65"/>
<circle cx="157.3" cy="264.0" r="2.65"/>
<circle cx="166.7" cy="263.1" r="2.65"/>
<circle cx="145.7" cy="268.9" r="2.65"/>
</g>
<g fill="#7f7f7f">
<circle cx="163.2" cy="282.2" r="2.65"/>
<circle cx="156.0" cy="278.4" r="2.65"/>
<circle cx="162.8" cy="284.6" r="2.65"/>
<circle cx="163.9" cy="276.4" r="2.65"/>
<circle cx="160.2" cy="283.7" r="2.65"/>
</g>
<g fill="#bcbd22">
<circle cx="156.1" cy="286.7" r="2.65"/>
<circle cx="173.9" cy="277.6" r="2.65"/>
<circle cx="147.4" cy="287.8" r="2.65"/>
<circle cx="166.1" cy="284.2" r="2.65"/>
<circle cx="142.7" cy="287.7" r="2.65"/>
<circle cx="168.3" cy="278.7" r="2.65"/>
<circle cx="169.0" cy="284.2" r="2.65"/>
<circle cx="177.0" cy="276.6" r="2.65"/>
<circle cx="139.4" cy="289.6" r="2.65"/>
<circle cx="141.2" cy="291.3" r="2.65"/>
<circle cx="146.7" cy="291.8" r="2.65"/>
<circle cx="154.8" cy="291.9" r="2.65"/>
<circle cx="137.3" cy="294.3" r="2.65"/>
<circle cx="155.3" cy="284.4" r="2.65"/>
<circle cx="158.4" cy="282.6" r="2.65"/>
<circle cx="159.7" cy="290.0" r="2.65"/>
<circle cx="152.0" cy="289.2" r="2.65"/>
<circle cx="150.4" cy="285.2" r="2.65"/>
<circle cx="163.2" cy="279.0" r="2.65"/>
<circle cx="174.0" cy="280.4" r="2.65"/>
<circle cx="174.7" cy="284.0" r="2.65"/>
<circle cx="144.9" cy="295.3" r="2.65"/>
<circle cx="139.8" cy="295.6" r="2.65"/>
<circle cx="145.5" cy="289.8" r="2.65"/>
<circle cx="161.5" cy="282.4" r="2.65"/>
<circle cx="138.0" cy="298.6" r="2.65"/>
<circle cx="158.9" cy="285.5" r="2.65"/>
<circle cx="169.2" cy="275.0" r="2.65"/>
<circle cx="157.3" cy="279.5" r="2.65"/>
<circle cx="163.3" cy="286.6" r="2.65"/>
<circle cx="161.7" cy="288.8" r="2.65"/>
<circle cx="153.1" cy="281.9" r="2.65"/>
</g>
<g fill="#9467bd">
<circle cx="169.3" cy="286.2" r="2.65"/>
</g>
<g fill="#e377c2">
<circle cx="172.9" cy="260.3" r="2.65"/>
<circle cx="160.2" cy="255.0" r="2.65"/>
<circle cx="179.5" cy="256.6" r="2.65"/>
<circle cx="172.9" cy="254.9" r="2.65"/>
<circle cx="174.6" cy="258.6" r="2.65"/>
<circle cx="175.4" cy="271.5" r="2.65"/>
<circle cx="170.1" cy="270.8" r="2.65"/>
<circle cx="177.0" cy="258.6" r="2.65"/>
<circle cx="163.7" cy="265.4" r="2.65"/>
<circle cx="183.0" cy="268.1" r="2.65"/>
<circle cx="166.0" cy="264.1" r="2.65"/>
<circle cx="182.3" cy="256.6" r="2.65"/>
<circle cx="183.8" cy="259.8" r="2.65"/>
<circle cx="171.3" cy="256.6" r="2.65"/>
<circle cx="178.9" cy="265.3" r="2.65"/>
<circle cx="174.2" cy="263.4" r="2.65"/>
<circle cx="167.7" cy="253.6" r="2.65"/>
<circle cx="182.5" cy="265.2" r="2.65"/>
<circle cx="162.7" cy="252.7" r="2.65"/>
<circle cx="160.6" cy="265.7" r="2.65"/>
<circle cx="170.6" cy="259.9" r="2.65"/>
<circle cx="161.7" cy="262.3" r="2.65"/>
<circle cx="166.9" cy="257.7" r="2.65"/>
<circle cx="176.3" cy="251.7" r="2.65"/>
<circle cx="175.7" cy="267.9" r="2.65"/>
<circle cx="164.7" cy="269.9" r="2.65"/>
<circle cx="180.2" cy="268.0" r="2.65"/>
<circle cx="165.2" cy="260.5" r="2.65"/>
<circle cx="177.4" cy="255.1" r="2.65"/>
<circle cx="181.0" cy="271.0" r="2.65"/>
<circle cx="171.9" cy="264.3" r="2.65"/>
<circle cx="176.4" cy="264.9" r="2.65"/>
<circle cx="172.4" cy="272.0" r="2.65"/>
<circle cx="183.5" cy="270.7" r="2.65"/>
<circle cx="164.8" cy="251.7" r="2.65"/>
</g>
<g fill="#8c564b">
<circle cx="186.6" cy="255.9" r="2.65"/>
<circle cx="199.8" cy="248.3" r="2.65"/>
<circle cx="183.6" cy="258.8" r="2.65"/>
<circle cx="203.6" cy="252.4" r="2.65"/>
<circle cx="206.6" cy="244.8" r="2.65"/>
<circle cx="210.6" cy="248.9" r="2.65"/>
<circle cx="213.0" cy="239.8" r="2.65"/>
<circle cx="206.6" cy="242.0" r="2.65"/>
<circle cx="189.0" cy="262.9" r="2.65"/>
<circle cx="191.0" cy="239.2" r="2.65"/>
<circle cx="180.4" cy="247.7" r="2.65"/>
<circle cx="189.2" cy="256.2" r="2.65"/>
<circle cx="194.5" cy="256.8" r="2.65"/>
<circle cx="199.8" cy="255.9" r="2.65"/>
<circle cx="195.4" cy="248.6" r="2.65"/>
<circle cx="203.3" cy="245.2" r="2.65"/>
<circle cx="201.4" cy="253.4" r="2.65"/>
<circle cx="196.3" cy="261.5" r="2.65"/>
<circle cx="189.7" cy="242.7" r="2.65"/>
<circle cx="207.5" cy="249.6" r="2.65"/>
<circle cx="190.6" cy="252.8" r="2.65"/>
<circle cx="185.2" cy="262.9" r="2.65"/>
<circle cx="192.6" cy="254.5" r="2.65"/>
<circle cx="181.3" cy="254.4" r="2.65"/>
<circle cx="196.4" cy="245.0" r="2.65"/>
<circle cx="196.8" cy="250.5" r="2.65"/>
<circle cx="208.2" cy="252.0" r="2.65"/>
<circle cx="193.7" cy="246.3" r="2.65"/>
<circle cx="183.9" cy="255.0" r="2.65"/>
<circle cx="194.2" cy="240.7" r="2.65"/>
<circle cx="192.0" cy="258.4" r="2.65"/>
<circle cx="188.1" cy="246.1" r="2.65"/>
<circle cx="187.3" cy="259.7" r="2.65"/>
<circle cx="183.1" cy="249.9" r="2.65"/>
<circle cx="207.2" cy="254.9" r="2.65"/>
<circle cx="205.5" cy="247.8" r="2.65"/>
<circle cx="203.0" cy="238.5" r="2.65"/>
<circle cx="180.2" cy="262.6" r="2.65"/>
<circle cx="198.1" cy="259.8" r="2.65"/>
<circle cx="209.7" cy="255.0" r="2.65"/>
<circle cx="186.8" cy="252.9" r="2.65"/>
<circle cx="186.6" cy="242.3" r="2.65"/>
<circle cx="191.3" cy="262.4" r="2.65"/>
<circle cx="193.8" cy="250.3" r="2.65"/>
<circle cx="209.6" cy="245.2" r="2.65"/>
<circle cx="195.4" cy="253.7" r="2.65"/>
<circle cx="197.4" cy="255.5" r="2.65"/>
<circle cx="190.6" cy="245.7" r="2.65"/>
<circle cx="184.5" cy="247.9" r="2.65"/>
<circle cx="202.1" cy="257.9" r="2.65"/>
<circle cx="213.4" cy="244.4" r="2.65"/>
<circle cx="192.4" cy="242.8" r="2.65"/>
<circle cx="186.2" cy="249.5" r="2.65"/>
<circle cx="203.7" cy="254.8" r="2.65"/>
<circle cx="202.8" cy="242.1" r="2.65"/>
<circle cx="197.1" cy="242.7" r="2.65"/>
<circle cx="180.1" cy="259.3" r="2.65"/>
<circle cx="200.3" cy="239.4" r="2.65"/>
<circle cx="195.6" cy="238.4" r="2.65"/>
<circle cx="198.2" cy="246.7" r="2.65"/>
<circle cx="209.9" cy="240.2" r="2.65"/>
<circle cx="182.2" cy="261.1" r="2.65"/>
<circle cx="205.2" cy="237.5" r="2.65"/>
<circle cx="201.3" cy="250.8" r="2.65"/>
<circle cx="201.9" cy="241.3" r="2.65"/>
<circle cx="207.7" cy="238.3" r="2.65"/>
<circle cx="206.5" cy="240.8" r="2.65"/>
<circle cx="210.4" cy="237.6" r="2.65"/>
<circle cx="200.6" cy="243.9" r="2.65"/>
<circle cx="212.5" cy="233.4" r="2.65"/>
<circle cx="208.6" cy="234.6" r="2.65"/>
<circle cx="203.1" cy="231.4" r="2.65"/>
<circle cx="199.8" cy="238.7" r="2.65"/>
<circle cx="197.1" cy="236.2" r="2.65"/>
<circle cx="208.7" cy="229.7" r="2.65"/>
<circle cx="200.8" cy="230.7" r="2.65"/>
<circle cx="211.7" cy="230.3" r="2.65"/>
<circle cx="216.0" cy="226.7" r="2.65"/>
<circle cx="222.7" cy="222.3" r="2.65"/>
<circle cx="222.7" cy="229.6" r="2.65"/>
</g>
<g fill="#ff7f0e">
<circle cx="185.5" cy="246.3" r="2.65"/>
</g>
<g fill="#d62728">
<circle cx="192.0" cy="264.6" r="2.65"/>
<circle cx="194.0" cy="262.0" r="2.65"/>
</g>
<g fill="#17becf">
<circle cx="177.4" cy="275.6" r="2.65"/>
<circle cx="191.9" cy="284.6" r="2.65"/>
<circle cx="198.9" cy="269.3" r="2.65"/>
<circle cx="195.8" cy="280.5" r="2.65"/>
<circle cx="182.0" cy="274.4" r="2.65"/>
<circle cx="196.9" cy="276.9" r="2.65"/>
<circle cx="182.0" cy="270.9" r="2.65"/>
<circle cx="184.6" cy="275.8" r="2.65"/>
<circle cx="191.0" cy="272.1" r="2.65"/>
<circle cx="183.3" cy="280.4" r="2.65"/>
<circle cx="190.6" cy="279.1" r="2.65"/>
<circle cx="200.1" cy="267.2" r="2.65"/>
<circle cx="181.0" cy="279.0" r="2.65"/>
<circle cx="193.8" cy="282.9" r="2.65"/>
<circle cx="182.8" cy="283.9" r="2.65"/>
<circle cx="178.3" cy="279.9" r="2.65"/>
<circle cx="190.7" cy="274.7" r="2.65"/>
<circle cx="196.6" cy="271.9" r="2.65"/>
<circle cx="193.0" cy="279.0" r="2.65"/>
<circle cx="199.2" cy="273.2" r="2.65"/>
<circle cx="190.6" cy="282.4" r="2.65"/>
<circle cx="188.2" cy="282.9" r="2.65"/>
<circle cx="180.2" cy="285.5" r="2.65"/>
<circle cx="178.8" cy="287.9" r="2.65"/>
<circle cx="187.3" cy="268.9" r="2.65"/>
<circle cx="185.8" cy="286.4" r="2.65"/>
<circle cx="177.1" cy="285.9" r="2.65"/>
<circle cx="186.5" cy="278.8" r="2.65"/>
<circle cx="180.5" cy="289.6" r="2.65"/>
<circle cx="182.1" cy="287.6" r="2.65"/>
<circle cx="179.3" cy="282.2" r="2.65"/>
<circle cx="186.7" cy="273.0" r="2.65"/>
<circle cx="184.9" cy="268.5" r="2.65"/>
<circle cx="178.4" cy="273.5" r="2.65"/>
<circle cx="197.3" cy="266.2" r="2.65"/>
<circle cx="211.2" cy="259.2" r="2.65"/>
<circle cx="202.6" cy="261.3" r="2.65"/>
<circle cx="201.7" cy="272.9" r="2.65"/>
<circle cx="203.2" cy="263.7" r="2.65"/>
<circle cx="209.5" cy="269.4" r="2.65"/>
<circle cx="211.5" cy="264.9" r="2.65"/>
<circle cx="206.9" cy="265.4" r="2.65"/>
<circle cx="206.3" cy="259.9" r="2.65"/>
<circle cx="201.0" cy="275.8" r="2.65"/>
<circle cx="212.3" cy="270.5" r="2.65"/>
<circle cx="200.1" cy="269.2" r="2.65"/>
<circle cx="211.1" cy="273.0" r="2.65"/>
<circle cx="215.5" cy="259.0" r="2.65"/>
<circle cx="214.9" cy="266.6" r="2.65"/>
<circle cx="209.1" cy="266.7" r="2.65"/>
<circle cx="214.1" cy="272.2" r="2.65"/>
<circle cx="210.2" cy="262.8" r="2.65"/>
<circle cx="209.0" cy="271.8" r="2.65"/>
<circle cx="208.6" cy="258.6" r="2.65"/>
<circle cx="205.1" cy="266.9" r="2.65"/>
<circle cx="205.7" cy="269.7" r="2.65"/>
</g>
<g fill="#9467bd">
<circle cx="186.4" cy="262.7" r="2.65"/>
<circle cx="198.2" cy="258.2" r="2.65"/>
<circle cx="191.6" cy="264.6" r="2.65"/>
<circle cx="184.0" cy="268.4" r="2.65"/>
<circle cx="194.6" cy="257.5" r="2.65"/>
<circle cx="182.2" cy="266.0" r="2.65"/>
<circle cx="194.4" cy="262.5" r="2.65"/>
<circle cx="173.6" cy="275.1" r="2.65"/>
<circle cx="177.2" cy="270.6" r="2.65"/>
</g>
<g fill="#bcbd22">
<circle cx="209.1" cy="257.9" r="2.65"/>
<circle cx="212.0" cy="254.0" r="2.65"/>
<circle cx="202.9" cy="258.6" r="2.65"/>
<circle cx="205.0" cy="256.0" r="2.65"/>
<circle cx="201.2" cy="250.0" r="2.65"/>
<circle cx="211.9" cy="246.0" r="2.65"/>
<circle cx="225.1" cy="257.5" r="2.65"/>
<circle cx="219.6" cy="255.4" r="2.65"/>
<circle cx="221.4" cy="249.5" r="2.65"/>
<circle cx="211.3" cy="257.1" r="2.65"/>
<circle cx="209.4" cy="251.6" r="2.65"/>
<circle cx="205.7" cy="259.4" r="2.65"/>
<circle cx="228.6" cy="245.1" r="2.65"/>
<circle cx="220.4" cy="242.8" r="2.65"/>
<circle cx="223.8" cy="242.9" r="2.65"/>
<circle cx="227.2" cy="253.9" r="2.65"/>
<circle cx="214.7" cy="255.1" r="2.65"/>
<circle cx="209.7" cy="249.1" r="2.65"/>
<circle cx="208.3" cy="260.2" r="2.65"/>
<circle cx="220.9" cy="258.1" r="2.65"/>
<circle cx="213.0" cy="243.1" r="2.65"/>
<circle cx="206.2" cy="253.5" r="2.65"/>
<circle cx="222.1" cy="247.3" r="2.65"/>
<circle cx="204.1" cy="251.5" r="2.65"/>
<circle cx="214.7" cy="250.9" r="2.65"/>
<circle cx="218.7" cy="245.9" r="2.65"/>
<circle cx="226.3" cy="251.8" r="2.65"/>
<circle cx="217.2" cy="249.2" r="2.65"/>
<circle cx="224.0" cy="250.7" r="2.65"/>
<circle cx="202.0" cy="253.9" r="2.65"/>
<circle cx="223.8" cy="255.1" r="2.65"/>
<circle cx="215.1" cy="245.3" r="2.65"/>
<circle cx="219.2" cy="251.4" r="2.65"/>
<circle cx="206.3" cy="249.0" r="2.65"/>
<circle cx="218.6" cy="258.4" r="2.65"/>
<circle cx="211.7" cy="261.6" r="2.65"/>
<circle cx="227.4" cy="256.4" r="2.65"/>
<circle cx="216.9" cy="242.2" r="2.65"/>
<circle cx="202.5" cy="247.4" r="2.65"/>
</g>
<g fill="#7f7f7f">
<circle cx="198.0" cy="261.6" r="2.65"/>
<circle cx="218.3" cy="242.0" r="2.65"/>
<circle cx="215.0" cy="245.0" r="2.65"/>
</g>
<g fill="#bcbd22">
<circle cx="166.9" cy="281.0" r="2.65"/>
<circle cx="160.5" cy="278.1" r="2.65"/>
<circle cx="166.3" cy="277.1" r="2.65"/>
<circle cx="170.8" cy="283.1" r="2.65"/>
<circle cx="163.7" cy="276.8" r="2.65"/>
<circle cx="175.0" cy="283.8" r="2.65"/>
<circle cx="170.4" cy="278.7" r="2.65"/>
<circle cx="161.5" cy="281.0" r="2.65"/>
<circle cx="166.2" cy="284.7" r="2.65"/>
<circle cx="170.9" cy="276.3" r="2.65"/>
<circle cx="166.1" cy="273.5" r="2.65"/>
<circle cx="174.1" cy="277.3" r="2.65"/>
</g>
<g fill="#17becf">
<circle cx="163.4" cy="296.1" r="2.65"/>
<circle cx="164.3" cy="290.8" r="2.65"/>
<circle cx="162.3" cy="289.3" r="2.65"/>
<circle cx="160.0" cy="295.3" r="2.65"/>
<circle cx="167.5" cy="289.1" r="2.65"/>
<circle cx="167.6" cy="293.7" r="2.65"/>
<circle cx="169.6" cy="296.5" r="2.65"/>
</g>
<line x1="53.3" y1="363.5" x2="252.3" y2="213.1" stroke="#000" stroke-width="1.55"/>
<path d="M53.3 213.1V363.5H252.3" fill="none" stroke="#000" stroke-width="1.5"/>
<line x1="53.3" y1="363.5" x2="53.3" y2="367.0" stroke="#000" stroke-width="1.1"/>
<line x1="49.8" y1="363.5" x2="53.3" y2="363.5" stroke="#000" stroke-width="1.1"/>
<text x="47.3" y="367.4" text-anchor="end" class="tk" textLength="17" lengthAdjust="spacing">0.0</text>
<line x1="96.8" y1="363.5" x2="96.8" y2="367.0" stroke="#000" stroke-width="1.1"/>
<line x1="49.8" y1="330.6" x2="53.3" y2="330.6" stroke="#000" stroke-width="1.1"/>
<text x="47.3" y="334.5" text-anchor="end" class="tk" textLength="17" lengthAdjust="spacing">0.5</text>
<line x1="140.3" y1="363.5" x2="140.3" y2="367.0" stroke="#000" stroke-width="1.1"/>
<line x1="49.8" y1="297.7" x2="53.3" y2="297.7" stroke="#000" stroke-width="1.1"/>
<text x="47.3" y="301.6" text-anchor="end" class="tk" textLength="17" lengthAdjust="spacing">1.0</text>
<line x1="183.8" y1="363.5" x2="183.8" y2="367.0" stroke="#000" stroke-width="1.1"/>
<line x1="49.8" y1="264.9" x2="53.3" y2="264.9" stroke="#000" stroke-width="1.1"/>
<text x="47.3" y="268.8" text-anchor="end" class="tk" textLength="17" lengthAdjust="spacing">1.5</text>
<line x1="227.3" y1="363.5" x2="227.3" y2="367.0" stroke="#000" stroke-width="1.1"/>
<line x1="49.8" y1="232.0" x2="53.3" y2="232.0" stroke="#000" stroke-width="1.1"/>
<text x="47.3" y="235.9" text-anchor="end" class="tk" textLength="17" lengthAdjust="spacing">2.0</text>
<rect x="59.4" y="211.3" width="112.6" height="14.9" fill="#fff" stroke="#b3d9f3" stroke-width="1"/>
<text x="115.7" y="222.9" text-anchor="middle" class="mp" textLength="104.9" lengthAdjust="spacing">MAPE: 8.42 ± 4.48%</text>
<g fill="#e377c2">
<circle cx="374.8" cy="280.6" r="2.65"/>
</g>
<g fill="#bcbd22">
<circle cx="373.7" cy="276.8" r="2.65"/>
</g>
<g fill="#ff7f0e">
<circle cx="397.5" cy="262.8" r="2.65"/>
</g>
<g fill="#bcbd22">
<circle cx="342.6" cy="299.8" r="2.65"/>
</g>
<g fill="#e377c2">
<circle cx="320.7" cy="331.0" r="2.65"/>
<circle cx="344.7" cy="305.0" r="2.65"/>
<circle cx="423.4" cy="244.0" r="2.65"/>
</g>
<g fill="#bcbd22">
<circle cx="396.9" cy="274.6" r="2.65"/>
<circle cx="365.6" cy="279.1" r="2.65"/>
</g>
<g fill="#d62728">
<circle cx="411.5" cy="247.8" r="2.65"/>
</g>
<g fill="#e377c2">
<circle cx="414.8" cy="260.4" r="2.65"/>
<circle cx="338.2" cy="306.2" r="2.65"/>
</g>
<g fill="#bcbd22">
<circle cx="393.0" cy="273.5" r="2.65"/>
<circle cx="377.6" cy="287.3" r="2.65"/>
</g>
<g fill="#17becf">
<circle cx="388.4" cy="278.3" r="2.65"/>
<circle cx="339.3" cy="311.0" r="2.65"/>
</g>
<g fill="#bcbd22">
<circle cx="328.6" cy="316.7" r="2.65"/>
</g>
<g fill="#e377c2">
<circle cx="356.8" cy="292.0" r="2.65"/>
<circle cx="431.5" cy="230.0" r="2.65"/>
</g>
<g fill="#9467bd">
<circle cx="332.0" cy="317.1" r="2.65"/>
<circle cx="413.5" cy="256.1" r="2.65"/>
</g>
<g fill="#e377c2">
<circle cx="424.8" cy="248.8" r="2.65"/>
</g>
<g fill="#17becf">
<circle cx="343.4" cy="308.4" r="2.65"/>
<circle cx="336.9" cy="313.9" r="2.65"/>
</g>
<g fill="#bcbd22">
<circle cx="334.1" cy="313.8" r="2.65"/>
</g>
<g fill="#8c564b">
<circle cx="401.4" cy="264.3" r="2.65"/>
</g>
<g fill="#d62728">
<circle cx="345.8" cy="308.7" r="2.65"/>
</g>
<g fill="#bcbd22">
<circle cx="327.7" cy="320.6" r="2.65"/>
</g>
<g fill="#7f7f7f">
<circle cx="416.0" cy="249.7" r="2.65"/>
</g>
<g fill="#ff7f0e">
<circle cx="385.2" cy="273.7" r="2.65"/>
</g>
<g fill="#bcbd22">
<circle cx="406.1" cy="263.1" r="2.65"/>
</g>
<g fill="#ff7f0e">
<circle cx="425.9" cy="240.2" r="2.65"/>
</g>
<g fill="#7f7f7f">
<circle cx="344.9" cy="302.4" r="2.65"/>
</g>
<g fill="#e377c2">
<circle cx="408.3" cy="250.5" r="2.65"/>
</g>
<g fill="#8c564b">
<circle cx="357.9" cy="298.0" r="2.65"/>
</g>
<g fill="#bcbd22">
<circle cx="371.1" cy="285.4" r="2.65"/>
<circle cx="349.4" cy="298.8" r="2.65"/>
</g>
<g fill="#ff7f0e">
<circle cx="355.8" cy="287.3" r="2.65"/>
</g>
<g fill="#d62728">
<circle cx="321.8" cy="326.2" r="2.65"/>
</g>
<g fill="#8c564b">
<circle cx="391.4" cy="268.7" r="2.65"/>
</g>
<g fill="#17becf">
<circle cx="340.6" cy="304.0" r="2.65"/>
</g>
<g fill="#7f7f7f">
<circle cx="363.7" cy="280.6" r="2.65"/>
</g>
<g fill="#8c564b">
<circle cx="360.7" cy="287.3" r="2.65"/>
</g>
<g fill="#ff7f0e">
<circle cx="329.4" cy="311.7" r="2.65"/>
</g>
<g fill="#e377c2">
<circle cx="371.7" cy="289.7" r="2.65"/>
</g>
<g fill="#bcbd22">
<circle cx="377.1" cy="284.7" r="2.65"/>
</g>
<g fill="#d62728">
<circle cx="394.4" cy="268.4" r="2.65"/>
</g>
<g fill="#e377c2">
<circle cx="405.8" cy="255.8" r="2.65"/>
</g>
<g fill="#9467bd">
<circle cx="341.6" cy="301.9" r="2.65"/>
</g>
<g fill="#7f7f7f">
<circle cx="322.1" cy="317.4" r="2.65"/>
</g>
<g fill="#9467bd">
<circle cx="332.8" cy="304.1" r="2.65"/>
</g>
<g fill="#ff7f0e">
<circle cx="380.3" cy="281.8" r="2.65"/>
</g>
<g fill="#7f7f7f">
<circle cx="367.9" cy="292.6" r="2.65"/>
</g>
<g fill="#9467bd">
<circle cx="390.3" cy="263.7" r="2.65"/>
</g>
<g fill="#d62728">
<circle cx="368.9" cy="283.4" r="2.65"/>
</g>
<g fill="#17becf">
<circle cx="387.5" cy="282.1" r="2.65"/>
</g>
<g fill="#bcbd22">
<circle cx="366.0" cy="284.0" r="2.65"/>
</g>
<g fill="#d62728">
<circle cx="377.0" cy="273.7" r="2.65"/>
</g>
<g fill="#ff7f0e">
<circle cx="405.1" cy="259.3" r="2.65"/>
</g>
<g fill="#bcbd22">
<circle cx="374.2" cy="272.9" r="2.65"/>
</g>
<g fill="#e377c2">
<circle cx="365.0" cy="288.9" r="2.65"/>
</g>
<g fill="#9467bd">
<circle cx="371.9" cy="274.9" r="2.65"/>
<circle cx="388.3" cy="269.6" r="2.65"/>
<circle cx="343.4" cy="313.3" r="2.65"/>
</g>
<g fill="#17becf">
<circle cx="349.6" cy="296.5" r="2.65"/>
<circle cx="326.5" cy="314.5" r="2.65"/>
</g>
<g fill="#e377c2">
<circle cx="415.5" cy="252.2" r="2.65"/>
<circle cx="367.8" cy="281.2" r="2.65"/>
</g>
<g fill="#17becf">
<circle cx="333.0" cy="306.5" r="2.65"/>
</g>
<g fill="#e377c2">
<circle cx="397.3" cy="267.7" r="2.65"/>
</g>
<g fill="#17becf">
<circle cx="383.4" cy="283.9" r="2.65"/>
</g>
<g fill="#d62728">
<circle cx="405.0" cy="267.2" r="2.65"/>
</g>
<g fill="#bcbd22">
<circle cx="421.2" cy="254.6" r="2.65"/>
</g>
<g fill="#8c564b">
<circle cx="370.7" cy="292.5" r="2.65"/>
</g>
<g fill="#e377c2">
<circle cx="386.0" cy="266.3" r="2.65"/>
</g>
<g fill="#bcbd22">
<circle cx="398.7" cy="271.7" r="2.65"/>
</g>
<g fill="#17becf">
<circle cx="401.1" cy="260.9" r="2.65"/>
<circle cx="323.1" cy="312.6" r="2.65"/>
</g>
<g fill="#e377c2">
<circle cx="362.0" cy="290.5" r="2.65"/>
</g>
<g fill="#bcbd22">
<circle cx="366.6" cy="296.2" r="2.65"/>
</g>
<g fill="#9467bd">
<circle cx="400.7" cy="258.3" r="2.65"/>
</g>
<g fill="#7f7f7f">
<circle cx="339.7" cy="313.7" r="2.65"/>
</g>
<g fill="#bcbd22">
<circle cx="328.7" cy="307.0" r="2.65"/>
</g>
<g fill="#e377c2">
<circle cx="421.9" cy="252.0" r="2.65"/>
</g>
<g fill="#bcbd22">
<circle cx="428.0" cy="234.8" r="2.65"/>
</g>
<g fill="#17becf">
<circle cx="375.0" cy="282.9" r="2.65"/>
</g>
<g fill="#bcbd22">
<circle cx="364.4" cy="297.8" r="2.65"/>
<circle cx="389.0" cy="266.5" r="2.65"/>
</g>
<g fill="#d62728">
<circle cx="428.1" cy="242.0" r="2.65"/>
</g>
<g fill="#8c564b">
<circle cx="430.0" cy="237.0" r="2.65"/>
</g>
<g fill="#9467bd">
<circle cx="412.7" cy="250.2" r="2.65"/>
</g>
<g fill="#bcbd22">
<circle cx="343.3" cy="315.7" r="2.65"/>
<circle cx="330.8" cy="314.4" r="2.65"/>
</g>
<g fill="#d62728">
<circle cx="382.6" cy="274.2" r="2.65"/>
</g>
<g fill="#7f7f7f">
<circle cx="423.1" cy="239.5" r="2.65"/>
</g>
<g fill="#17becf">
<circle cx="391.1" cy="275.3" r="2.65"/>
</g>
<g fill="#8c564b">
<circle cx="341.2" cy="297.7" r="2.65"/>
</g>
<g fill="#bcbd22">
<circle cx="352.1" cy="296.9" r="2.65"/>
</g>
<g fill="#8c564b">
<circle cx="349.7" cy="303.2" r="2.65"/>
</g>
<g fill="#7f7f7f">
<circle cx="384.7" cy="269.4" r="2.65"/>
</g>
<g fill="#9467bd">
<circle cx="431.6" cy="240.9" r="2.65"/>
</g>
<g fill="#d62728">
<circle cx="403.4" cy="261.2" r="2.65"/>
</g>
<g fill="#9467bd">
<circle cx="400.7" cy="267.2" r="2.65"/>
</g>
<g fill="#7f7f7f">
<circle cx="368.3" cy="285.9" r="2.65"/>
</g>
<g fill="#d62728">
<circle cx="415.6" cy="242.2" r="2.65"/>
</g>
<g fill="#e377c2">
<circle cx="417.0" cy="244.0" r="2.65"/>
</g>
<g fill="#d62728">
<circle cx="395.0" cy="257.7" r="2.65"/>
</g>
<g fill="#bcbd22">
<circle cx="393.5" cy="277.3" r="2.65"/>
</g>
<g fill="#8c564b">
<circle cx="385.9" cy="277.0" r="2.65"/>
</g>
<g fill="#9467bd">
<circle cx="341.2" cy="306.8" r="2.65"/>
</g>
<g fill="#ff7f0e">
<circle cx="390.6" cy="280.0" r="2.65"/>
</g>
<g fill="#17becf">
<circle cx="331.7" cy="324.0" r="2.65"/>
</g>
<g fill="#7f7f7f">
<circle cx="349.6" cy="310.3" r="2.65"/>
</g>
<g fill="#9467bd">
<circle cx="416.0" cy="247.2" r="2.65"/>
</g>
<g fill="#e377c2">
<circle cx="327.5" cy="327.3" r="2.65"/>
</g>
<g fill="#ff7f0e">
<circle cx="389.7" cy="272.6" r="2.65"/>
</g>
<g fill="#7f7f7f">
<circle cx="395.9" cy="264.8" r="2.65"/>
<circle cx="320.1" cy="314.1" r="2.65"/>
</g>
<g fill="#ff7f0e">
<circle cx="379.0" cy="275.7" r="2.65"/>
</g>
<g fill="#d62728">
<circle cx="397.9" cy="256.3" r="2.65"/>
</g>
<g fill="#7f7f7f">
<circle cx="417.7" cy="255.8" r="2.65"/>
</g>
<g fill="#8c564b">
<circle cx="410.5" cy="263.6" r="2.65"/>
</g>
<g fill="#17becf">
<circle cx="424.9" cy="252.4" r="2.65"/>
</g>
<g fill="#bcbd22">
<circle cx="351.9" cy="289.9" r="2.65"/>
</g>
<g fill="#17becf">
<circle cx="395.6" cy="261.3" r="2.65"/>
<circle cx="404.2" cy="264.6" r="2.65"/>
</g>
<g fill="#9467bd">
<circle cx="322.4" cy="323.8" r="2.65"/>
</g>
<g fill="#7f7f7f">
<circle cx="421.3" cy="248.0" r="2.65"/>
</g>
<g fill="#9467bd">
<circle cx="408.5" cy="256.2" r="2.65"/>
</g>
<g fill="#ff7f0e">
<circle cx="356.8" cy="304.3" r="2.65"/>
</g>
<g fill="#bcbd22">
<circle cx="378.1" cy="282.5" r="2.65"/>
</g>
<g fill="#e377c2">
<circle cx="406.8" cy="253.0" r="2.65"/>
</g>
<g fill="#bcbd22">
<circle cx="334.9" cy="319.3" r="2.65"/>
</g>
<g fill="#17becf">
<circle cx="350.1" cy="292.2" r="2.65"/>
<circle cx="393.4" cy="263.5" r="2.65"/>
</g>
<g fill="#7f7f7f">
<circle cx="360.3" cy="283.2" r="2.65"/>
</g>
<g fill="#d62728">
<circle cx="412.3" cy="253.0" r="2.65"/>
<circle cx="357.9" cy="285.6" r="2.65"/>
<circle cx="323.2" cy="328.7" r="2.65"/>
</g>
<g fill="#9467bd">
<circle cx="353.1" cy="304.9" r="2.65"/>
</g>
<g fill="#17becf">
<circle cx="404.9" cy="251.1" r="2.65"/>
</g>
<g fill="#bcbd22">
<circle cx="360.3" cy="296.9" r="2.65"/>
<circle cx="419.6" cy="239.8" r="2.65"/>
</g>
<g fill="#e377c2">
<circle cx="431.8" cy="235.4" r="2.65"/>
</g>
<g fill="#7f7f7f">
<circle cx="421.5" cy="237.4" r="2.65"/>
</g>
<g fill="#17becf">
<circle cx="417.8" cy="258.7" r="2.65"/>
</g>
<g fill="#9467bd">
<circle cx="325.6" cy="321.7" r="2.65"/>
<circle cx="316.0" cy="331.2" r="2.65"/>
<circle cx="322.2" cy="328.2" r="2.65"/>
<circle cx="322.3" cy="331.7" r="2.65"/>
<circle cx="318.8" cy="332.7" r="2.65"/>
<circle cx="320.4" cy="336.4" r="2.65"/>
<circle cx="325.2" cy="328.0" r="2.65"/>
<circle cx="325.0" cy="334.3" r="2.65"/>
<circle cx="318.9" cy="323.0" r="2.65"/>
<circle cx="317.2" cy="335.9" r="2.65"/>
<circle cx="323.8" cy="325.2" r="2.65"/>
<circle cx="319.6" cy="329.5" r="2.65"/>
<circle cx="317.0" cy="326.2" r="2.65"/>
<circle cx="316.7" cy="321.5" r="2.65"/>
</g>
<g fill="#e377c2">
<circle cx="322.5" cy="318.0" r="2.65"/>
<circle cx="316.6" cy="312.5" r="2.65"/>
<circle cx="316.5" cy="320.0" r="2.65"/>
<circle cx="319.1" cy="320.9" r="2.65"/>
<circle cx="324.7" cy="312.5" r="2.65"/>
<circle cx="325.9" cy="316.6" r="2.65"/>
</g>
<g fill="#bcbd22">
<circle cx="338.0" cy="317.1" r="2.65"/>
<circle cx="334.4" cy="321.4" r="2.65"/>
<circle cx="338.1" cy="314.3" r="2.65"/>
<circle cx="331.2" cy="317.0" r="2.65"/>
<circle cx="329.7" cy="312.9" r="2.65"/>
<circle cx="324.1" cy="322.5" r="2.65"/>
<circle cx="328.1" cy="319.9" r="2.65"/>
<circle cx="334.4" cy="318.2" r="2.65"/>
<circle cx="326.0" cy="313.8" r="2.65"/>
<circle cx="327.7" cy="315.6" r="2.65"/>
<circle cx="337.8" cy="308.5" r="2.65"/>
<circle cx="323.8" cy="319.5" r="2.65"/>
<circle cx="330.4" cy="308.4" r="2.65"/>
<circle cx="332.1" cy="321.5" r="2.65"/>
<circle cx="325.4" cy="316.5" r="2.65"/>
<circle cx="334.6" cy="315.3" r="2.65"/>
<circle cx="335.0" cy="312.5" r="2.65"/>
<circle cx="337.1" cy="306.2" r="2.65"/>
</g>
<g fill="#7f7f7f">
<circle cx="346.5" cy="303.4" r="2.65"/>
<circle cx="345.8" cy="308.0" r="2.65"/>
<circle cx="341.2" cy="300.4" r="2.65"/>
<circle cx="337.2" cy="298.4" r="2.65"/>
<circle cx="343.0" cy="310.0" r="2.65"/>
<circle cx="345.2" cy="295.5" r="2.65"/>
<circle cx="348.6" cy="300.7" r="2.65"/>
<circle cx="334.1" cy="302.5" r="2.65"/>
<circle cx="351.8" cy="297.5" r="2.65"/>
<circle cx="336.5" cy="307.8" r="2.65"/>
<circle cx="352.0" cy="294.3" r="2.65"/>
<circle cx="338.0" cy="301.2" r="2.65"/>
<circle cx="340.4" cy="305.8" r="2.65"/>
<circle cx="342.7" cy="296.4" r="2.65"/>
<circle cx="344.1" cy="306.3" r="2.65"/>
<circle cx="347.5" cy="296.3" r="2.65"/>
<circle cx="351.1" cy="300.8" r="2.65"/>
<circle cx="337.4" cy="303.9" r="2.65"/>
<circle cx="339.8" cy="302.8" r="2.65"/>
<circle cx="340.2" cy="297.6" r="2.65"/>
<circle cx="344.7" cy="299.9" r="2.65"/>
<circle cx="335.1" cy="305.9" r="2.65"/>
<circle cx="340.1" cy="310.0" r="2.65"/>
</g>
<g fill="#9467bd">
<circle cx="330.6" cy="322.6" r="2.65"/>
<circle cx="340.9" cy="322.6" r="2.65"/>
<circle cx="336.0" cy="326.0" r="2.65"/>
</g>
<g fill="#7f7f7f">
<circle cx="334.7" cy="323.3" r="2.65"/>
</g>
<g fill="#1f77b4">
<circle cx="324.4" cy="336.3" r="2.65"/>
<circle cx="329.0" cy="301.0" r="2.65"/>
</g>
<g fill="#d62728">
<circle cx="327.8" cy="306.0" r="2.65"/>
<circle cx="338.8" cy="320.0" r="2.65"/>
<circle cx="325.0" cy="305.0" r="2.65"/>
</g>
<g fill="#e377c2">
<circle cx="344.3" cy="292.4" r="2.65"/>
<circle cx="347.0" cy="310.0" r="2.65"/>
<circle cx="341.0" cy="291.0" r="2.65"/>
</g>
<g fill="#bcbd22">
<circle cx="358.8" cy="297.1" r="2.65"/>
<circle cx="355.3" cy="303.6" r="2.65"/>
<circle cx="356.1" cy="294.1" r="2.65"/>
<circle cx="362.1" cy="296.3" r="2.65"/>
<circle cx="359.6" cy="301.4" r="2.65"/>
<circle cx="356.8" cy="298.2" r="2.65"/>
<circle cx="362.4" cy="298.9" r="2.65"/>
<circle cx="359.3" cy="293.6" r="2.65"/>
<circle cx="357.7" cy="303.6" r="2.65"/>
</g>
<g fill="#17becf">
<circle cx="365.6" cy="292.2" r="2.65"/>
<circle cx="370.0" cy="281.1" r="2.65"/>
<circle cx="372.6" cy="289.0" r="2.65"/>
<circle cx="366.6" cy="282.0" r="2.65"/>
<circle cx="382.6" cy="287.1" r="2.65"/>
<circle cx="384.8" cy="276.9" r="2.65"/>
<circle cx="358.4" cy="293.0" r="2.65"/>
<circle cx="367.9" cy="287.4" r="2.65"/>
<circle cx="374.9" cy="280.2" r="2.65"/>
<circle cx="381.7" cy="281.8" r="2.65"/>
<circle cx="365.7" cy="284.6" r="2.65"/>
<circle cx="382.2" cy="278.9" r="2.65"/>
<circle cx="372.1" cy="291.8" r="2.65"/>
<circle cx="378.7" cy="286.3" r="2.65"/>
<circle cx="385.8" cy="279.3" r="2.65"/>
<circle cx="367.0" cy="290.1" r="2.65"/>
<circle cx="373.1" cy="284.5" r="2.65"/>
<circle cx="370.4" cy="284.6" r="2.65"/>
<circle cx="369.1" cy="291.2" r="2.65"/>
<circle cx="363.2" cy="288.6" r="2.65"/>
<circle cx="359.3" cy="295.1" r="2.65"/>
<circle cx="371.4" cy="286.9" r="2.65"/>
<circle cx="359.9" cy="289.6" r="2.65"/>
<circle cx="385.0" cy="283.2" r="2.65"/>
<circle cx="364.9" cy="286.9" r="2.65"/>
<circle cx="379.3" cy="279.5" r="2.65"/>
</g>
<g fill="#e377c2">
<circle cx="367.9" cy="281.9" r="2.65"/>
<circle cx="362.7" cy="279.5" r="2.65"/>
<circle cx="374.5" cy="273.1" r="2.65"/>
<circle cx="376.3" cy="269.3" r="2.65"/>
<circle cx="368.0" cy="278.3" r="2.65"/>
<circle cx="371.0" cy="280.7" r="2.65"/>
<circle cx="370.8" cy="273.6" r="2.65"/>
<circle cx="372.4" cy="276.5" r="2.65"/>
<circle cx="377.5" cy="272.0" r="2.65"/>
<circle cx="378.3" cy="275.1" r="2.65"/>
<circle cx="375.5" cy="275.7" r="2.65"/>
<circle cx="358.6" cy="283.7" r="2.65"/>
<circle cx="364.9" cy="278.9" r="2.65"/>
</g>
<g fill="#bcbd22">
<circle cx="385.9" cy="273.7" r="2.65"/>
<circle cx="390.8" cy="272.0" r="2.65"/>
<circle cx="385.3" cy="267.3" r="2.65"/>
<circle cx="379.4" cy="267.0" r="2.65"/>
<circle cx="387.9" cy="267.0" r="2.65"/>
<circle cx="382.3" cy="272.9" r="2.65"/>
<circle cx="379.2" cy="277.4" r="2.65"/>
<circle cx="381.8" cy="277.0" r="2.65"/>
<circle cx="389.5" cy="269.4" r="2.65"/>
<circle cx="384.5" cy="271.4" r="2.65"/>
<circle cx="385.4" cy="280.0" r="2.65"/>
<circle cx="385.5" cy="277.6" r="2.65"/>
<circle cx="388.0" cy="271.4" r="2.65"/>
</g>
<g fill="#ff7f0e">
<circle cx="369.0" cy="272.5" r="2.65"/>
<circle cx="355.0" cy="306.0" r="2.65"/>
<circle cx="387.5" cy="257.7" r="2.65"/>
<circle cx="400.0" cy="247.4" r="2.65"/>
</g>
<g fill="#9467bd">
<circle cx="364.9" cy="295.2" r="2.65"/>
<circle cx="388.9" cy="278.0" r="2.65"/>
<circle cx="410.9" cy="240.6" r="2.65"/>
<circle cx="398.5" cy="251.6" r="2.65"/>
<circle cx="410.9" cy="268.0" r="2.65"/>
</g>
<g fill="#7f7f7f">
<circle cx="374.5" cy="276.7" r="2.65"/>
</g>
<g fill="#17becf">
<circle cx="385.6" cy="285.8" r="2.65"/>
<circle cx="384.9" cy="281.1" r="2.65"/>
<circle cx="384.3" cy="278.1" r="2.65"/>
<circle cx="382.9" cy="282.6" r="2.65"/>
<circle cx="381.2" cy="288.3" r="2.65"/>
</g>
<g fill="#e377c2">
<circle cx="393.1" cy="264.9" r="2.65"/>
<circle cx="390.4" cy="260.5" r="2.65"/>
<circle cx="390.5" cy="263.2" r="2.65"/>
<circle cx="387.2" cy="259.8" r="2.65"/>
<circle cx="393.4" cy="261.3" r="2.65"/>
<circle cx="388.3" cy="266.2" r="2.65"/>
</g>
<g fill="#9467bd">
<circle cx="398.6" cy="278.2" r="2.65"/>
<circle cx="394.4" cy="277.4" r="2.65"/>
<circle cx="396.1" cy="274.8" r="2.65"/>
<circle cx="400.6" cy="279.4" r="2.65"/>
<circle cx="392.4" cy="279.4" r="2.65"/>
</g>
<g fill="#17becf">
<circle cx="423.3" cy="245.7" r="2.65"/>
<circle cx="402.5" cy="267.6" r="2.65"/>
<circle cx="400.2" cy="271.0" r="2.65"/>
<circle cx="407.1" cy="266.2" r="2.65"/>
<circle cx="396.6" cy="263.1" r="2.65"/>
<circle cx="399.7" cy="264.4" r="2.65"/>
<circle cx="404.0" cy="256.1" r="2.65"/>
<circle cx="404.2" cy="263.2" r="2.65"/>
<circle cx="418.1" cy="252.1" r="2.65"/>
<circle cx="418.2" cy="259.8" r="2.65"/>
<circle cx="416.2" cy="246.0" r="2.65"/>
<circle cx="396.5" cy="272.5" r="2.65"/>
<circle cx="422.2" cy="256.3" r="2.65"/>
<circle cx="413.0" cy="251.5" r="2.65"/>
<circle cx="422.9" cy="243.0" r="2.65"/>
<circle cx="393.8" cy="266.3" r="2.65"/>
<circle cx="397.7" cy="269.3" r="2.65"/>
<circle cx="407.8" cy="251.4" r="2.65"/>
<circle cx="416.6" cy="249.3" r="2.65"/>
<circle cx="411.4" cy="258.5" r="2.65"/>
<circle cx="422.2" cy="248.5" r="2.65"/>
<circle cx="413.7" cy="262.6" r="2.65"/>
<circle cx="394.5" cy="270.9" r="2.65"/>
<circle cx="416.1" cy="253.4" r="2.65"/>
<circle cx="424.2" cy="253.2" r="2.65"/>
<circle cx="397.1" cy="267.0" r="2.65"/>
<circle cx="402.1" cy="261.7" r="2.65"/>
<circle cx="428.3" cy="244.3" r="2.65"/>
<circle cx="405.6" cy="269.0" r="2.65"/>
<circle cx="398.7" cy="261.1" r="2.65"/>
<circle cx="403.8" cy="270.6" r="2.65"/>
<circle cx="430.9" cy="243.7" r="2.65"/>
<circle cx="427.5" cy="252.9" r="2.65"/>
<circle cx="412.2" cy="254.7" r="2.65"/>
<circle cx="430.9" cy="248.2" r="2.65"/>
<circle cx="426.7" cy="249.5" r="2.65"/>
<circle cx="406.8" cy="253.8" r="2.65"/>
<circle cx="408.5" cy="258.0" r="2.65"/>
<circle cx="409.2" cy="253.7" r="2.65"/>
<circle cx="421.6" cy="251.3" r="2.65"/>
<circle cx="409.0" cy="263.0" r="2.65"/>
<circle cx="427.6" cy="247.2" r="2.65"/>
<circle cx="428.7" cy="241.3" r="2.65"/>
<circle cx="405.9" cy="260.1" r="2.65"/>
<circle cx="410.6" cy="265.6" r="2.65"/>
<circle cx="418.3" cy="254.8" r="2.65"/>
<circle cx="418.0" cy="257.4" r="2.65"/>
</g>
<g fill="#8c564b">
<circle cx="416.0" cy="251.5" r="2.65"/>
<circle cx="419.0" cy="246.7" r="2.65"/>
<circle cx="404.3" cy="252.7" r="2.65"/>
<circle cx="418.7" cy="253.9" r="2.65"/>
<circle cx="416.0" cy="247.8" r="2.65"/>
<circle cx="411.5" cy="250.4" r="2.65"/>
<circle cx="413.5" cy="255.3" r="2.65"/>
<circle cx="419.5" cy="249.1" r="2.65"/>
<circle cx="401.5" cy="247.0" r="2.65"/>
<circle cx="408.6" cy="249.6" r="2.65"/>
<circle cx="406.7" cy="247.0" r="2.65"/>
<circle cx="425.7" cy="240.3" r="2.65"/>
<circle cx="422.8" cy="236.5" r="2.65"/>
<circle cx="418.3" cy="236.2" r="2.65"/>
<circle cx="428.7" cy="236.3" r="2.65"/>
<circle cx="419.9" cy="239.6" r="2.65"/>
<circle cx="416.6" cy="233.2" r="2.65"/>
<circle cx="425.9" cy="233.4" r="2.65"/>
<circle cx="421.4" cy="234.5" r="2.65"/>
<circle cx="415.0" cy="235.0" r="2.65"/>
</g>
<g fill="#2ca02c">
<circle cx="416.3" cy="242.0" r="2.65"/>
<circle cx="404.0" cy="270.8" r="2.65"/>
<circle cx="404.0" cy="274.0" r="2.65"/>
</g>
<g fill="#7f7f7f">
<circle cx="411.6" cy="261.4" r="2.65"/>
<circle cx="422.6" cy="257.1" r="2.65"/>
<circle cx="415.5" cy="257.7" r="2.65"/>
<circle cx="420.0" cy="256.7" r="2.65"/>
<circle cx="413.1" cy="256.6" r="2.65"/>
<circle cx="412.9" cy="264.5" r="2.65"/>
<circle cx="420.8" cy="261.8" r="2.65"/>
<circle cx="433.5" cy="248.8" r="2.65"/>
<circle cx="430.8" cy="255.0" r="2.65"/>
</g>
<g fill="#bcbd22">
<circle cx="435.1" cy="249.2" r="2.65"/>
<circle cx="437.9" cy="233.0" r="2.65"/>
<circle cx="429.0" cy="246.4" r="2.65"/>
<circle cx="439.7" cy="238.9" r="2.65"/>
<circle cx="439.5" cy="242.8" r="2.65"/>
<circle cx="434.0" cy="242.2" r="2.65"/>
<circle cx="433.1" cy="253.0" r="2.65"/>
<circle cx="434.2" cy="246.9" r="2.65"/>
<circle cx="427.1" cy="248.7" r="2.65"/>
<circle cx="429.7" cy="250.7" r="2.65"/>
<circle cx="439.2" cy="245.9" r="2.65"/>
<circle cx="431.8" cy="243.0" r="2.65"/>
<circle cx="440.4" cy="233.9" r="2.65"/>
<circle cx="432.2" cy="250.9" r="2.65"/>
<circle cx="427.5" cy="242.9" r="2.65"/>
<circle cx="436.9" cy="246.8" r="2.65"/>
<circle cx="436.5" cy="235.7" r="2.65"/>
<circle cx="429.3" cy="238.1" r="2.65"/>
</g>
<g fill="#d62728">
<circle cx="406.7" cy="266.0" r="2.65"/>
<circle cx="393.7" cy="279.0" r="2.65"/>
</g>
<line x1="267.1" y1="363.5" x2="466.1" y2="213.1" stroke="#000" stroke-width="1.55"/>
<path d="M267.1 213.1V363.5H466.1" fill="none" stroke="#000" stroke-width="1.5"/>
<line x1="267.1" y1="363.5" x2="267.1" y2="367.0" stroke="#000" stroke-width="1.1"/>
<line x1="263.6" y1="363.5" x2="267.1" y2="363.5" stroke="#000" stroke-width="1.1"/>
<line x1="310.6" y1="363.5" x2="310.6" y2="367.0" stroke="#000" stroke-width="1.1"/>
<line x1="263.6" y1="330.6" x2="267.1" y2="330.6" stroke="#000" stroke-width="1.1"/>
<line x1="354.1" y1="363.5" x2="354.1" y2="367.0" stroke="#000" stroke-width="1.1"/>
<line x1="263.6" y1="297.7" x2="267.1" y2="297.7" stroke="#000" stroke-width="1.1"/>
<line x1="397.6" y1="363.5" x2="397.6" y2="367.0" stroke="#000" stroke-width="1.1"/>
<line x1="263.6" y1="264.9" x2="267.1" y2="264.9" stroke="#000" stroke-width="1.1"/>
<line x1="441.1" y1="363.5" x2="441.1" y2="367.0" stroke="#000" stroke-width="1.1"/>
<line x1="263.6" y1="232.0" x2="267.1" y2="232.0" stroke="#000" stroke-width="1.1"/>
<rect x="273.2" y="211.3" width="112.3" height="14.9" fill="#fff" stroke="#b3d9f3" stroke-width="1"/>
<text x="329.4" y="222.9" text-anchor="middle" class="mp" textLength="107.4" lengthAdjust="spacing">MAPE: 5.16 ± 1.60%</text>
<g fill="#7f7f7f">
<circle cx="592.9" cy="281.8" r="2.65"/>
</g>
<g fill="#bcbd22">
<circle cx="609.3" cy="259.5" r="2.65"/>
</g>
<g fill="#8c564b">
<circle cx="585.1" cy="278.5" r="2.65"/>
</g>
<g fill="#bcbd22">
<circle cx="566.8" cy="299.2" r="2.65"/>
</g>
<g fill="#7f7f7f">
<circle cx="538.4" cy="317.3" r="2.65"/>
</g>
<g fill="#8c564b">
<circle cx="646.5" cy="238.1" r="2.65"/>
</g>
<g fill="#7f7f7f">
<circle cx="574.7" cy="290.4" r="2.65"/>
</g>
<g fill="#ff7f0e">
<circle cx="560.2" cy="304.8" r="2.65"/>
</g>
<g fill="#7f7f7f">
<circle cx="630.5" cy="257.2" r="2.65"/>
</g>
<g fill="#8c564b">
<circle cx="601.1" cy="274.7" r="2.65"/>
</g>
<g fill="#7f7f7f">
<circle cx="584.9" cy="283.3" r="2.65"/>
<circle cx="539.4" cy="325.8" r="2.65"/>
</g>
<g fill="#d62728">
<circle cx="612.9" cy="260.7" r="2.65"/>
</g>
<g fill="#bcbd22">
<circle cx="580.5" cy="284.5" r="2.65"/>
</g>
<g fill="#17becf">
<circle cx="532.5" cy="329.5" r="2.65"/>
</g>
<g fill="#d62728">
<circle cx="577.2" cy="288.3" r="2.65"/>
</g>
<g fill="#e377c2">
<circle cx="641.8" cy="243.8" r="2.65"/>
</g>
<g fill="#7f7f7f">
<circle cx="614.5" cy="269.3" r="2.65"/>
</g>
<g fill="#e377c2">
<circle cx="578.2" cy="294.4" r="2.65"/>
</g>
<g fill="#d62728">
<circle cx="553.5" cy="308.7" r="2.65"/>
</g>
<g fill="#e377c2">
<circle cx="590.1" cy="282.9" r="2.65"/>
</g>
<g fill="#bcbd22">
<circle cx="574.5" cy="285.8" r="2.65"/>
<circle cx="646.8" cy="242.5" r="2.65"/>
</g>
<g fill="#17becf">
<circle cx="563.6" cy="297.3" r="2.65"/>
<circle cx="544.6" cy="314.6" r="2.65"/>
</g>
<g fill="#bcbd22">
<circle cx="552.3" cy="311.6" r="2.65"/>
</g>
<g fill="#ff7f0e">
<circle cx="642.8" cy="239.5" r="2.65"/>
</g>
<g fill="#7f7f7f">
<circle cx="609.2" cy="266.8" r="2.65"/>
</g>
<g fill="#bcbd22">
<circle cx="620.1" cy="260.5" r="2.65"/>
</g>
<g fill="#7f7f7f">
<circle cx="606.1" cy="271.3" r="2.65"/>
</g>
<g fill="#e377c2">
<circle cx="553.6" cy="314.7" r="2.65"/>
<circle cx="580.1" cy="289.0" r="2.65"/>
</g>
<g fill="#8c564b">
<circle cx="607.8" cy="263.1" r="2.65"/>
<circle cx="569.5" cy="295.5" r="2.65"/>
<circle cx="632.4" cy="245.7" r="2.65"/>
</g>
<g fill="#7f7f7f">
<circle cx="614.4" cy="262.7" r="2.65"/>
</g>
<g fill="#d62728">
<circle cx="547.0" cy="316.3" r="2.65"/>
</g>
<g fill="#e377c2">
<circle cx="648.6" cy="235.7" r="2.65"/>
</g>
<g fill="#bcbd22">
<circle cx="641.2" cy="246.7" r="2.65"/>
</g>
<g fill="#e377c2">
<circle cx="594.9" cy="284.5" r="2.65"/>
</g>
<g fill="#7f7f7f">
<circle cx="592.1" cy="279.7" r="2.65"/>
<circle cx="637.5" cy="251.4" r="2.65"/>
<circle cx="560.7" cy="301.9" r="2.65"/>
</g>
<g fill="#bcbd22">
<circle cx="593.9" cy="275.9" r="2.65"/>
<circle cx="552.0" cy="304.1" r="2.65"/>
</g>
<g fill="#7f7f7f">
<circle cx="624.2" cy="259.6" r="2.65"/>
</g>
<g fill="#17becf">
<circle cx="532.6" cy="318.9" r="2.65"/>
</g>
<g fill="#ff7f0e">
<circle cx="630.2" cy="244.8" r="2.65"/>
</g>
<g fill="#bcbd22">
<circle cx="566.9" cy="304.5" r="2.65"/>
</g>
<g fill="#7f7f7f">
<circle cx="619.5" cy="263.3" r="2.65"/>
</g>
<g fill="#bcbd22">
<circle cx="589.3" cy="275.2" r="2.65"/>
</g>
<g fill="#e377c2">
<circle cx="571.6" cy="293.5" r="2.65"/>
</g>
<g fill="#bcbd22">
<circle cx="628.6" cy="247.7" r="2.65"/>
</g>
<g fill="#7f7f7f">
<circle cx="563.7" cy="302.7" r="2.65"/>
</g>
<g fill="#e377c2">
<circle cx="550.8" cy="314.6" r="2.65"/>
</g>
<g fill="#9467bd">
<circle cx="556.1" cy="301.5" r="2.65"/>
</g>
<g fill="#e377c2">
<circle cx="573.4" cy="298.6" r="2.65"/>
</g>
<g fill="#bcbd22">
<circle cx="566.7" cy="292.1" r="2.65"/>
</g>
<g fill="#d62728">
<circle cx="649.7" cy="241.2" r="2.65"/>
</g>
<g fill="#bcbd22">
<circle cx="560.4" cy="307.7" r="2.65"/>
</g>
<g fill="#ff7f0e">
<circle cx="593.9" cy="271.4" r="2.65"/>
</g>
<g fill="#e377c2">
<circle cx="544.9" cy="310.4" r="2.65"/>
</g>
<g fill="#17becf">
<circle cx="600.0" cy="278.7" r="2.65"/>
</g>
<g fill="#e377c2">
<circle cx="632.8" cy="251.5" r="2.65"/>
</g>
<g fill="#7f7f7f">
<circle cx="581.7" cy="293.4" r="2.65"/>
<circle cx="629.3" cy="251.4" r="2.65"/>
</g>
<g fill="#bcbd22">
<circle cx="630.5" cy="253.6" r="2.65"/>
</g>
<g fill="#7f7f7f">
<circle cx="536.5" cy="319.1" r="2.65"/>
<circle cx="534.2" cy="320.8" r="2.65"/>
</g>
<g fill="#8c564b">
<circle cx="627.3" cy="258.5" r="2.65"/>
</g>
<g fill="#7f7f7f">
<circle cx="621.3" cy="250.8" r="2.65"/>
</g>
<g fill="#ff7f0e">
<circle cx="545.3" cy="318.5" r="2.65"/>
</g>
<g fill="#d62728">
<circle cx="541.2" cy="320.7" r="2.65"/>
</g>
<g fill="#e377c2">
<circle cx="635.6" cy="248.8" r="2.65"/>
<circle cx="608.3" cy="273.9" r="2.65"/>
<circle cx="590.2" cy="286.1" r="2.65"/>
</g>
<g fill="#17becf">
<circle cx="560.9" cy="296.8" r="2.65"/>
<circle cx="582.6" cy="281.6" r="2.65"/>
</g>
<g fill="#7f7f7f">
<circle cx="548.4" cy="318.6" r="2.65"/>
</g>
<g fill="#9467bd">
<circle cx="602.5" cy="267.3" r="2.65"/>
</g>
<g fill="#e377c2">
<circle cx="592.0" cy="274.1" r="2.65"/>
</g>
<g fill="#d62728">
<circle cx="564.5" cy="300.5" r="2.65"/>
</g>
<g fill="#9467bd">
<circle cx="625.4" cy="251.0" r="2.65"/>
</g>
<g fill="#7f7f7f">
<circle cx="534.7" cy="327.9" r="2.65"/>
</g>
<g fill="#8c564b">
<circle cx="531.2" cy="326.0" r="2.65"/>
</g>
<g fill="#7f7f7f">
<circle cx="612.1" cy="267.7" r="2.65"/>
</g>
<g fill="#bcbd22">
<circle cx="597.6" cy="269.9" r="2.65"/>
</g>
<g fill="#ff7f0e">
<circle cx="646.7" cy="233.9" r="2.65"/>
</g>
<g fill="#e377c2">
<circle cx="558.0" cy="311.5" r="2.65"/>
</g>
<g fill="#d62728">
<circle cx="644.6" cy="243.5" r="2.65"/>
<circle cx="559.4" cy="298.6" r="2.65"/>
</g>
<g fill="#e377c2">
<circle cx="617.3" cy="253.7" r="2.65"/>
</g>
<g fill="#7f7f7f">
<circle cx="641.7" cy="235.4" r="2.65"/>
</g>
<g fill="#8c564b">
<circle cx="586.1" cy="288.3" r="2.65"/>
</g>
<g fill="#bcbd22">
<circle cx="649.8" cy="230.3" r="2.65"/>
</g>
<g fill="#ff7f0e">
<circle cx="570.5" cy="302.7" r="2.65"/>
</g>
<g fill="#17becf">
<circle cx="619.7" cy="255.8" r="2.65"/>
<circle cx="644.0" cy="246.4" r="2.65"/>
</g>
<g fill="#bcbd22">
<circle cx="617.1" cy="264.0" r="2.65"/>
</g>
<g fill="#9467bd">
<circle cx="563.7" cy="307.5" r="2.65"/>
<circle cx="611.4" cy="258.0" r="2.65"/>
</g>
<g fill="#7f7f7f">
<circle cx="595.9" cy="281.5" r="2.65"/>
</g>
<g fill="#d62728">
<circle cx="532.7" cy="323.0" r="2.65"/>
</g>
<g fill="#9467bd">
<circle cx="545.2" cy="320.9" r="2.65"/>
</g>
<g fill="#17becf">
<circle cx="576.2" cy="284.0" r="2.65"/>
</g>
<g fill="#d62728">
<circle cx="548.5" cy="310.1" r="2.65"/>
</g>
<g fill="#7f7f7f">
<circle cx="638.3" cy="238.9" r="2.65"/>
</g>
<g fill="#9467bd">
<circle cx="536.5" cy="321.8" r="2.65"/>
<circle cx="533.7" cy="327.9" r="2.65"/>
<circle cx="530.0" cy="326.4" r="2.65"/>
<circle cx="532.1" cy="330.6" r="2.65"/>
<circle cx="529.4" cy="332.1" r="2.65"/>
<circle cx="538.5" cy="324.6" r="2.65"/>
<circle cx="535.0" cy="325.6" r="2.65"/>
<circle cx="534.2" cy="323.2" r="2.65"/>
</g>
<g fill="#e377c2">
<circle cx="536.8" cy="320.0" r="2.65"/>
<circle cx="530.9" cy="326.3" r="2.65"/>
<circle cx="538.2" cy="322.5" r="2.65"/>
<circle cx="533.6" cy="322.0" r="2.65"/>
<circle cx="540.4" cy="318.2" r="2.65"/>
<circle cx="536.1" cy="323.6" r="2.65"/>
<circle cx="530.7" cy="322.8" r="2.65"/>
</g>
<g fill="#bcbd22">
<circle cx="554.8" cy="315.9" r="2.65"/>
<circle cx="542.4" cy="311.5" r="2.65"/>
<circle cx="550.6" cy="317.7" r="2.65"/>
<circle cx="550.9" cy="313.5" r="2.65"/>
<circle cx="540.3" cy="315.1" r="2.65"/>
<circle cx="539.5" cy="322.1" r="2.65"/>
<circle cx="545.2" cy="316.9" r="2.65"/>
<circle cx="552.6" cy="307.7" r="2.65"/>
<circle cx="538.4" cy="319.0" r="2.65"/>
<circle cx="542.8" cy="317.9" r="2.65"/>
<circle cx="554.7" cy="306.2" r="2.65"/>
<circle cx="554.8" cy="308.7" r="2.65"/>
<circle cx="536.2" cy="316.8" r="2.65"/>
<circle cx="542.5" cy="321.6" r="2.65"/>
<circle cx="548.0" cy="310.7" r="2.65"/>
<circle cx="537.4" cy="329.3" r="2.65"/>
<circle cx="549.7" cy="307.8" r="2.65"/>
<circle cx="539.8" cy="328.3" r="2.65"/>
<circle cx="536.7" cy="325.0" r="2.65"/>
<circle cx="547.0" cy="321.0" r="2.65"/>
<circle cx="555.7" cy="312.3" r="2.65"/>
</g>
<g fill="#7f7f7f">
<circle cx="563.7" cy="293.5" r="2.65"/>
<circle cx="558.5" cy="303.5" r="2.65"/>
<circle cx="555.4" cy="305.4" r="2.65"/>
<circle cx="559.7" cy="298.9" r="2.65"/>
<circle cx="565.4" cy="305.3" r="2.65"/>
<circle cx="564.0" cy="300.2" r="2.65"/>
<circle cx="565.8" cy="301.8" r="2.65"/>
<circle cx="553.4" cy="301.9" r="2.65"/>
<circle cx="565.8" cy="298.5" r="2.65"/>
<circle cx="563.1" cy="306.5" r="2.65"/>
<circle cx="551.4" cy="305.9" r="2.65"/>
<circle cx="558.3" cy="305.9" r="2.65"/>
<circle cx="564.1" cy="296.5" r="2.65"/>
<circle cx="552.0" cy="312.7" r="2.65"/>
<circle cx="555.0" cy="300.2" r="2.65"/>
<circle cx="560.7" cy="304.2" r="2.65"/>
</g>
<g fill="#d62728">
<circle cx="546.7" cy="306.2" r="2.65"/>
<circle cx="550.6" cy="303.4" r="2.65"/>
<circle cx="580.7" cy="296.7" r="2.65"/>
<circle cx="544.0" cy="309.0" r="2.65"/>
</g>
<g fill="#1f77b4">
<circle cx="539.5" cy="309.0" r="2.65"/>
<circle cx="537.0" cy="311.0" r="2.65"/>
</g>
<g fill="#ff7f0e">
<circle cx="563.4" cy="293.4" r="2.65"/>
<circle cx="555.0" cy="318.0" r="2.65"/>
<circle cx="560.0" cy="295.0" r="2.65"/>
</g>
<g fill="#bcbd22">
<circle cx="568.5" cy="302.3" r="2.65"/>
<circle cx="598.5" cy="281.7" r="2.65"/>
<circle cx="566.0" cy="305.0" r="2.65"/>
</g>
<g fill="#7f7f7f">
<circle cx="560.7" cy="316.2" r="2.65"/>
<circle cx="586.8" cy="292.3" r="2.65"/>
<circle cx="594.0" cy="290.0" r="2.65"/>
</g>
<g fill="#17becf">
<circle cx="587.1" cy="275.8" r="2.65"/>
<circle cx="586.1" cy="286.1" r="2.65"/>
<circle cx="584.0" cy="283.5" r="2.65"/>
<circle cx="590.7" cy="276.0" r="2.65"/>
<circle cx="570.0" cy="289.0" r="2.65"/>
<circle cx="582.8" cy="280.2" r="2.65"/>
<circle cx="581.9" cy="289.5" r="2.65"/>
<circle cx="569.5" cy="294.6" r="2.65"/>
<circle cx="586.8" cy="283.2" r="2.65"/>
<circle cx="596.5" cy="273.0" r="2.65"/>
<circle cx="594.0" cy="277.4" r="2.65"/>
<circle cx="570.8" cy="299.8" r="2.65"/>
<circle cx="586.8" cy="279.3" r="2.65"/>
<circle cx="596.5" cy="270.5" r="2.65"/>
<circle cx="574.8" cy="292.5" r="2.65"/>
<circle cx="581.5" cy="292.6" r="2.65"/>
<circle cx="576.1" cy="290.4" r="2.65"/>
<circle cx="578.9" cy="285.7" r="2.65"/>
<circle cx="590.1" cy="283.1" r="2.65"/>
<circle cx="591.6" cy="272.8" r="2.65"/>
<circle cx="579.6" cy="291.0" r="2.65"/>
<circle cx="594.4" cy="280.3" r="2.65"/>
<circle cx="573.0" cy="287.7" r="2.65"/>
<circle cx="580.6" cy="281.5" r="2.65"/>
<circle cx="584.2" cy="278.3" r="2.65"/>
<circle cx="586.6" cy="289.0" r="2.65"/>
<circle cx="571.0" cy="292.3" r="2.65"/>
<circle cx="575.2" cy="295.5" r="2.65"/>
<circle cx="594.8" cy="274.6" r="2.65"/>
<circle cx="575.8" cy="285.1" r="2.65"/>
<circle cx="568.6" cy="291.5" r="2.65"/>
<circle cx="589.0" cy="280.9" r="2.65"/>
<circle cx="577.3" cy="282.6" r="2.65"/>
<circle cx="591.3" cy="285.1" r="2.65"/>
</g>
<g fill="#e377c2">
<circle cx="574.0" cy="284.0" r="2.65"/>
<circle cx="590.7" cy="293.4" r="2.65"/>
<circle cx="589.6" cy="271.0" r="2.65"/>
<circle cx="571.0" cy="286.0" r="2.65"/>
</g>
<g fill="#9467bd">
<circle cx="585.2" cy="276.7" r="2.65"/>
<circle cx="558.4" cy="296.7" r="2.65"/>
</g>
<g fill="#17becf">
<circle cx="589.6" cy="282.4" r="2.65"/>
<circle cx="590.7" cy="278.6" r="2.65"/>
<circle cx="594.1" cy="282.4" r="2.65"/>
<circle cx="595.7" cy="278.5" r="2.65"/>
<circle cx="586.4" cy="283.4" r="2.65"/>
<circle cx="586.7" cy="287.1" r="2.65"/>
<circle cx="596.9" cy="275.4" r="2.65"/>
<circle cx="593.1" cy="278.4" r="2.65"/>
</g>
<g fill="#e377c2">
<circle cx="590.6" cy="271.3" r="2.65"/>
<circle cx="604.0" cy="268.0" r="2.65"/>
<circle cx="604.5" cy="275.7" r="2.65"/>
</g>
<g fill="#9467bd">
<circle cx="596.7" cy="268.0" r="2.65"/>
<circle cx="605.0" cy="265.0" r="2.65"/>
<circle cx="626.2" cy="261.2" r="2.65"/>
<circle cx="635.7" cy="255.7" r="2.65"/>
</g>
<g fill="#bcbd22">
<circle cx="599.5" cy="276.8" r="2.65"/>
<circle cx="598.4" cy="281.3" r="2.65"/>
</g>
<g fill="#ff7f0e">
<circle cx="614.0" cy="272.4" r="2.65"/>
<circle cx="603.4" cy="280.7" r="2.65"/>
</g>
<g fill="#17becf">
<circle cx="619.6" cy="255.4" r="2.65"/>
<circle cx="619.7" cy="251.0" r="2.65"/>
<circle cx="622.8" cy="253.8" r="2.65"/>
<circle cx="617.5" cy="252.9" r="2.65"/>
<circle cx="612.2" cy="267.7" r="2.65"/>
<circle cx="625.5" cy="255.7" r="2.65"/>
<circle cx="607.2" cy="265.4" r="2.65"/>
<circle cx="607.0" cy="271.2" r="2.65"/>
<circle cx="616.9" cy="259.4" r="2.65"/>
<circle cx="617.1" cy="264.1" r="2.65"/>
<circle cx="621.8" cy="258.0" r="2.65"/>
<circle cx="624.7" cy="251.7" r="2.65"/>
<circle cx="619.5" cy="262.2" r="2.65"/>
<circle cx="611.6" cy="260.8" r="2.65"/>
<circle cx="609.6" cy="266.2" r="2.65"/>
<circle cx="613.8" cy="263.3" r="2.65"/>
<circle cx="614.2" cy="257.1" r="2.65"/>
<circle cx="608.6" cy="262.6" r="2.65"/>
<circle cx="610.8" cy="258.1" r="2.65"/>
<circle cx="628.2" cy="243.7" r="2.65"/>
<circle cx="626.7" cy="251.4" r="2.65"/>
<circle cx="642.1" cy="237.2" r="2.65"/>
<circle cx="633.4" cy="245.2" r="2.65"/>
<circle cx="634.2" cy="249.8" r="2.65"/>
<circle cx="634.4" cy="239.6" r="2.65"/>
<circle cx="627.9" cy="253.8" r="2.65"/>
<circle cx="638.3" cy="247.1" r="2.65"/>
<circle cx="643.2" cy="240.6" r="2.65"/>
<circle cx="638.8" cy="238.9" r="2.65"/>
<circle cx="624.5" cy="253.9" r="2.65"/>
<circle cx="640.2" cy="243.0" r="2.65"/>
<circle cx="636.7" cy="249.0" r="2.65"/>
<circle cx="638.9" cy="236.2" r="2.65"/>
<circle cx="642.8" cy="235.0" r="2.65"/>
<circle cx="626.4" cy="257.7" r="2.65"/>
<circle cx="636.5" cy="238.4" r="2.65"/>
<circle cx="626.4" cy="245.3" r="2.65"/>
<circle cx="628.8" cy="256.0" r="2.65"/>
<circle cx="630.5" cy="249.1" r="2.65"/>
<circle cx="627.8" cy="249.1" r="2.65"/>
<circle cx="636.7" cy="243.1" r="2.65"/>
<circle cx="635.4" cy="246.8" r="2.65"/>
</g>
<g fill="#1f77b4">
<circle cx="618.4" cy="274.0" r="2.65"/>
<circle cx="623.4" cy="272.4" r="2.65"/>
</g>
<g fill="#d62728">
<circle cx="620.0" cy="268.0" r="2.65"/>
<circle cx="620.5" cy="265.8" r="2.65"/>
</g>
<g fill="#8c564b">
<circle cx="608.4" cy="260.7" r="2.65"/>
<circle cx="615.0" cy="268.0" r="2.65"/>
<circle cx="622.9" cy="262.9" r="2.65"/>
<circle cx="631.8" cy="254.5" r="2.65"/>
</g>
<g fill="#bcbd22">
<circle cx="651.8" cy="239.6" r="2.65"/>
<circle cx="645.3" cy="240.8" r="2.65"/>
<circle cx="651.9" cy="236.4" r="2.65"/>
<circle cx="641.7" cy="246.8" r="2.65"/>
<circle cx="644.2" cy="235.6" r="2.65"/>
<circle cx="638.3" cy="245.6" r="2.65"/>
<circle cx="653.0" cy="228.5" r="2.65"/>
<circle cx="654.2" cy="233.1" r="2.65"/>
<circle cx="640.0" cy="242.0" r="2.65"/>
<circle cx="637.5" cy="243.0" r="2.65"/>
<circle cx="643.6" cy="244.2" r="2.65"/>
<circle cx="649.1" cy="230.0" r="2.65"/>
<circle cx="642.2" cy="237.4" r="2.65"/>
<circle cx="636.6" cy="247.7" r="2.65"/>
<circle cx="649.5" cy="241.6" r="2.65"/>
<circle cx="646.8" cy="244.3" r="2.65"/>
<circle cx="638.4" cy="250.1" r="2.65"/>
<circle cx="638.5" cy="239.1" r="2.65"/>
<circle cx="647.4" cy="234.7" r="2.65"/>
<circle cx="653.9" cy="238.1" r="2.65"/>
</g>
<g fill="#7f7f7f">
<circle cx="635.7" cy="234.0" r="2.65"/>
<circle cx="647.4" cy="230.6" r="2.65"/>
<circle cx="648.0" cy="247.3" r="2.65"/>
<circle cx="649.6" cy="242.8" r="2.65"/>
</g>
<line x1="481.5" y1="363.5" x2="680.5" y2="213.1" stroke="#000" stroke-width="1.55"/>
<path d="M481.5 213.1V363.5H680.5" fill="none" stroke="#000" stroke-width="1.5"/>
<line x1="481.5" y1="363.5" x2="481.5" y2="367.0" stroke="#000" stroke-width="1.1"/>
<line x1="478.0" y1="363.5" x2="481.5" y2="363.5" stroke="#000" stroke-width="1.1"/>
<line x1="525.0" y1="363.5" x2="525.0" y2="367.0" stroke="#000" stroke-width="1.1"/>
<line x1="478.0" y1="330.6" x2="481.5" y2="330.6" stroke="#000" stroke-width="1.1"/>
<line x1="568.5" y1="363.5" x2="568.5" y2="367.0" stroke="#000" stroke-width="1.1"/>
<line x1="478.0" y1="297.7" x2="481.5" y2="297.7" stroke="#000" stroke-width="1.1"/>
<line x1="612.0" y1="363.5" x2="612.0" y2="367.0" stroke="#000" stroke-width="1.1"/>
<line x1="478.0" y1="264.9" x2="481.5" y2="264.9" stroke="#000" stroke-width="1.1"/>
<line x1="655.5" y1="363.5" x2="655.5" y2="367.0" stroke="#000" stroke-width="1.1"/>
<line x1="478.0" y1="232.0" x2="481.5" y2="232.0" stroke="#000" stroke-width="1.1"/>
<rect x="487.6" y="211.3" width="121.1" height="14.9" fill="#fff" stroke="#b3d9f3" stroke-width="1"/>
<text x="548.1" y="222.9" text-anchor="middle" class="mp" textLength="114.3" lengthAdjust="spacing">MAPE: 3.69 ± 0.882%</text>
<g fill="#9467bd">
<circle cx="101.4" cy="497.2" r="2.65"/>
<circle cx="101.7" cy="501.3" r="2.65"/>
<circle cx="101.6" cy="505.1" r="2.65"/>
<circle cx="100.7" cy="508.7" r="2.65"/>
<circle cx="101.8" cy="512.7" r="2.65"/>
<circle cx="106.2" cy="488.7" r="2.65"/>
<circle cx="105.7" cy="492.7" r="2.65"/>
<circle cx="105.8" cy="496.9" r="2.65"/>
<circle cx="105.1" cy="500.5" r="2.65"/>
<circle cx="105.4" cy="504.9" r="2.65"/>
<circle cx="106.0" cy="508.2" r="2.65"/>
<circle cx="106.1" cy="512.1" r="2.65"/>
<circle cx="105.8" cy="516.0" r="2.65"/>
<circle cx="105.1" cy="520.5" r="2.65"/>
<circle cx="109.5" cy="487.8" r="2.65"/>
<circle cx="110.4" cy="492.2" r="2.65"/>
<circle cx="109.5" cy="496.2" r="2.65"/>
<circle cx="109.8" cy="499.8" r="2.65"/>
<circle cx="109.4" cy="504.0" r="2.65"/>
<circle cx="110.0" cy="507.9" r="2.65"/>
<circle cx="113.5" cy="487.8" r="2.65"/>
<circle cx="112.8" cy="491.6" r="2.65"/>
<circle cx="112.6" cy="495.5" r="2.65"/>
<circle cx="112.8" cy="499.8" r="2.65"/>
</g>
<g fill="#1f77b4">
<circle cx="100.7" cy="488.6" r="2.65"/>
<circle cx="100.7" cy="492.0" r="2.65"/>
</g>
<g fill="#bcbd22">
<circle cx="129.0" cy="473.5" r="2.65"/>
<circle cx="135.1" cy="460.9" r="2.65"/>
<circle cx="117.3" cy="476.6" r="2.65"/>
<circle cx="122.7" cy="465.3" r="2.65"/>
<circle cx="132.3" cy="460.6" r="2.65"/>
<circle cx="134.2" cy="468.3" r="2.65"/>
<circle cx="117.4" cy="478.9" r="2.65"/>
<circle cx="127.5" cy="458.0" r="2.65"/>
<circle cx="135.9" cy="456.3" r="2.65"/>
<circle cx="121.1" cy="471.3" r="2.65"/>
<circle cx="130.1" cy="469.1" r="2.65"/>
<circle cx="118.0" cy="465.8" r="2.65"/>
<circle cx="122.0" cy="474.7" r="2.65"/>
<circle cx="126.6" cy="460.3" r="2.65"/>
<circle cx="130.2" cy="462.6" r="2.65"/>
<circle cx="131.6" cy="464.7" r="2.65"/>
<circle cx="127.5" cy="466.4" r="2.65"/>
<circle cx="126.3" cy="468.9" r="2.65"/>
<circle cx="119.4" cy="475.1" r="2.65"/>
<circle cx="127.7" cy="478.7" r="2.65"/>
<circle cx="117.9" cy="470.1" r="2.65"/>
<circle cx="124.2" cy="467.5" r="2.65"/>
<circle cx="122.1" cy="461.1" r="2.65"/>
<circle cx="124.7" cy="463.7" r="2.65"/>
<circle cx="133.0" cy="471.0" r="2.65"/>
<circle cx="120.4" cy="479.3" r="2.65"/>
<circle cx="126.9" cy="475.2" r="2.65"/>
<circle cx="123.3" cy="471.9" r="2.65"/>
<circle cx="130.7" cy="457.2" r="2.65"/>
<circle cx="131.2" cy="474.6" r="2.65"/>
<circle cx="124.5" cy="458.1" r="2.65"/>
<circle cx="125.7" cy="472.1" r="2.65"/>
</g>
<g fill="#e377c2">
<circle cx="126.5" cy="466.5" r="2.65"/>
<circle cx="122.5" cy="467.9" r="2.65"/>
<circle cx="117.7" cy="467.6" r="2.65"/>
<circle cx="126.7" cy="470.9" r="2.65"/>
<circle cx="121.1" cy="463.6" r="2.65"/>
<circle cx="120.7" cy="473.8" r="2.65"/>
<circle cx="120.3" cy="469.7" r="2.65"/>
<circle cx="117.8" cy="462.8" r="2.65"/>
</g>
<g fill="#9467bd">
<circle cx="123.8" cy="484.6" r="2.65"/>
<circle cx="136.6" cy="485.8" r="2.65"/>
<circle cx="123.8" cy="479.0" r="2.65"/>
<circle cx="139.2" cy="485.1" r="2.65"/>
<circle cx="128.8" cy="485.4" r="2.65"/>
<circle cx="130.9" cy="480.9" r="2.65"/>
<circle cx="139.3" cy="482.8" r="2.65"/>
<circle cx="140.4" cy="475.1" r="2.65"/>
<circle cx="134.0" cy="478.6" r="2.65"/>
<circle cx="121.4" cy="484.4" r="2.65"/>
<circle cx="123.5" cy="481.9" r="2.65"/>
<circle cx="134.9" cy="482.5" r="2.65"/>
<circle cx="127.5" cy="478.4" r="2.65"/>
<circle cx="132.9" cy="484.3" r="2.65"/>
<circle cx="137.5" cy="476.8" r="2.65"/>
<circle cx="131.0" cy="487.5" r="2.65"/>
</g>
<g fill="#d62728">
<circle cx="113.7" cy="478.9" r="2.65"/>
<circle cx="113.7" cy="482.0" r="2.65"/>
<circle cx="117.8" cy="487.0" r="2.65"/>
<circle cx="139.8" cy="450.4" r="2.65"/>
<circle cx="155.3" cy="464.2" r="2.65"/>
<circle cx="156.0" cy="460.2" r="2.65"/>
</g>
<g fill="#ff7f0e">
<circle cx="123.5" cy="492.0" r="2.65"/>
<circle cx="133.3" cy="483.0" r="2.65"/>
<circle cx="142.2" cy="446.3" r="2.65"/>
<circle cx="156.9" cy="437.3" r="2.65"/>
<circle cx="125.0" cy="489.0" r="2.65"/>
</g>
<g fill="#8c564b">
<circle cx="126.0" cy="481.3" r="2.65"/>
<circle cx="138.0" cy="473.0" r="2.65"/>
<circle cx="143.9" cy="470.0" r="2.65"/>
<circle cx="148.7" cy="465.0" r="2.65"/>
<circle cx="149.6" cy="468.3" r="2.65"/>
<circle cx="134.0" cy="476.0" r="2.65"/>
</g>
<g fill="#e377c2">
<circle cx="161.0" cy="468.3" r="2.65"/>
</g>
<g fill="#bcbd22">
<circle cx="147.6" cy="453.5" r="2.65"/>
<circle cx="172.1" cy="434.9" r="2.65"/>
<circle cx="150.2" cy="460.4" r="2.65"/>
<circle cx="155.2" cy="445.1" r="2.65"/>
<circle cx="156.0" cy="450.5" r="2.65"/>
<circle cx="174.6" cy="433.0" r="2.65"/>
<circle cx="150.5" cy="446.5" r="2.65"/>
<circle cx="153.5" cy="442.7" r="2.65"/>
<circle cx="151.5" cy="452.0" r="2.65"/>
<circle cx="162.6" cy="443.5" r="2.65"/>
<circle cx="170.1" cy="431.1" r="2.65"/>
<circle cx="167.2" cy="437.8" r="2.65"/>
<circle cx="146.8" cy="448.3" r="2.65"/>
<circle cx="157.9" cy="446.8" r="2.65"/>
<circle cx="155.4" cy="454.7" r="2.65"/>
<circle cx="156.5" cy="437.7" r="2.65"/>
<circle cx="172.3" cy="437.5" r="2.65"/>
<circle cx="170.1" cy="436.5" r="2.65"/>
<circle cx="173.6" cy="430.1" r="2.65"/>
<circle cx="165.0" cy="442.3" r="2.65"/>
<circle cx="145.0" cy="451.1" r="2.65"/>
<circle cx="147.7" cy="450.8" r="2.65"/>
<circle cx="145.0" cy="459.9" r="2.65"/>
<circle cx="167.4" cy="434.6" r="2.65"/>
<circle cx="160.2" cy="440.5" r="2.65"/>
<circle cx="151.0" cy="454.8" r="2.65"/>
<circle cx="149.2" cy="456.6" r="2.65"/>
<circle cx="147.5" cy="460.0" r="2.65"/>
<circle cx="151.8" cy="457.7" r="2.65"/>
<circle cx="160.9" cy="434.7" r="2.65"/>
<circle cx="163.0" cy="436.9" r="2.65"/>
<circle cx="143.3" cy="455.1" r="2.65"/>
<circle cx="142.6" cy="458.5" r="2.65"/>
<circle cx="145.6" cy="455.2" r="2.65"/>
<circle cx="160.6" cy="437.1" r="2.65"/>
<circle cx="163.8" cy="433.7" r="2.65"/>
<circle cx="167.8" cy="431.2" r="2.65"/>
<circle cx="154.1" cy="456.8" r="2.65"/>
</g>
<g fill="#17becf">
<circle cx="165.0" cy="455.0" r="2.65"/>
<circle cx="159.2" cy="455.7" r="2.65"/>
<circle cx="163.7" cy="449.3" r="2.65"/>
<circle cx="160.8" cy="451.0" r="2.65"/>
<circle cx="156.1" cy="458.3" r="2.65"/>
<circle cx="172.7" cy="447.9" r="2.65"/>
<circle cx="169.0" cy="449.5" r="2.65"/>
<circle cx="161.6" cy="454.4" r="2.65"/>
<circle cx="155.7" cy="453.6" r="2.65"/>
<circle cx="167.6" cy="446.7" r="2.65"/>
<circle cx="151.1" cy="455.0" r="2.65"/>
<circle cx="165.6" cy="452.6" r="2.65"/>
<circle cx="171.1" cy="446.2" r="2.65"/>
<circle cx="173.2" cy="451.5" r="2.65"/>
<circle cx="160.6" cy="447.5" r="2.65"/>
<circle cx="174.2" cy="454.0" r="2.65"/>
<circle cx="173.3" cy="441.3" r="2.65"/>
<circle cx="154.4" cy="449.5" r="2.65"/>
<circle cx="153.4" cy="451.6" r="2.65"/>
<circle cx="168.9" cy="456.2" r="2.65"/>
<circle cx="166.0" cy="457.3" r="2.65"/>
<circle cx="174.1" cy="444.1" r="2.65"/>
<circle cx="169.3" cy="442.8" r="2.65"/>
<circle cx="150.8" cy="458.8" r="2.65"/>
<circle cx="157.2" cy="448.0" r="2.65"/>
</g>
<g fill="#7f7f7f">
<circle cx="146.4" cy="462.2" r="2.65"/>
<circle cx="149.3" cy="459.5" r="2.65"/>
<circle cx="142.3" cy="464.3" r="2.65"/>
<circle cx="148.5" cy="463.6" r="2.65"/>
<circle cx="142.3" cy="459.8" r="2.65"/>
<circle cx="145.4" cy="456.4" r="2.65"/>
<circle cx="148.7" cy="454.8" r="2.65"/>
<circle cx="138.2" cy="466.0" r="2.65"/>
<circle cx="137.7" cy="463.4" r="2.65"/>
<circle cx="140.9" cy="457.0" r="2.65"/>
<circle cx="145.1" cy="464.9" r="2.65"/>
<circle cx="141.6" cy="467.0" r="2.65"/>
<circle cx="140.4" cy="461.5" r="2.65"/>
<circle cx="142.4" cy="454.3" r="2.65"/>
<circle cx="136.9" cy="458.7" r="2.65"/>
</g>
<g fill="#1f77b4">
<circle cx="163.4" cy="457.7" r="2.65"/>
<circle cx="160.0" cy="461.0" r="2.65"/>
</g>
<g fill="#bcbd22">
<circle cx="180.9" cy="425.3" r="2.65"/>
<circle cx="174.0" cy="434.7" r="2.65"/>
<circle cx="163.7" cy="429.2" r="2.65"/>
<circle cx="161.0" cy="432.6" r="2.65"/>
<circle cx="172.2" cy="423.9" r="2.65"/>
<circle cx="169.2" cy="432.3" r="2.65"/>
<circle cx="171.7" cy="436.9" r="2.65"/>
<circle cx="176.1" cy="421.1" r="2.65"/>
<circle cx="166.2" cy="431.6" r="2.65"/>
<circle cx="181.3" cy="430.7" r="2.65"/>
<circle cx="164.1" cy="433.6" r="2.65"/>
<circle cx="167.9" cy="428.5" r="2.65"/>
<circle cx="183.7" cy="423.4" r="2.65"/>
<circle cx="161.4" cy="436.1" r="2.65"/>
<circle cx="177.1" cy="436.6" r="2.65"/>
<circle cx="167.9" cy="439.5" r="2.65"/>
<circle cx="177.1" cy="433.3" r="2.65"/>
<circle cx="174.0" cy="427.5" r="2.65"/>
<circle cx="171.9" cy="433.5" r="2.65"/>
<circle cx="181.3" cy="433.3" r="2.65"/>
<circle cx="174.3" cy="431.2" r="2.65"/>
<circle cx="162.0" cy="440.9" r="2.65"/>
<circle cx="167.6" cy="437.2" r="2.65"/>
<circle cx="181.4" cy="422.1" r="2.65"/>
<circle cx="166.0" cy="423.6" r="2.65"/>
<circle cx="179.3" cy="429.2" r="2.65"/>
<circle cx="178.2" cy="422.8" r="2.65"/>
<circle cx="175.3" cy="438.2" r="2.65"/>
<circle cx="183.9" cy="431.6" r="2.65"/>
<circle cx="164.0" cy="437.5" r="2.65"/>
<circle cx="164.6" cy="426.3" r="2.65"/>
<circle cx="171.0" cy="430.8" r="2.65"/>
<circle cx="183.6" cy="429.0" r="2.65"/>
</g>
<g fill="#17becf">
<circle cx="164.8" cy="452.2" r="2.65"/>
<circle cx="165.9" cy="457.3" r="2.65"/>
<circle cx="173.0" cy="457.9" r="2.65"/>
<circle cx="166.2" cy="442.3" r="2.65"/>
<circle cx="174.5" cy="448.4" r="2.65"/>
<circle cx="173.4" cy="440.6" r="2.65"/>
<circle cx="160.9" cy="456.6" r="2.65"/>
<circle cx="161.6" cy="444.7" r="2.65"/>
<circle cx="172.2" cy="445.8" r="2.65"/>
<circle cx="172.4" cy="454.9" r="2.65"/>
<circle cx="174.8" cy="454.5" r="2.65"/>
<circle cx="161.5" cy="450.4" r="2.65"/>
<circle cx="172.2" cy="443.4" r="2.65"/>
<circle cx="170.4" cy="452.6" r="2.65"/>
<circle cx="169.7" cy="456.9" r="2.65"/>
<circle cx="169.6" cy="445.6" r="2.65"/>
<circle cx="164.7" cy="444.6" r="2.65"/>
<circle cx="169.6" cy="440.5" r="2.65"/>
<circle cx="170.2" cy="448.9" r="2.65"/>
</g>
<g fill="#7f7f7f">
<circle cx="182.0" cy="443.9" r="2.65"/>
<circle cx="181.9" cy="440.0" r="2.65"/>
<circle cx="176.9" cy="443.1" r="2.65"/>
<circle cx="181.0" cy="448.5" r="2.65"/>
<circle cx="166.4" cy="447.2" r="2.65"/>
<circle cx="169.0" cy="439.8" r="2.65"/>
<circle cx="179.1" cy="439.5" r="2.65"/>
<circle cx="172.6" cy="449.0" r="2.65"/>
<circle cx="181.0" cy="437.1" r="2.65"/>
<circle cx="169.1" cy="445.2" r="2.65"/>
<circle cx="172.5" cy="442.4" r="2.65"/>
<circle cx="166.4" cy="436.6" r="2.65"/>
<circle cx="179.0" cy="445.9" r="2.65"/>
<circle cx="166.4" cy="439.8" r="2.65"/>
</g>
<g fill="#9467bd">
<circle cx="184.8" cy="443.3" r="2.65"/>
<circle cx="180.4" cy="452.0" r="2.65"/>
</g>
<g fill="#17becf">
<circle cx="204.9" cy="422.4" r="2.65"/>
<circle cx="211.2" cy="414.6" r="2.65"/>
<circle cx="198.8" cy="417.5" r="2.65"/>
<circle cx="196.2" cy="417.7" r="2.65"/>
<circle cx="183.8" cy="438.3" r="2.65"/>
<circle cx="202.8" cy="425.6" r="2.65"/>
<circle cx="196.1" cy="422.6" r="2.65"/>
<circle cx="203.1" cy="429.4" r="2.65"/>
<circle cx="198.4" cy="433.0" r="2.65"/>
<circle cx="190.7" cy="432.3" r="2.65"/>
<circle cx="207.3" cy="412.2" r="2.65"/>
<circle cx="199.8" cy="423.4" r="2.65"/>
<circle cx="215.1" cy="417.6" r="2.65"/>
<circle cx="208.4" cy="416.2" r="2.65"/>
<circle cx="188.1" cy="436.5" r="2.65"/>
<circle cx="203.1" cy="414.4" r="2.65"/>
<circle cx="214.3" cy="422.8" r="2.65"/>
<circle cx="212.4" cy="425.6" r="2.65"/>
<circle cx="183.2" cy="432.0" r="2.65"/>
<circle cx="189.8" cy="425.1" r="2.65"/>
<circle cx="217.0" cy="411.6" r="2.65"/>
<circle cx="187.6" cy="430.9" r="2.65"/>
<circle cx="210.2" cy="419.1" r="2.65"/>
<circle cx="205.3" cy="425.5" r="2.65"/>
<circle cx="195.1" cy="436.7" r="2.65"/>
<circle cx="185.0" cy="427.1" r="2.65"/>
<circle cx="192.4" cy="425.6" r="2.65"/>
<circle cx="209.2" cy="427.3" r="2.65"/>
<circle cx="203.7" cy="418.1" r="2.65"/>
<circle cx="216.6" cy="420.6" r="2.65"/>
<circle cx="199.0" cy="428.7" r="2.65"/>
<circle cx="190.7" cy="435.3" r="2.65"/>
<circle cx="185.4" cy="435.5" r="2.65"/>
<circle cx="189.1" cy="421.5" r="2.65"/>
<circle cx="190.1" cy="438.2" r="2.65"/>
<circle cx="198.0" cy="426.5" r="2.65"/>
<circle cx="194.4" cy="419.8" r="2.65"/>
<circle cx="205.2" cy="428.4" r="2.65"/>
<circle cx="187.7" cy="424.0" r="2.65"/>
<circle cx="195.2" cy="433.5" r="2.65"/>
<circle cx="215.2" cy="425.1" r="2.65"/>
<circle cx="207.2" cy="430.6" r="2.65"/>
<circle cx="193.0" cy="431.3" r="2.65"/>
<circle cx="206.8" cy="419.8" r="2.65"/>
<circle cx="209.4" cy="421.6" r="2.65"/>
<circle cx="213.0" cy="416.4" r="2.65"/>
<circle cx="193.7" cy="429.0" r="2.65"/>
<circle cx="191.0" cy="429.6" r="2.65"/>
<circle cx="184.2" cy="424.5" r="2.65"/>
<circle cx="201.9" cy="421.3" r="2.65"/>
<circle cx="215.1" cy="412.9" r="2.65"/>
<circle cx="195.6" cy="426.2" r="2.65"/>
<circle cx="187.6" cy="427.0" r="2.65"/>
<circle cx="202.3" cy="432.5" r="2.65"/>
<circle cx="213.7" cy="419.8" r="2.65"/>
</g>
<g fill="#e377c2">
<circle cx="198.0" cy="419.3" r="2.65"/>
<circle cx="187.3" cy="420.1" r="2.65"/>
<circle cx="191.7" cy="417.4" r="2.65"/>
<circle cx="191.5" cy="420.6" r="2.65"/>
<circle cx="191.0" cy="423.8" r="2.65"/>
<circle cx="187.7" cy="415.5" r="2.65"/>
<circle cx="199.7" cy="414.6" r="2.65"/>
<circle cx="187.3" cy="423.4" r="2.65"/>
<circle cx="196.3" cy="423.3" r="2.65"/>
<circle cx="194.3" cy="421.8" r="2.65"/>
</g>
<g fill="#ff7f0e">
<circle cx="184.8" cy="417.8" r="2.65"/>
</g>
<g fill="#bcbd22">
<circle cx="208.3" cy="415.0" r="2.65"/>
<circle cx="202.4" cy="411.6" r="2.65"/>
<circle cx="223.9" cy="409.0" r="2.65"/>
<circle cx="217.8" cy="408.9" r="2.65"/>
<circle cx="225.2" cy="400.1" r="2.65"/>
<circle cx="223.0" cy="405.7" r="2.65"/>
<circle cx="226.6" cy="403.5" r="2.65"/>
<circle cx="204.8" cy="408.1" r="2.65"/>
<circle cx="215.9" cy="401.7" r="2.65"/>
<circle cx="220.5" cy="399.8" r="2.65"/>
<circle cx="206.0" cy="414.6" r="2.65"/>
<circle cx="225.3" cy="412.9" r="2.65"/>
<circle cx="212.2" cy="409.1" r="2.65"/>
<circle cx="209.6" cy="407.3" r="2.65"/>
<circle cx="221.6" cy="413.1" r="2.65"/>
<circle cx="205.1" cy="416.8" r="2.65"/>
<circle cx="212.5" cy="406.5" r="2.65"/>
<circle cx="224.1" cy="403.7" r="2.65"/>
<circle cx="215.6" cy="407.6" r="2.65"/>
<circle cx="218.8" cy="414.9" r="2.65"/>
<circle cx="220.7" cy="406.4" r="2.65"/>
<circle cx="219.8" cy="411.3" r="2.65"/>
<circle cx="217.9" cy="403.9" r="2.65"/>
<circle cx="210.5" cy="413.6" r="2.65"/>
<circle cx="215.3" cy="404.6" r="2.65"/>
<circle cx="209.7" cy="404.2" r="2.65"/>
<circle cx="210.0" cy="401.1" r="2.65"/>
<circle cx="203.3" cy="414.6" r="2.65"/>
<circle cx="216.4" cy="399.4" r="2.65"/>
<circle cx="213.7" cy="417.0" r="2.65"/>
<circle cx="213.0" cy="411.3" r="2.65"/>
<circle cx="221.3" cy="409.1" r="2.65"/>
</g>
<g fill="#8c564b">
<circle cx="189.9" cy="420.0" r="2.65"/>
<circle cx="200.8" cy="408.3" r="2.65"/>
<circle cx="206.6" cy="401.8" r="2.65"/>
<circle cx="212.5" cy="397.4" r="2.65"/>
<circle cx="222.7" cy="394.5" r="2.65"/>
<circle cx="230.0" cy="393.7" r="2.65"/>
<circle cx="219.0" cy="399.6" r="2.65"/>
<circle cx="230.0" cy="396.0" r="2.65"/>
<circle cx="226.0" cy="392.0" r="2.65"/>
</g>
<g fill="#2ca02c">
<circle cx="218.3" cy="395.2" r="2.65"/>
</g>
<g fill="#7f7f7f">
<circle cx="221.0" cy="413.9" r="2.65"/>
<circle cx="218.8" cy="418.1" r="2.65"/>
<circle cx="228.5" cy="418.2" r="2.65"/>
<circle cx="222.0" cy="411.7" r="2.65"/>
<circle cx="215.8" cy="411.3" r="2.65"/>
<circle cx="228.7" cy="412.1" r="2.65"/>
<circle cx="218.4" cy="414.3" r="2.65"/>
<circle cx="222.8" cy="417.5" r="2.65"/>
<circle cx="226.3" cy="420.0" r="2.65"/>
</g>
<g fill="#9467bd">
<circle cx="226.3" cy="406.1" r="2.65"/>
</g>
<line x1="53.3" y1="531.4" x2="252.3" y2="380.3" stroke="#000" stroke-width="1.55"/>
<path d="M53.3 380.3V531.4H252.3" fill="none" stroke="#000" stroke-width="1.5"/>
<line x1="53.3" y1="531.4" x2="53.3" y2="534.9" stroke="#000" stroke-width="1.1"/>
<line x1="49.8" y1="531.4" x2="53.3" y2="531.4" stroke="#000" stroke-width="1.1"/>
<text x="47.3" y="535.3" text-anchor="end" class="tk" textLength="17" lengthAdjust="spacing">0.0</text>
<text x="53.3" y="544.7" text-anchor="middle" class="tk" textLength="17" lengthAdjust="spacing">0.0</text>
<line x1="96.8" y1="531.4" x2="96.8" y2="534.9" stroke="#000" stroke-width="1.1"/>
<line x1="49.8" y1="498.4" x2="53.3" y2="498.4" stroke="#000" stroke-width="1.1"/>
<text x="47.3" y="502.3" text-anchor="end" class="tk" textLength="17" lengthAdjust="spacing">0.5</text>
<text x="96.8" y="544.7" text-anchor="middle" class="tk" textLength="17" lengthAdjust="spacing">0.5</text>
<line x1="140.3" y1="531.4" x2="140.3" y2="534.9" stroke="#000" stroke-width="1.1"/>
<line x1="49.8" y1="465.3" x2="53.3" y2="465.3" stroke="#000" stroke-width="1.1"/>
<text x="47.3" y="469.2" text-anchor="end" class="tk" textLength="17" lengthAdjust="spacing">1.0</text>
<text x="140.3" y="544.7" text-anchor="middle" class="tk" textLength="17" lengthAdjust="spacing">1.0</text>
<line x1="183.8" y1="531.4" x2="183.8" y2="534.9" stroke="#000" stroke-width="1.1"/>
<line x1="49.8" y1="432.3" x2="53.3" y2="432.3" stroke="#000" stroke-width="1.1"/>
<text x="47.3" y="436.2" text-anchor="end" class="tk" textLength="17" lengthAdjust="spacing">1.5</text>
<text x="183.8" y="544.7" text-anchor="middle" class="tk" textLength="17" lengthAdjust="spacing">1.5</text>
<line x1="227.3" y1="531.4" x2="227.3" y2="534.9" stroke="#000" stroke-width="1.1"/>
<line x1="49.8" y1="399.3" x2="53.3" y2="399.3" stroke="#000" stroke-width="1.1"/>
<text x="47.3" y="403.2" text-anchor="end" class="tk" textLength="17" lengthAdjust="spacing">2.0</text>
<text x="227.3" y="544.7" text-anchor="middle" class="tk" textLength="17" lengthAdjust="spacing">2.0</text>
<rect x="59.4" y="378.8" width="112.6" height="14.9" fill="#fff" stroke="#b3d9f3" stroke-width="1"/>
<text x="115.7" y="390.4" text-anchor="middle" class="mp" textLength="104.9" lengthAdjust="spacing">MAPE: 6.20 ± 2.92%</text>
<g fill="#17becf">
<circle cx="347.0" cy="465.9" r="2.65"/>
<circle cx="340.0" cy="475.3" r="2.65"/>
</g>
<g fill="#e377c2">
<circle cx="342.0" cy="466.9" r="2.65"/>
</g>
<g fill="#d62728">
<circle cx="357.4" cy="465.4" r="2.65"/>
<circle cx="383.2" cy="441.1" r="2.65"/>
</g>
<g fill="#bcbd22">
<circle cx="367.2" cy="452.3" r="2.65"/>
</g>
<g fill="#17becf">
<circle cx="320.4" cy="498.6" r="2.65"/>
<circle cx="398.0" cy="424.9" r="2.65"/>
</g>
<g fill="#e377c2">
<circle cx="342.5" cy="479.3" r="2.65"/>
</g>
<g fill="#8c564b">
<circle cx="403.0" cy="436.1" r="2.65"/>
</g>
<g fill="#bcbd22">
<circle cx="359.7" cy="454.8" r="2.65"/>
</g>
<g fill="#e377c2">
<circle cx="380.3" cy="449.4" r="2.65"/>
</g>
<g fill="#bcbd22">
<circle cx="326.7" cy="480.2" r="2.65"/>
</g>
<g fill="#17becf">
<circle cx="429.7" cy="416.9" r="2.65"/>
</g>
<g fill="#9467bd">
<circle cx="363.2" cy="462.4" r="2.65"/>
</g>
<g fill="#ff7f0e">
<circle cx="420.1" cy="410.9" r="2.65"/>
</g>
<g fill="#9467bd">
<circle cx="430.3" cy="410.3" r="2.65"/>
</g>
<g fill="#e377c2">
<circle cx="349.2" cy="463.8" r="2.65"/>
</g>
<g fill="#bcbd22">
<circle cx="417.1" cy="420.9" r="2.65"/>
<circle cx="327.4" cy="483.2" r="2.65"/>
<circle cx="354.1" cy="466.4" r="2.65"/>
<circle cx="408.9" cy="418.9" r="2.65"/>
</g>
<g fill="#e377c2">
<circle cx="372.6" cy="459.7" r="2.65"/>
</g>
<g fill="#d62728">
<circle cx="328.9" cy="485.2" r="2.65"/>
</g>
<g fill="#7f7f7f">
<circle cx="416.0" cy="413.2" r="2.65"/>
</g>
<g fill="#9467bd">
<circle cx="404.5" cy="425.7" r="2.65"/>
</g>
<g fill="#e377c2">
<circle cx="341.8" cy="483.4" r="2.65"/>
</g>
<g fill="#bcbd22">
<circle cx="321.0" cy="485.0" r="2.65"/>
</g>
<g fill="#d62728">
<circle cx="410.9" cy="421.0" r="2.65"/>
<circle cx="361.4" cy="452.6" r="2.65"/>
</g>
<g fill="#17becf">
<circle cx="374.1" cy="453.1" r="2.65"/>
<circle cx="409.9" cy="431.1" r="2.65"/>
</g>
<g fill="#d62728">
<circle cx="337.1" cy="483.8" r="2.65"/>
</g>
<g fill="#8c564b">
<circle cx="356.1" cy="458.8" r="2.65"/>
</g>
<g fill="#d62728">
<circle cx="385.8" cy="445.7" r="2.65"/>
<circle cx="326.8" cy="488.4" r="2.65"/>
<circle cx="356.1" cy="472.3" r="2.65"/>
</g>
<g fill="#9467bd">
<circle cx="377.0" cy="440.2" r="2.65"/>
</g>
<g fill="#8c564b">
<circle cx="421.9" cy="413.8" r="2.65"/>
</g>
<g fill="#d62728">
<circle cx="420.7" cy="417.2" r="2.65"/>
</g>
<g fill="#bcbd22">
<circle cx="366.0" cy="448.6" r="2.65"/>
</g>
<g fill="#9467bd">
<circle cx="342.1" cy="476.5" r="2.65"/>
</g>
<g fill="#7f7f7f">
<circle cx="429.2" cy="404.9" r="2.65"/>
</g>
<g fill="#bcbd22">
<circle cx="389.2" cy="444.3" r="2.65"/>
</g>
<g fill="#17becf">
<circle cx="337.5" cy="472.4" r="2.65"/>
</g>
<g fill="#7f7f7f">
<circle cx="373.6" cy="448.8" r="2.65"/>
</g>
<g fill="#e377c2">
<circle cx="337.5" cy="469.2" r="2.65"/>
</g>
<g fill="#ff7f0e">
<circle cx="421.5" cy="422.9" r="2.65"/>
</g>
<g fill="#bcbd22">
<circle cx="385.7" cy="440.0" r="2.65"/>
<circle cx="346.9" cy="472.6" r="2.65"/>
</g>
<g fill="#17becf">
<circle cx="356.8" cy="455.2" r="2.65"/>
</g>
<g fill="#9467bd">
<circle cx="347.0" cy="479.7" r="2.65"/>
</g>
<g fill="#e377c2">
<circle cx="421.3" cy="405.1" r="2.65"/>
<circle cx="374.9" cy="442.9" r="2.65"/>
</g>
<g fill="#17becf">
<circle cx="384.9" cy="443.5" r="2.65"/>
</g>
<g fill="#8c564b">
<circle cx="363.9" cy="458.5" r="2.65"/>
</g>
<g fill="#9467bd">
<circle cx="330.3" cy="489.4" r="2.65"/>
</g>
<g fill="#bcbd22">
<circle cx="370.0" cy="451.7" r="2.65"/>
</g>
<g fill="#ff7f0e">
<circle cx="388.3" cy="433.5" r="2.65"/>
</g>
<g fill="#17becf">
<circle cx="435.0" cy="406.0" r="2.65"/>
</g>
<g fill="#e377c2">
<circle cx="385.9" cy="448.6" r="2.65"/>
</g>
<g fill="#9467bd">
<circle cx="376.3" cy="453.7" r="2.65"/>
</g>
<g fill="#ff7f0e">
<circle cx="324.5" cy="494.4" r="2.65"/>
</g>
<g fill="#e377c2">
<circle cx="385.2" cy="434.4" r="2.65"/>
</g>
<g fill="#9467bd">
<circle cx="389.2" cy="428.8" r="2.65"/>
</g>
<g fill="#ff7f0e">
<circle cx="396.0" cy="438.4" r="2.65"/>
</g>
<g fill="#bcbd22">
<circle cx="336.0" cy="479.4" r="2.65"/>
</g>
<g fill="#17becf">
<circle cx="394.3" cy="433.2" r="2.65"/>
</g>
<g fill="#ff7f0e">
<circle cx="377.4" cy="443.6" r="2.65"/>
</g>
<g fill="#9467bd">
<circle cx="401.3" cy="421.2" r="2.65"/>
</g>
<g fill="#e377c2">
<circle cx="405.3" cy="421.2" r="2.65"/>
<circle cx="362.9" cy="454.5" r="2.65"/>
</g>
<g fill="#bcbd22">
<circle cx="332.8" cy="485.8" r="2.65"/>
</g>
<g fill="#e377c2">
<circle cx="435.2" cy="410.7" r="2.65"/>
</g>
<g fill="#17becf">
<circle cx="320.5" cy="494.7" r="2.65"/>
</g>
<g fill="#7f7f7f">
<circle cx="330.6" cy="475.9" r="2.65"/>
</g>
<g fill="#9467bd">
<circle cx="321.1" cy="491.0" r="2.65"/>
</g>
<g fill="#bcbd22">
<circle cx="344.8" cy="477.1" r="2.65"/>
<circle cx="333.1" cy="474.4" r="2.65"/>
</g>
<g fill="#8c564b">
<circle cx="348.4" cy="477.8" r="2.65"/>
</g>
<g fill="#bcbd22">
<circle cx="418.3" cy="415.2" r="2.65"/>
</g>
<g fill="#e377c2">
<circle cx="329.1" cy="491.8" r="2.65"/>
</g>
<g fill="#17becf">
<circle cx="380.0" cy="442.9" r="2.65"/>
</g>
<g fill="#e377c2">
<circle cx="363.8" cy="465.9" r="2.65"/>
</g>
<g fill="#8c564b">
<circle cx="433.5" cy="408.2" r="2.65"/>
</g>
<g fill="#e377c2">
<circle cx="421.0" cy="408.2" r="2.65"/>
</g>
<g fill="#bcbd22">
<circle cx="426.6" cy="402.5" r="2.65"/>
</g>
<g fill="#e377c2">
<circle cx="332.9" cy="488.2" r="2.65"/>
</g>
<g fill="#bcbd22">
<circle cx="407.5" cy="425.0" r="2.65"/>
</g>
<g fill="#7f7f7f">
<circle cx="405.9" cy="416.7" r="2.65"/>
<circle cx="377.9" cy="456.0" r="2.65"/>
<circle cx="388.3" cy="436.9" r="2.65"/>
</g>
<g fill="#e377c2">
<circle cx="413.2" cy="415.5" r="2.65"/>
</g>
<g fill="#17becf">
<circle cx="360.6" cy="460.7" r="2.65"/>
</g>
<g fill="#bcbd22">
<circle cx="376.6" cy="451.4" r="2.65"/>
</g>
<g fill="#17becf">
<circle cx="382.9" cy="448.9" r="2.65"/>
<circle cx="327.3" cy="477.9" r="2.65"/>
</g>
<g fill="#bcbd22">
<circle cx="424.4" cy="417.5" r="2.65"/>
</g>
<g fill="#17becf">
<circle cx="428.7" cy="398.8" r="2.65"/>
</g>
<g fill="#7f7f7f">
<circle cx="404.0" cy="429.4" r="2.65"/>
<circle cx="433.7" cy="397.3" r="2.65"/>
</g>
<g fill="#e377c2">
<circle cx="390.9" cy="431.5" r="2.65"/>
</g>
<g fill="#9467bd">
<circle cx="388.5" cy="446.8" r="2.65"/>
</g>
<g fill="#bcbd22">
<circle cx="360.7" cy="466.4" r="2.65"/>
</g>
<g fill="#e377c2">
<circle cx="413.2" cy="429.0" r="2.65"/>
<circle cx="424.4" cy="405.9" r="2.65"/>
<circle cx="396.9" cy="429.8" r="2.65"/>
</g>
<g fill="#8c564b">
<circle cx="340.4" cy="471.4" r="2.65"/>
</g>
<g fill="#ff7f0e">
<circle cx="435.7" cy="402.6" r="2.65"/>
</g>
<g fill="#8c564b">
<circle cx="350.8" cy="474.3" r="2.65"/>
</g>
<g fill="#d62728">
<circle cx="353.7" cy="469.0" r="2.65"/>
</g>
<g fill="#ff7f0e">
<circle cx="433.3" cy="400.9" r="2.65"/>
</g>
<g fill="#7f7f7f">
<circle cx="366.2" cy="458.2" r="2.65"/>
</g>
<g fill="#e377c2">
<circle cx="415.0" cy="424.1" r="2.65"/>
</g>
<g fill="#9467bd">
<circle cx="377.6" cy="437.7" r="2.65"/>
</g>
<g fill="#bcbd22">
<circle cx="391.5" cy="427.5" r="2.65"/>
</g>
<g fill="#9467bd">
<circle cx="369.5" cy="447.0" r="2.65"/>
</g>
<g fill="#d62728">
<circle cx="360.9" cy="463.9" r="2.65"/>
</g>
<g fill="#bcbd22">
<circle cx="425.8" cy="415.0" r="2.65"/>
</g>
<g fill="#17becf">
<circle cx="354.3" cy="462.5" r="2.65"/>
<circle cx="398.8" cy="436.5" r="2.65"/>
</g>
<g fill="#7f7f7f">
<circle cx="409.5" cy="413.6" r="2.65"/>
</g>
<g fill="#17becf">
<circle cx="413.5" cy="418.8" r="2.65"/>
</g>
<g fill="#e377c2">
<circle cx="352.6" cy="472.5" r="2.65"/>
<circle cx="324.0" cy="487.2" r="2.65"/>
</g>
<g fill="#9467bd">
<circle cx="378.2" cy="446.2" r="2.65"/>
</g>
<g fill="#ff7f0e">
<circle cx="369.0" cy="454.7" r="2.65"/>
</g>
<g fill="#17becf">
<circle cx="330.0" cy="478.5" r="2.65"/>
</g>
<g fill="#8c564b">
<circle cx="401.7" cy="428.5" r="2.65"/>
</g>
<g fill="#bcbd22">
<circle cx="323.1" cy="480.1" r="2.65"/>
</g>
<g fill="#17becf">
<circle cx="345.9" cy="469.2" r="2.65"/>
</g>
<g fill="#bcbd22">
<circle cx="371.4" cy="442.7" r="2.65"/>
</g>
<g fill="#9467bd">
<circle cx="324.3" cy="494.0" r="2.65"/>
<circle cx="314.0" cy="498.0" r="2.65"/>
<circle cx="325.2" cy="500.9" r="2.65"/>
<circle cx="317.3" cy="503.9" r="2.65"/>
<circle cx="321.6" cy="507.7" r="2.65"/>
<circle cx="326.2" cy="490.7" r="2.65"/>
<circle cx="317.4" cy="493.5" r="2.65"/>
<circle cx="320.2" cy="491.4" r="2.65"/>
<circle cx="326.6" cy="495.0" r="2.65"/>
<circle cx="315.2" cy="494.6" r="2.65"/>
<circle cx="318.4" cy="500.8" r="2.65"/>
<circle cx="319.8" cy="489.0" r="2.65"/>
<circle cx="322.0" cy="502.6" r="2.65"/>
<circle cx="316.8" cy="507.0" r="2.65"/>
<circle cx="320.3" cy="498.0" r="2.65"/>
<circle cx="317.9" cy="490.4" r="2.65"/>
<circle cx="316.3" cy="498.2" r="2.65"/>
<circle cx="324.1" cy="496.7" r="2.65"/>
<circle cx="329.9" cy="490.0" r="2.65"/>
<circle cx="329.6" cy="486.9" r="2.65"/>
<circle cx="327.0" cy="486.8" r="2.65"/>
<circle cx="324.1" cy="504.7" r="2.65"/>
<circle cx="319.3" cy="509.0" r="2.65"/>
<circle cx="321.3" cy="494.3" r="2.65"/>
<circle cx="327.6" cy="497.5" r="2.65"/>
<circle cx="324.0" cy="486.9" r="2.65"/>
<circle cx="330.0" cy="493.9" r="2.65"/>
</g>
<g fill="#1f77b4">
<circle cx="315.3" cy="488.9" r="2.65"/>
<circle cx="315.3" cy="492.7" r="2.65"/>
</g>
<g fill="#e377c2">
<circle cx="336.9" cy="470.6" r="2.65"/>
<circle cx="334.5" cy="467.9" r="2.65"/>
<circle cx="340.0" cy="473.1" r="2.65"/>
<circle cx="332.3" cy="475.5" r="2.65"/>
<circle cx="340.8" cy="476.7" r="2.65"/>
<circle cx="334.7" cy="472.8" r="2.65"/>
<circle cx="330.4" cy="468.6" r="2.65"/>
<circle cx="330.0" cy="474.3" r="2.65"/>
</g>
<g fill="#bcbd22">
<circle cx="339.3" cy="478.5" r="2.65"/>
<circle cx="338.6" cy="472.5" r="2.65"/>
<circle cx="336.3" cy="479.4" r="2.65"/>
<circle cx="333.0" cy="484.4" r="2.65"/>
<circle cx="341.9" cy="473.7" r="2.65"/>
<circle cx="341.8" cy="482.6" r="2.65"/>
<circle cx="335.3" cy="483.5" r="2.65"/>
<circle cx="343.0" cy="470.2" r="2.65"/>
<circle cx="348.1" cy="473.2" r="2.65"/>
<circle cx="348.9" cy="470.2" r="2.65"/>
<circle cx="340.6" cy="471.1" r="2.65"/>
<circle cx="346.2" cy="480.9" r="2.65"/>
<circle cx="348.9" cy="481.3" r="2.65"/>
<circle cx="345.1" cy="476.6" r="2.65"/>
<circle cx="334.9" cy="474.7" r="2.65"/>
<circle cx="346.0" cy="469.6" r="2.65"/>
<circle cx="340.0" cy="475.6" r="2.65"/>
<circle cx="332.8" cy="479.0" r="2.65"/>
</g>
<g fill="#d62728">
<circle cx="328.2" cy="478.6" r="2.65"/>
<circle cx="328.2" cy="481.2" r="2.65"/>
<circle cx="332.0" cy="488.2" r="2.65"/>
<circle cx="370.0" cy="463.8" r="2.65"/>
</g>
<g fill="#ff7f0e">
<circle cx="337.2" cy="488.2" r="2.65"/>
<circle cx="338.4" cy="491.4" r="2.65"/>
<circle cx="344.2" cy="485.0" r="2.65"/>
</g>
<g fill="#bcbd22">
<circle cx="332.7" cy="478.6" r="2.65"/>
<circle cx="332.7" cy="484.4" r="2.65"/>
</g>
<g fill="#9467bd">
<circle cx="338.4" cy="483.7" r="2.65"/>
<circle cx="352.6" cy="475.4" r="2.65"/>
</g>
<g fill="#8c564b">
<circle cx="339.7" cy="481.2" r="2.65"/>
<circle cx="352.0" cy="470.9" r="2.65"/>
</g>
<g fill="#e377c2">
<circle cx="355.2" cy="468.3" r="2.65"/>
</g>
<g fill="#7f7f7f">
<circle cx="354.5" cy="458.2" r="2.65"/>
<circle cx="353.7" cy="464.8" r="2.65"/>
<circle cx="355.6" cy="467.2" r="2.65"/>
<circle cx="351.7" cy="462.2" r="2.65"/>
<circle cx="349.6" cy="458.6" r="2.65"/>
<circle cx="354.8" cy="455.3" r="2.65"/>
<circle cx="356.9" cy="458.5" r="2.65"/>
<circle cx="350.4" cy="467.8" r="2.65"/>
<circle cx="356.9" cy="461.2" r="2.65"/>
</g>
<g fill="#bcbd22">
<circle cx="363.2" cy="461.8" r="2.65"/>
<circle cx="356.7" cy="455.9" r="2.65"/>
<circle cx="360.0" cy="458.1" r="2.65"/>
<circle cx="365.3" cy="452.1" r="2.65"/>
<circle cx="362.9" cy="450.8" r="2.65"/>
<circle cx="355.6" cy="463.6" r="2.65"/>
<circle cx="358.9" cy="463.9" r="2.65"/>
<circle cx="365.8" cy="454.7" r="2.65"/>
<circle cx="361.5" cy="464.3" r="2.65"/>
<circle cx="366.5" cy="457.9" r="2.65"/>
<circle cx="357.5" cy="465.7" r="2.65"/>
<circle cx="358.6" cy="460.4" r="2.65"/>
<circle cx="359.1" cy="453.3" r="2.65"/>
</g>
<g fill="#7f7f7f">
<circle cx="364.2" cy="461.9" r="2.65"/>
</g>
<g fill="#17becf">
<circle cx="378.9" cy="444.1" r="2.65"/>
<circle cx="377.0" cy="452.2" r="2.65"/>
<circle cx="365.9" cy="450.1" r="2.65"/>
<circle cx="382.5" cy="441.2" r="2.65"/>
<circle cx="378.0" cy="439.8" r="2.65"/>
<circle cx="379.4" cy="448.6" r="2.65"/>
<circle cx="386.0" cy="441.6" r="2.65"/>
<circle cx="383.2" cy="444.6" r="2.65"/>
<circle cx="374.4" cy="447.9" r="2.65"/>
<circle cx="373.5" cy="441.8" r="2.65"/>
<circle cx="371.9" cy="449.2" r="2.65"/>
<circle cx="373.4" cy="454.4" r="2.65"/>
<circle cx="368.9" cy="449.6" r="2.65"/>
<circle cx="372.9" cy="445.9" r="2.65"/>
<circle cx="370.4" cy="445.7" r="2.65"/>
<circle cx="384.6" cy="439.6" r="2.65"/>
<circle cx="380.0" cy="452.2" r="2.65"/>
<circle cx="387.6" cy="444.6" r="2.65"/>
<circle cx="366.9" cy="453.9" r="2.65"/>
<circle cx="384.3" cy="448.5" r="2.65"/>
<circle cx="376.6" cy="445.0" r="2.65"/>
<circle cx="372.6" cy="448.0" r="2.65"/>
<circle cx="382.9" cy="451.3" r="2.65"/>
<circle cx="384.0" cy="445.5" r="2.65"/>
<circle cx="382.6" cy="443.0" r="2.65"/>
<circle cx="386.6" cy="449.6" r="2.65"/>
<circle cx="372.6" cy="451.3" r="2.65"/>
<circle cx="378.2" cy="443.4" r="2.65"/>
<circle cx="386.6" cy="444.7" r="2.65"/>
<circle cx="375.9" cy="446.4" r="2.65"/>
<circle cx="376.6" cy="440.6" r="2.65"/>
<circle cx="370.6" cy="444.0" r="2.65"/>
<circle cx="383.2" cy="439.5" r="2.65"/>
<circle cx="379.7" cy="448.7" r="2.65"/>
<circle cx="371.0" cy="437.9" r="2.65"/>
<circle cx="375.4" cy="438.0" r="2.65"/>
<circle cx="376.2" cy="451.0" r="2.65"/>
<circle cx="387.8" cy="437.3" r="2.65"/>
</g>
<g fill="#bcbd22">
<circle cx="396.6" cy="435.8" r="2.65"/>
<circle cx="388.3" cy="438.9" r="2.65"/>
<circle cx="388.6" cy="432.7" r="2.65"/>
<circle cx="380.9" cy="434.9" r="2.65"/>
<circle cx="373.8" cy="438.7" r="2.65"/>
<circle cx="388.0" cy="435.4" r="2.65"/>
<circle cx="385.0" cy="437.5" r="2.65"/>
<circle cx="394.2" cy="431.7" r="2.65"/>
<circle cx="394.4" cy="438.7" r="2.65"/>
<circle cx="378.3" cy="436.2" r="2.65"/>
<circle cx="386.1" cy="431.6" r="2.65"/>
</g>
<g fill="#ff7f0e">
<circle cx="390.0" cy="429.2" r="2.65"/>
<circle cx="393.8" cy="426.7" r="2.65"/>
<circle cx="399.6" cy="438.2" r="2.65"/>
</g>
<g fill="#7f7f7f">
<circle cx="390.6" cy="440.2" r="2.65"/>
<circle cx="394.4" cy="429.2" r="2.65"/>
</g>
<g fill="#17becf">
<circle cx="424.8" cy="411.1" r="2.65"/>
<circle cx="416.1" cy="415.6" r="2.65"/>
<circle cx="409.3" cy="421.1" r="2.65"/>
<circle cx="411.6" cy="418.4" r="2.65"/>
<circle cx="411.1" cy="425.1" r="2.65"/>
<circle cx="427.2" cy="417.5" r="2.65"/>
<circle cx="420.5" cy="413.2" r="2.65"/>
<circle cx="415.9" cy="423.2" r="2.65"/>
<circle cx="413.7" cy="421.4" r="2.65"/>
<circle cx="398.8" cy="427.5" r="2.65"/>
<circle cx="419.4" cy="424.4" r="2.65"/>
<circle cx="407.9" cy="427.4" r="2.65"/>
<circle cx="427.4" cy="407.6" r="2.65"/>
<circle cx="401.5" cy="426.1" r="2.65"/>
<circle cx="418.3" cy="414.0" r="2.65"/>
<circle cx="425.9" cy="413.8" r="2.65"/>
<circle cx="423.8" cy="419.8" r="2.65"/>
<circle cx="422.1" cy="410.3" r="2.65"/>
<circle cx="403.9" cy="429.6" r="2.65"/>
<circle cx="406.1" cy="432.7" r="2.65"/>
<circle cx="400.0" cy="430.2" r="2.65"/>
<circle cx="413.7" cy="427.1" r="2.65"/>
<circle cx="419.4" cy="416.3" r="2.65"/>
<circle cx="425.0" cy="416.7" r="2.65"/>
<circle cx="422.5" cy="422.9" r="2.65"/>
<circle cx="406.3" cy="429.7" r="2.65"/>
<circle cx="410.5" cy="429.2" r="2.65"/>
<circle cx="423.5" cy="414.2" r="2.65"/>
<circle cx="406.8" cy="422.9" r="2.65"/>
<circle cx="404.6" cy="425.7" r="2.65"/>
<circle cx="417.4" cy="419.4" r="2.65"/>
<circle cx="420.4" cy="421.7" r="2.65"/>
<circle cx="418.7" cy="410.9" r="2.65"/>
<circle cx="406.7" cy="419.7" r="2.65"/>
<circle cx="428.0" cy="411.5" r="2.65"/>
<circle cx="428.8" cy="415.8" r="2.65"/>
</g>
<g fill="#e377c2">
<circle cx="403.4" cy="424.7" r="2.65"/>
<circle cx="412.4" cy="432.4" r="2.65"/>
<circle cx="413.0" cy="417.0" r="2.65"/>
<circle cx="408.0" cy="430.0" r="2.65"/>
</g>
<g fill="#d62728">
<circle cx="414.4" cy="413.2" r="2.65"/>
<circle cx="404.7" cy="435.0" r="2.65"/>
<circle cx="414.4" cy="431.1" r="2.65"/>
</g>
<g fill="#1f77b4">
<circle cx="395.0" cy="444.0" r="2.65"/>
<circle cx="404.7" cy="419.0" r="2.65"/>
<circle cx="409.2" cy="417.0" r="2.65"/>
<circle cx="384.8" cy="450.5" r="2.65"/>
</g>
<g fill="#9467bd">
<circle cx="399.0" cy="441.4" r="2.65"/>
<circle cx="415.7" cy="406.0" r="2.65"/>
<circle cx="425.3" cy="422.0" r="2.65"/>
</g>
<g fill="#8c564b">
<circle cx="397.0" cy="424.7" r="2.65"/>
<circle cx="404.0" cy="421.5" r="2.65"/>
<circle cx="427.9" cy="401.0" r="2.65"/>
<circle cx="433.0" cy="402.2" r="2.65"/>
<circle cx="436.9" cy="396.4" r="2.65"/>
<circle cx="444.0" cy="397.7" r="2.65"/>
</g>
<g fill="#bcbd22">
<circle cx="429.5" cy="406.6" r="2.65"/>
<circle cx="432.7" cy="414.5" r="2.65"/>
<circle cx="434.9" cy="404.3" r="2.65"/>
<circle cx="437.5" cy="405.9" r="2.65"/>
<circle cx="441.0" cy="408.3" r="2.65"/>
<circle cx="432.7" cy="419.8" r="2.65"/>
<circle cx="429.1" cy="410.9" r="2.65"/>
<circle cx="433.4" cy="408.6" r="2.65"/>
<circle cx="438.7" cy="412.2" r="2.65"/>
<circle cx="425.7" cy="419.7" r="2.65"/>
<circle cx="437.6" cy="402.9" r="2.65"/>
<circle cx="429.6" cy="415.6" r="2.65"/>
<circle cx="435.4" cy="411.8" r="2.65"/>
<circle cx="436.3" cy="408.8" r="2.65"/>
<circle cx="425.2" cy="413.3" r="2.65"/>
<circle cx="432.0" cy="406.5" r="2.65"/>
<circle cx="430.0" cy="418.8" r="2.65"/>
</g>
<g fill="#7f7f7f">
<circle cx="440.6" cy="417.7" r="2.65"/>
<circle cx="440.1" cy="409.3" r="2.65"/>
<circle cx="431.1" cy="412.9" r="2.65"/>
<circle cx="437.8" cy="417.4" r="2.65"/>
<circle cx="438.2" cy="413.2" r="2.65"/>
<circle cx="432.2" cy="410.3" r="2.65"/>
<circle cx="433.4" cy="408.1" r="2.65"/>
</g>
<g fill="#bcbd22">
<circle cx="436.9" cy="417.7" r="2.65"/>
</g>
<line x1="267.1" y1="531.4" x2="466.1" y2="380.3" stroke="#000" stroke-width="1.55"/>
<path d="M267.1 380.3V531.4H466.1" fill="none" stroke="#000" stroke-width="1.5"/>
<line x1="267.1" y1="531.4" x2="267.1" y2="534.9" stroke="#000" stroke-width="1.1"/>
<line x1="263.6" y1="531.4" x2="267.1" y2="531.4" stroke="#000" stroke-width="1.1"/>
<text x="267.1" y="544.7" text-anchor="middle" class="tk" textLength="17" lengthAdjust="spacing">0.0</text>
<line x1="310.6" y1="531.4" x2="310.6" y2="534.9" stroke="#000" stroke-width="1.1"/>
<line x1="263.6" y1="498.4" x2="267.1" y2="498.4" stroke="#000" stroke-width="1.1"/>
<text x="310.6" y="544.7" text-anchor="middle" class="tk" textLength="17" lengthAdjust="spacing">0.5</text>
<line x1="354.1" y1="531.4" x2="354.1" y2="534.9" stroke="#000" stroke-width="1.1"/>
<line x1="263.6" y1="465.3" x2="267.1" y2="465.3" stroke="#000" stroke-width="1.1"/>
<text x="354.1" y="544.7" text-anchor="middle" class="tk" textLength="17" lengthAdjust="spacing">1.0</text>
<line x1="397.6" y1="531.4" x2="397.6" y2="534.9" stroke="#000" stroke-width="1.1"/>
<line x1="263.6" y1="432.3" x2="267.1" y2="432.3" stroke="#000" stroke-width="1.1"/>
<text x="397.6" y="544.7" text-anchor="middle" class="tk" textLength="17" lengthAdjust="spacing">1.5</text>
<line x1="441.1" y1="531.4" x2="441.1" y2="534.9" stroke="#000" stroke-width="1.1"/>
<line x1="263.6" y1="399.3" x2="267.1" y2="399.3" stroke="#000" stroke-width="1.1"/>
<text x="441.1" y="544.7" text-anchor="middle" class="tk" textLength="17" lengthAdjust="spacing">2.0</text>
<rect x="273.2" y="378.8" width="112.3" height="14.9" fill="#fff" stroke="#b3d9f3" stroke-width="1"/>
<text x="329.4" y="390.4" text-anchor="middle" class="mp" textLength="104.5" lengthAdjust="spacing">MAPE: 4.51 ± 1.38%</text>
<g fill="#9467bd">
<circle cx="606.8" cy="437.1" r="2.65"/>
</g>
<g fill="#7f7f7f">
<circle cx="614.9" cy="424.0" r="2.65"/>
</g>
<g fill="#d62728">
<circle cx="611.4" cy="434.7" r="2.65"/>
</g>
<g fill="#e377c2">
<circle cx="613.1" cy="426.4" r="2.65"/>
</g>
<g fill="#bcbd22">
<circle cx="534.7" cy="491.8" r="2.65"/>
</g>
<g fill="#8c564b">
<circle cx="644.0" cy="406.4" r="2.65"/>
</g>
<g fill="#d62728">
<circle cx="638.5" cy="413.5" r="2.65"/>
</g>
<g fill="#bcbd22">
<circle cx="567.4" cy="464.7" r="2.65"/>
</g>
<g fill="#e377c2">
<circle cx="652.6" cy="399.5" r="2.65"/>
</g>
<g fill="#bcbd22">
<circle cx="576.9" cy="462.6" r="2.65"/>
</g>
<g fill="#7f7f7f">
<circle cx="630.9" cy="410.6" r="2.65"/>
<circle cx="539.4" cy="483.1" r="2.65"/>
</g>
<g fill="#9467bd">
<circle cx="562.1" cy="469.1" r="2.65"/>
</g>
<g fill="#e377c2">
<circle cx="543.1" cy="479.0" r="2.65"/>
</g>
<g fill="#d62728">
<circle cx="532.3" cy="499.7" r="2.65"/>
</g>
<g fill="#9467bd">
<circle cx="542.6" cy="486.0" r="2.65"/>
</g>
<g fill="#e377c2">
<circle cx="630.2" cy="414.3" r="2.65"/>
<circle cx="650.8" cy="403.8" r="2.65"/>
</g>
<g fill="#7f7f7f">
<circle cx="622.9" cy="419.6" r="2.65"/>
</g>
<g fill="#9467bd">
<circle cx="574.7" cy="462.0" r="2.65"/>
</g>
<g fill="#7f7f7f">
<circle cx="550.8" cy="484.0" r="2.65"/>
</g>
<g fill="#bcbd22">
<circle cx="654.9" cy="395.7" r="2.65"/>
</g>
<g fill="#8c564b">
<circle cx="537.5" cy="489.7" r="2.65"/>
</g>
<g fill="#9467bd">
<circle cx="633.7" cy="408.1" r="2.65"/>
</g>
<g fill="#e377c2">
<circle cx="642.4" cy="412.3" r="2.65"/>
<circle cx="565.2" cy="460.3" r="2.65"/>
<circle cx="604.0" cy="431.7" r="2.65"/>
</g>
<g fill="#9467bd">
<circle cx="613.9" cy="430.8" r="2.65"/>
</g>
<g fill="#e377c2">
<circle cx="544.7" cy="475.8" r="2.65"/>
</g>
<g fill="#8c564b">
<circle cx="561.1" cy="464.8" r="2.65"/>
</g>
<g fill="#bcbd22">
<circle cx="538.8" cy="494.2" r="2.65"/>
</g>
<g fill="#9467bd">
<circle cx="635.9" cy="416.6" r="2.65"/>
</g>
<g fill="#bcbd22">
<circle cx="556.7" cy="474.7" r="2.65"/>
</g>
<g fill="#8c564b">
<circle cx="571.1" cy="464.0" r="2.65"/>
</g>
<g fill="#9467bd">
<circle cx="573.3" cy="466.5" r="2.65"/>
</g>
<g fill="#e377c2">
<circle cx="588.1" cy="451.1" r="2.65"/>
</g>
<g fill="#17becf">
<circle cx="636.2" cy="412.5" r="2.65"/>
</g>
<g fill="#d62728">
<circle cx="532.8" cy="496.9" r="2.65"/>
</g>
<g fill="#bcbd22">
<circle cx="557.8" cy="467.7" r="2.65"/>
</g>
<g fill="#d62728">
<circle cx="652.8" cy="407.3" r="2.65"/>
</g>
<g fill="#e377c2">
<circle cx="595.6" cy="444.8" r="2.65"/>
<circle cx="551.8" cy="475.1" r="2.65"/>
</g>
<g fill="#bcbd22">
<circle cx="619.4" cy="426.7" r="2.65"/>
</g>
<g fill="#7f7f7f">
<circle cx="598.7" cy="440.8" r="2.65"/>
</g>
<g fill="#17becf">
<circle cx="653.6" cy="405.0" r="2.65"/>
</g>
<g fill="#7f7f7f">
<circle cx="564.3" cy="462.7" r="2.65"/>
<circle cx="581.6" cy="451.0" r="2.65"/>
</g>
<g fill="#17becf">
<circle cx="577.0" cy="464.9" r="2.65"/>
</g>
<g fill="#e377c2">
<circle cx="620.6" cy="421.9" r="2.65"/>
</g>
<g fill="#17becf">
<circle cx="550.2" cy="479.4" r="2.65"/>
</g>
<g fill="#7f7f7f">
<circle cx="555.3" cy="472.0" r="2.65"/>
</g>
<g fill="#ff7f0e">
<circle cx="603.4" cy="440.5" r="2.65"/>
<circle cx="642.5" cy="409.7" r="2.65"/>
</g>
<g fill="#8c564b">
<circle cx="645.5" cy="412.3" r="2.65"/>
</g>
<g fill="#17becf">
<circle cx="647.8" cy="403.4" r="2.65"/>
<circle cx="578.7" cy="459.8" r="2.65"/>
<circle cx="626.2" cy="419.3" r="2.65"/>
</g>
<g fill="#7f7f7f">
<circle cx="580.2" cy="453.6" r="2.65"/>
<circle cx="553.1" cy="477.8" r="2.65"/>
<circle cx="547.6" cy="480.4" r="2.65"/>
</g>
<g fill="#9467bd">
<circle cx="634.6" cy="420.6" r="2.65"/>
</g>
<g fill="#17becf">
<circle cx="542.3" cy="489.2" r="2.65"/>
</g>
<g fill="#9467bd">
<circle cx="570.0" cy="467.0" r="2.65"/>
</g>
<g fill="#7f7f7f">
<circle cx="617.8" cy="422.5" r="2.65"/>
<circle cx="619.9" cy="431.1" r="2.65"/>
</g>
<g fill="#bcbd22">
<circle cx="596.5" cy="450.6" r="2.65"/>
</g>
<g fill="#7f7f7f">
<circle cx="545.5" cy="484.6" r="2.65"/>
</g>
<g fill="#8c564b">
<circle cx="555.6" cy="481.0" r="2.65"/>
</g>
<g fill="#e377c2">
<circle cx="590.4" cy="445.2" r="2.65"/>
</g>
<g fill="#d62728">
<circle cx="573.4" cy="455.8" r="2.65"/>
</g>
<g fill="#7f7f7f">
<circle cx="538.7" cy="486.6" r="2.65"/>
</g>
<g fill="#9467bd">
<circle cx="627.4" cy="412.7" r="2.65"/>
</g>
<g fill="#ff7f0e">
<circle cx="610.1" cy="426.5" r="2.65"/>
</g>
<g fill="#bcbd22">
<circle cx="563.8" cy="472.6" r="2.65"/>
<circle cx="624.5" cy="415.6" r="2.65"/>
<circle cx="588.1" cy="447.7" r="2.65"/>
</g>
<g fill="#d62728">
<circle cx="604.3" cy="444.2" r="2.65"/>
</g>
<g fill="#bcbd22">
<circle cx="565.0" cy="465.5" r="2.65"/>
<circle cx="554.9" cy="468.9" r="2.65"/>
</g>
<g fill="#d62728">
<circle cx="560.8" cy="476.9" r="2.65"/>
</g>
<g fill="#bcbd22">
<circle cx="576.6" cy="458.6" r="2.65"/>
</g>
<g fill="#e377c2">
<circle cx="540.6" cy="480.7" r="2.65"/>
</g>
<g fill="#bcbd22">
<circle cx="553.1" cy="482.8" r="2.65"/>
</g>
<g fill="#e377c2">
<circle cx="647.1" cy="407.1" r="2.65"/>
</g>
<g fill="#17becf">
<circle cx="638.9" cy="415.9" r="2.65"/>
</g>
<g fill="#9467bd">
<circle cx="567.1" cy="470.2" r="2.65"/>
</g>
<g fill="#7f7f7f">
<circle cx="548.7" cy="475.6" r="2.65"/>
<circle cx="623.7" cy="424.4" r="2.65"/>
</g>
<g fill="#17becf">
<circle cx="583.0" cy="447.5" r="2.65"/>
</g>
<g fill="#e377c2">
<circle cx="639.1" cy="406.6" r="2.65"/>
</g>
<g fill="#bcbd22">
<circle cx="637.7" cy="408.8" r="2.65"/>
<circle cx="580.3" cy="462.7" r="2.65"/>
</g>
<g fill="#9467bd">
<circle cx="540.1" cy="482.2" r="2.65"/>
<circle cx="527.4" cy="503.0" r="2.65"/>
<circle cx="532.5" cy="488.8" r="2.65"/>
<circle cx="531.1" cy="495.1" r="2.65"/>
<circle cx="537.4" cy="491.7" r="2.65"/>
<circle cx="530.2" cy="486.7" r="2.65"/>
<circle cx="538.9" cy="486.0" r="2.65"/>
<circle cx="540.9" cy="478.6" r="2.65"/>
<circle cx="531.1" cy="491.6" r="2.65"/>
<circle cx="529.8" cy="497.1" r="2.65"/>
<circle cx="538.4" cy="494.0" r="2.65"/>
<circle cx="535.8" cy="488.9" r="2.65"/>
<circle cx="536.9" cy="496.0" r="2.65"/>
<circle cx="537.8" cy="483.5" r="2.65"/>
<circle cx="528.5" cy="490.9" r="2.65"/>
<circle cx="536.0" cy="486.0" r="2.65"/>
<circle cx="527.7" cy="494.6" r="2.65"/>
<circle cx="540.9" cy="487.2" r="2.65"/>
<circle cx="531.0" cy="500.6" r="2.65"/>
</g>
<g fill="#e377c2">
<circle cx="546.1" cy="479.7" r="2.65"/>
<circle cx="547.8" cy="478.0" r="2.65"/>
<circle cx="549.0" cy="482.2" r="2.65"/>
<circle cx="557.9" cy="474.4" r="2.65"/>
<circle cx="545.1" cy="483.7" r="2.65"/>
<circle cx="554.0" cy="473.9" r="2.65"/>
</g>
<g fill="#7f7f7f">
<circle cx="557.2" cy="471.7" r="2.65"/>
<circle cx="567.2" cy="458.9" r="2.65"/>
<circle cx="557.8" cy="474.2" r="2.65"/>
<circle cx="570.6" cy="458.9" r="2.65"/>
<circle cx="573.0" cy="466.6" r="2.65"/>
<circle cx="572.5" cy="456.9" r="2.65"/>
<circle cx="555.1" cy="480.9" r="2.65"/>
<circle cx="576.1" cy="453.4" r="2.65"/>
<circle cx="556.7" cy="476.7" r="2.65"/>
<circle cx="572.6" cy="454.6" r="2.65"/>
<circle cx="574.9" cy="462.6" r="2.65"/>
<circle cx="568.0" cy="470.6" r="2.65"/>
<circle cx="577.7" cy="450.4" r="2.65"/>
<circle cx="576.6" cy="457.6" r="2.65"/>
<circle cx="560.3" cy="477.1" r="2.65"/>
<circle cx="564.7" cy="466.3" r="2.65"/>
<circle cx="565.2" cy="473.1" r="2.65"/>
<circle cx="554.5" cy="472.9" r="2.65"/>
<circle cx="563.6" cy="464.1" r="2.65"/>
<circle cx="576.0" cy="465.5" r="2.65"/>
<circle cx="571.8" cy="461.9" r="2.65"/>
<circle cx="557.8" cy="466.9" r="2.65"/>
<circle cx="561.3" cy="466.6" r="2.65"/>
<circle cx="561.4" cy="473.7" r="2.65"/>
<circle cx="567.6" cy="464.5" r="2.65"/>
<circle cx="560.2" cy="464.1" r="2.65"/>
<circle cx="562.5" cy="471.2" r="2.65"/>
</g>
<g fill="#bcbd22">
<circle cx="546.2" cy="477.9" r="2.65"/>
<circle cx="546.2" cy="485.7" r="2.65"/>
<circle cx="559.5" cy="477.9" r="2.65"/>
<circle cx="560.7" cy="463.4" r="2.65"/>
<circle cx="571.8" cy="461.2" r="2.65"/>
<circle cx="574.6" cy="453.4" r="2.65"/>
<circle cx="574.0" cy="449.5" r="2.65"/>
<circle cx="579.6" cy="461.7" r="2.65"/>
<circle cx="583.0" cy="447.8" r="2.65"/>
<circle cx="557.0" cy="475.0" r="2.65"/>
<circle cx="562.0" cy="472.0" r="2.65"/>
<circle cx="564.0" cy="466.0" r="2.65"/>
</g>
<g fill="#d62728">
<circle cx="550.6" cy="472.3" r="2.65"/>
<circle cx="542.3" cy="490.7" r="2.65"/>
<circle cx="569.6" cy="455.0" r="2.65"/>
<circle cx="583.5" cy="442.8" r="2.65"/>
<circle cx="580.0" cy="448.9" r="2.65"/>
</g>
<g fill="#ff7f0e">
<circle cx="551.7" cy="484.0" r="2.65"/>
<circle cx="571.8" cy="448.9" r="2.65"/>
</g>
<g fill="#e377c2">
<circle cx="554.5" cy="480.1" r="2.65"/>
<circle cx="548.4" cy="475.7" r="2.65"/>
<circle cx="589.0" cy="459.0" r="2.65"/>
<circle cx="589.6" cy="442.2" r="2.65"/>
</g>
<g fill="#9467bd">
<circle cx="541.2" cy="482.3" r="2.65"/>
<circle cx="564.0" cy="456.7" r="2.65"/>
</g>
<g fill="#1f77b4">
<circle cx="542.8" cy="479.0" r="2.65"/>
<circle cx="553.4" cy="466.2" r="2.65"/>
<circle cx="599.0" cy="451.7" r="2.65"/>
</g>
<g fill="#8c564b">
<circle cx="572.4" cy="470.6" r="2.65"/>
<circle cx="577.4" cy="466.7" r="2.65"/>
</g>
<g fill="#17becf">
<circle cx="586.5" cy="455.8" r="2.65"/>
<circle cx="581.6" cy="451.5" r="2.65"/>
<circle cx="601.4" cy="443.6" r="2.65"/>
<circle cx="594.6" cy="442.1" r="2.65"/>
<circle cx="589.9" cy="446.2" r="2.65"/>
<circle cx="588.5" cy="453.5" r="2.65"/>
<circle cx="594.1" cy="448.5" r="2.65"/>
<circle cx="579.6" cy="462.2" r="2.65"/>
<circle cx="599.3" cy="446.1" r="2.65"/>
<circle cx="590.3" cy="442.6" r="2.65"/>
<circle cx="601.1" cy="437.5" r="2.65"/>
<circle cx="596.7" cy="438.9" r="2.65"/>
<circle cx="582.1" cy="457.1" r="2.65"/>
<circle cx="602.6" cy="433.6" r="2.65"/>
<circle cx="583.6" cy="447.9" r="2.65"/>
<circle cx="605.6" cy="430.5" r="2.65"/>
<circle cx="604.0" cy="439.5" r="2.65"/>
<circle cx="601.5" cy="440.7" r="2.65"/>
<circle cx="587.6" cy="451.3" r="2.65"/>
<circle cx="600.3" cy="434.5" r="2.65"/>
<circle cx="590.3" cy="449.0" r="2.65"/>
<circle cx="596.8" cy="443.4" r="2.65"/>
<circle cx="593.0" cy="438.8" r="2.65"/>
<circle cx="593.3" cy="445.8" r="2.65"/>
<circle cx="586.1" cy="446.5" r="2.65"/>
<circle cx="597.5" cy="434.7" r="2.65"/>
<circle cx="581.1" cy="453.7" r="2.65"/>
<circle cx="591.4" cy="451.1" r="2.65"/>
<circle cx="605.1" cy="435.0" r="2.65"/>
<circle cx="584.7" cy="452.2" r="2.65"/>
<circle cx="580.8" cy="447.4" r="2.65"/>
<circle cx="596.8" cy="449.9" r="2.65"/>
</g>
<g fill="#bcbd22">
<circle cx="604.8" cy="441.4" r="2.65"/>
<circle cx="607.0" cy="434.3" r="2.65"/>
<circle cx="611.0" cy="433.8" r="2.65"/>
<circle cx="602.5" cy="437.0" r="2.65"/>
<circle cx="607.3" cy="438.4" r="2.65"/>
<circle cx="602.0" cy="442.0" r="2.65"/>
<circle cx="607.5" cy="441.1" r="2.65"/>
</g>
<g fill="#17becf">
<circle cx="637.5" cy="404.6" r="2.65"/>
<circle cx="633.5" cy="412.5" r="2.65"/>
<circle cx="623.7" cy="418.0" r="2.65"/>
<circle cx="619.2" cy="428.9" r="2.65"/>
<circle cx="634.0" cy="407.2" r="2.65"/>
<circle cx="625.5" cy="421.7" r="2.65"/>
<circle cx="627.7" cy="416.7" r="2.65"/>
<circle cx="627.1" cy="425.8" r="2.65"/>
<circle cx="631.5" cy="418.4" r="2.65"/>
<circle cx="617.7" cy="421.0" r="2.65"/>
<circle cx="621.3" cy="427.5" r="2.65"/>
<circle cx="636.4" cy="417.2" r="2.65"/>
<circle cx="639.2" cy="407.9" r="2.65"/>
<circle cx="627.4" cy="420.0" r="2.65"/>
<circle cx="629.4" cy="412.4" r="2.65"/>
<circle cx="642.8" cy="400.8" r="2.65"/>
<circle cx="613.5" cy="434.5" r="2.65"/>
<circle cx="615.9" cy="422.5" r="2.65"/>
<circle cx="634.4" cy="419.8" r="2.65"/>
<circle cx="635.8" cy="413.1" r="2.65"/>
<circle cx="623.0" cy="425.5" r="2.65"/>
<circle cx="643.9" cy="404.0" r="2.65"/>
<circle cx="638.8" cy="414.3" r="2.65"/>
<circle cx="620.3" cy="422.1" r="2.65"/>
<circle cx="623.2" cy="422.4" r="2.65"/>
<circle cx="635.7" cy="410.6" r="2.65"/>
<circle cx="645.2" cy="400.3" r="2.65"/>
<circle cx="614.2" cy="431.5" r="2.65"/>
<circle cx="642.1" cy="407.6" r="2.65"/>
<circle cx="629.6" cy="422.3" r="2.65"/>
<circle cx="625.4" cy="415.3" r="2.65"/>
<circle cx="615.8" cy="426.5" r="2.65"/>
<circle cx="645.6" cy="409.6" r="2.65"/>
<circle cx="630.1" cy="415.2" r="2.65"/>
<circle cx="641.8" cy="411.8" r="2.65"/>
<circle cx="617.6" cy="425.1" r="2.65"/>
<circle cx="641.6" cy="405.4" r="2.65"/>
</g>
<g fill="#bcbd22">
<circle cx="654.6" cy="397.7" r="2.65"/>
<circle cx="649.1" cy="403.1" r="2.65"/>
<circle cx="639.4" cy="413.6" r="2.65"/>
<circle cx="640.0" cy="409.7" r="2.65"/>
<circle cx="652.2" cy="404.2" r="2.65"/>
<circle cx="652.6" cy="399.7" r="2.65"/>
<circle cx="643.2" cy="408.7" r="2.65"/>
<circle cx="643.0" cy="406.0" r="2.65"/>
<circle cx="655.0" cy="401.9" r="2.65"/>
<circle cx="644.0" cy="411.0" r="2.65"/>
<circle cx="643.0" cy="413.8" r="2.65"/>
<circle cx="639.5" cy="406.8" r="2.65"/>
<circle cx="649.2" cy="399.5" r="2.65"/>
<circle cx="646.7" cy="402.1" r="2.65"/>
<circle cx="649.0" cy="406.8" r="2.65"/>
<circle cx="654.5" cy="405.4" r="2.65"/>
</g>
<g fill="#1f77b4">
<circle cx="597.8" cy="431.8" r="2.65"/>
<circle cx="599.5" cy="451.3" r="2.65"/>
<circle cx="630.0" cy="431.2" r="2.65"/>
</g>
<g fill="#7f7f7f">
<circle cx="595.6" cy="435.7" r="2.65"/>
<circle cx="605.0" cy="450.7" r="2.65"/>
<circle cx="645.7" cy="411.2" r="2.65"/>
<circle cx="655.2" cy="402.3" r="2.65"/>
<circle cx="648.0" cy="408.0" r="2.65"/>
</g>
<g fill="#9467bd">
<circle cx="613.4" cy="417.9" r="2.65"/>
<circle cx="609.5" cy="444.6" r="2.65"/>
<circle cx="623.4" cy="412.3" r="2.65"/>
<circle cx="627.3" cy="413.0" r="2.65"/>
<circle cx="654.0" cy="396.1" r="2.65"/>
<circle cx="641.8" cy="421.8" r="2.65"/>
<circle cx="637.4" cy="404.0" r="2.65"/>
</g>
<g fill="#8c564b">
<circle cx="607.3" cy="426.0" r="2.65"/>
<circle cx="612.0" cy="429.0" r="2.65"/>
<circle cx="659.0" cy="401.7" r="2.65"/>
<circle cx="635.7" cy="421.8" r="2.65"/>
</g>
<g fill="#2ca02c">
<circle cx="621.8" cy="433.5" r="2.65"/>
<circle cx="605.6" cy="429.5" r="2.65"/>
<circle cx="606.2" cy="448.5" r="2.65"/>
</g>
<g fill="#e377c2">
<circle cx="624.6" cy="431.8" r="2.65"/>
<circle cx="618.4" cy="423.4" r="2.65"/>
</g>
<g fill="#d62728">
<circle cx="614.0" cy="439.0" r="2.65"/>
<circle cx="600.6" cy="448.0" r="2.65"/>
</g>
<line x1="481.5" y1="531.4" x2="680.5" y2="380.3" stroke="#000" stroke-width="1.55"/>
<path d="M481.5 380.3V531.4H680.5" fill="none" stroke="#000" stroke-width="1.5"/>
<line x1="481.5" y1="531.4" x2="481.5" y2="534.9" stroke="#000" stroke-width="1.1"/>
<line x1="478.0" y1="531.4" x2="481.5" y2="531.4" stroke="#000" stroke-width="1.1"/>
<text x="481.5" y="544.7" text-anchor="middle" class="tk" textLength="17" lengthAdjust="spacing">0.0</text>
<line x1="525.0" y1="531.4" x2="525.0" y2="534.9" stroke="#000" stroke-width="1.1"/>
<line x1="478.0" y1="498.4" x2="481.5" y2="498.4" stroke="#000" stroke-width="1.1"/>
<text x="525.0" y="544.7" text-anchor="middle" class="tk" textLength="17" lengthAdjust="spacing">0.5</text>
<line x1="568.5" y1="531.4" x2="568.5" y2="534.9" stroke="#000" stroke-width="1.1"/>
<line x1="478.0" y1="465.3" x2="481.5" y2="465.3" stroke="#000" stroke-width="1.1"/>
<text x="568.5" y="544.7" text-anchor="middle" class="tk" textLength="17" lengthAdjust="spacing">1.0</text>
<line x1="612.0" y1="531.4" x2="612.0" y2="534.9" stroke="#000" stroke-width="1.1"/>
<line x1="478.0" y1="432.3" x2="481.5" y2="432.3" stroke="#000" stroke-width="1.1"/>
<text x="612.0" y="544.7" text-anchor="middle" class="tk" textLength="17" lengthAdjust="spacing">1.5</text>
<line x1="655.5" y1="531.4" x2="655.5" y2="534.9" stroke="#000" stroke-width="1.1"/>
<line x1="478.0" y1="399.3" x2="481.5" y2="399.3" stroke="#000" stroke-width="1.1"/>
<text x="655.5" y="544.7" text-anchor="middle" class="tk" textLength="17" lengthAdjust="spacing">2.0</text>
<rect x="487.6" y="378.8" width="121.1" height="14.9" fill="#fff" stroke="#b3d9f3" stroke-width="1"/>
<text x="548.1" y="390.4" text-anchor="middle" class="mp" textLength="114.3" lengthAdjust="spacing">MAPE: 3.38 ± 0.816%</text>
</svg>
</body></html>
